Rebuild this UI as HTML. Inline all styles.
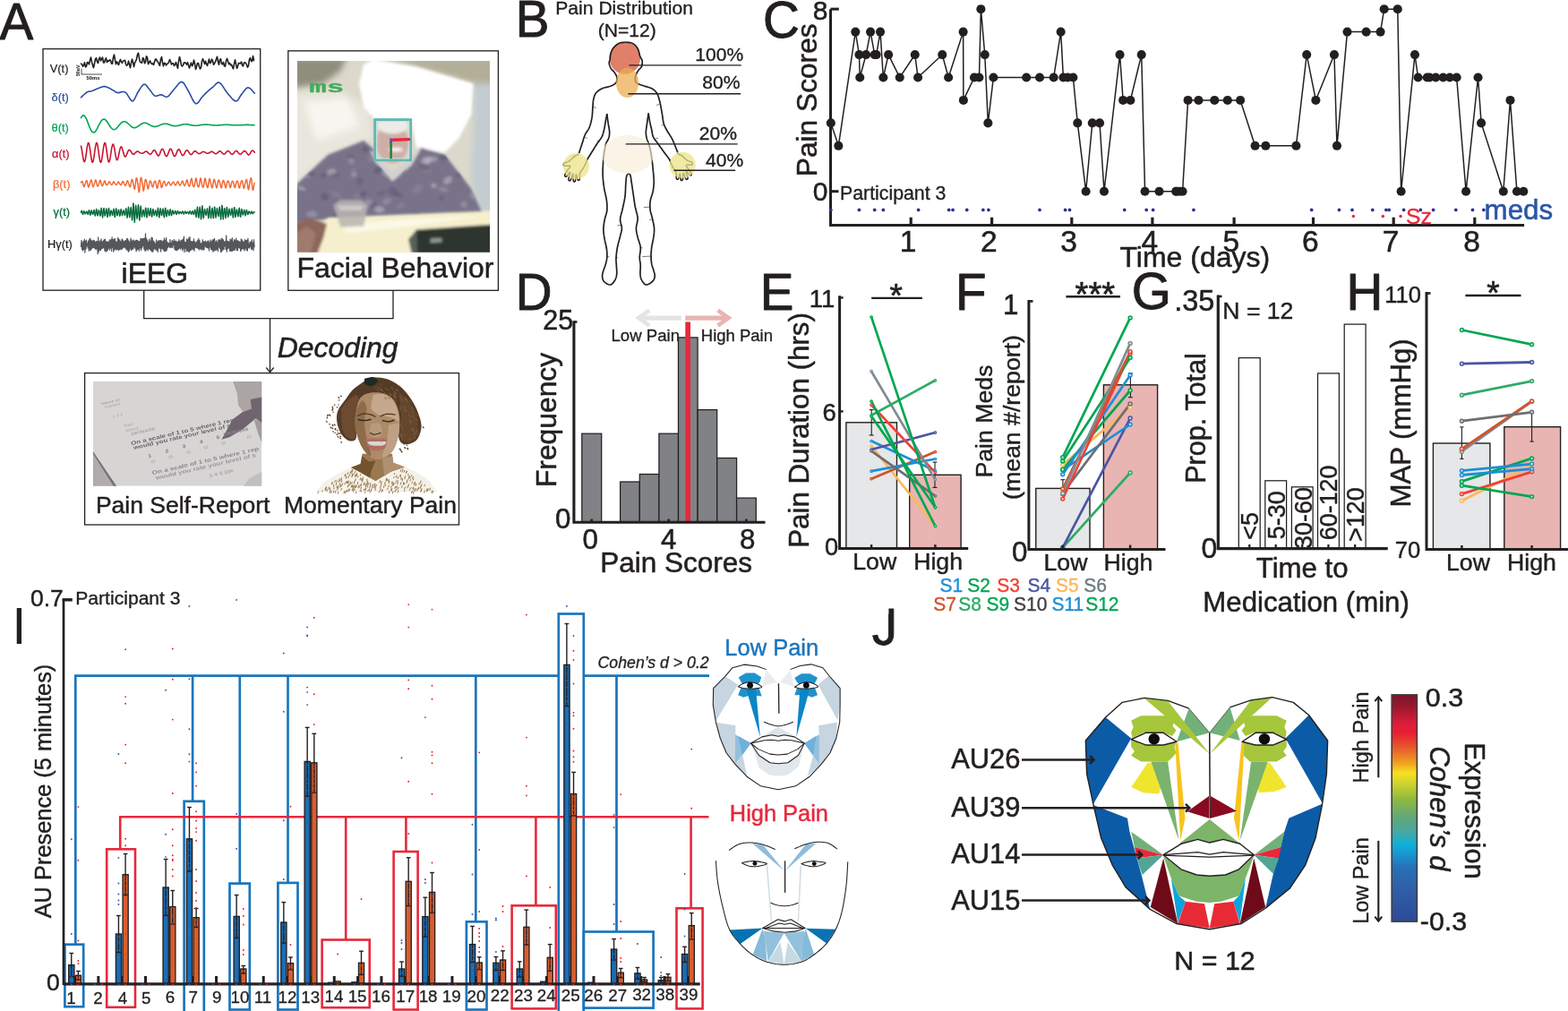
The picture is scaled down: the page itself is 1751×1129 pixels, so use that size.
<!DOCTYPE html>
<html><head><meta charset="utf-8"><title>Figure</title>
<style>
html,body{margin:0;padding:0;background:#fff;}
body{width:1751px;height:1129px;overflow:hidden;}
svg{display:block;font-family:"Liberation Sans",sans-serif;}
text{stroke-width:0.017em;stroke-linejoin:round;}
</style></head>
<body>
<svg width="1751" height="1129" viewBox="0 0 1751 1129">
<rect width="1751" height="1129" fill="#fff"/>
<g>
<text x="-0.50" y="44.00" font-size="56.5" fill="#231f20" stroke="#231f20" text-anchor="start">A</text>
<rect x="48.00" y="54.60" width="242.70" height="269.60" fill="none" stroke="#231f20" stroke-width="1.3"/>
<text x="55.80" y="81.40" font-size="12.8" fill="#231f20" stroke="#231f20" text-anchor="start">V(t)</text>
<text x="57.60" y="112.80" font-size="12.8" fill="#2a4ea0" stroke="#2a4ea0" text-anchor="start">δ(t)</text>
<text x="57.60" y="147.20" font-size="12.8" fill="#00a651" stroke="#00a651" text-anchor="start">θ(t)</text>
<text x="58.00" y="176.30" font-size="12.8" fill="#c8102e" stroke="#c8102e" text-anchor="start">α(t)</text>
<text x="59.00" y="209.80" font-size="12.8" fill="#f26a35" stroke="#f26a35" text-anchor="start">β(t)</text>
<text x="59.60" y="240.90" font-size="12.8" fill="#006838" stroke="#006838" text-anchor="start">γ(t)</text>
<text x="53.10" y="276.70" font-size="12.8" fill="#231f20" stroke="#231f20" text-anchor="start">Hγ(t)</text>
<path d="M90.5,71.1 L91.5,71.6 L92.5,74.2 L93.5,73.0 L94.5,69.8 L95.5,74.9 L96.5,74.0 L97.5,69.5 L98.5,70.0 L99.5,71.8 L100.5,67.4 L101.5,64.0 L102.5,69.2 L103.5,72.9 L104.5,75.6 L105.5,71.0 L106.5,65.9 L107.5,64.7 L108.5,68.9 L109.5,70.5 L110.5,65.8 L111.5,64.0 L112.5,67.9 L113.5,65.9 L114.5,64.0 L115.5,69.9 L116.5,69.9 L117.5,66.6 L118.5,64.8 L119.5,69.6 L120.5,67.8 L121.5,68.2 L122.5,66.8 L123.5,67.5 L124.5,71.0 L125.5,71.2 L126.5,64.2 L127.5,61.1 L128.5,67.0 L129.5,71.8 L130.5,68.9 L131.5,70.6 L132.5,72.6 L133.5,68.5 L134.5,66.4 L135.5,69.5 L136.5,70.3 L137.5,68.0 L138.5,67.7 L139.5,67.3 L140.5,71.7 L141.5,73.3 L142.5,72.2 L143.5,68.1 L144.5,72.0 L145.5,75.7 L146.5,70.2 L147.5,66.1 L148.5,69.4 L149.5,74.7 L150.5,70.2 L151.5,68.3 L152.5,66.1 L153.5,60.8 L154.5,59.1 L155.5,65.1 L156.5,69.2 L157.5,70.0 L158.5,70.1 L159.5,64.6 L160.5,65.4 L161.5,70.8 L162.5,69.3 L163.5,62.8 L164.5,64.2 L165.5,71.7 L166.5,69.9 L167.5,67.8 L168.5,70.2 L169.5,71.5 L170.5,70.9 L171.5,72.5 L172.5,69.2 L173.5,66.1 L174.5,66.1 L175.5,68.6 L176.5,69.1 L177.5,71.6 L178.5,73.4 L179.5,66.2 L180.5,63.5 L181.5,69.7 L182.5,73.9 L183.5,70.4 L184.5,70.6 L185.5,72.9 L186.5,71.5 L187.5,70.9 L188.5,69.5 L189.5,66.6 L190.5,68.7 L191.5,72.0 L192.5,70.8 L193.5,70.7 L194.5,73.4 L195.5,72.1 L196.5,69.5 L197.5,73.0 L198.5,76.3 L199.5,68.5 L200.5,63.5 L201.5,67.5 L202.5,72.9 L203.5,74.0 L204.5,72.6 L205.5,70.1 L206.5,69.7 L207.5,70.8 L208.5,72.1 L209.5,69.7 L210.5,73.2 L211.5,76.0 L212.5,72.6 L213.5,70.1 L214.5,73.8 L215.5,71.8 L216.5,67.0 L217.5,71.0 L218.5,77.4 L219.5,74.8 L220.5,70.6 L221.5,70.5 L222.5,74.3 L223.5,76.9 L224.5,75.3 L225.5,68.2 L226.5,65.7 L227.5,68.3 L228.5,71.4 L229.5,68.3 L230.5,71.5 L231.5,73.3 L232.5,69.9 L233.5,66.0 L234.5,70.6 L235.5,69.7 L236.5,66.1 L237.5,67.6 L238.5,72.3 L239.5,70.8 L240.5,69.1 L241.5,66.0 L242.5,63.2 L243.5,69.0 L244.5,72.3 L245.5,66.5 L246.5,65.8 L247.5,71.3 L248.5,71.7 L249.5,69.4 L250.5,73.7 L251.5,74.1 L252.5,68.4 L253.5,65.3 L254.5,68.3 L255.5,71.6 L256.5,70.4 L257.5,72.7 L258.5,72.1 L259.5,74.8 L260.5,76.9 L261.5,71.4 L262.5,66.8 L263.5,71.4 L264.5,76.3 L265.5,74.1 L266.5,70.4 L267.5,70.7 L268.5,70.9 L269.5,69.0 L270.5,72.7 L271.5,73.9 L272.5,70.1 L273.5,69.7 L274.5,70.6 L275.5,72.5 L276.5,75.1 L277.5,73.2 L278.5,66.1 L279.5,64.7 L280.5,68.3 L281.5,68.6 L282.5,62.5 L283.5,67.4" fill="none" stroke="#231f20" stroke-width="1.6" stroke-linejoin="round" stroke-linecap="round"/>
<path d="M90.5,108.8 L91.2,108.1 L92.2,107.1 L93.4,106.0 L94.6,104.8 L95.9,103.8 L97.0,103.0 L98.0,102.5 L99.0,102.2 L100.0,102.1 L100.9,102.0 L101.9,101.8 L103.0,101.5 L104.1,101.1 L105.3,100.6 L106.4,100.0 L107.6,99.5 L108.8,99.0 L110.0,98.5 L111.2,98.1 L112.3,97.6 L113.5,97.2 L114.7,96.8 L115.8,96.6 L117.0,96.6 L118.2,96.8 L119.3,97.2 L120.5,97.7 L121.7,98.3 L122.8,98.9 L124.0,99.5 L125.2,100.2 L126.4,100.9 L127.6,101.7 L128.7,102.5 L129.9,103.1 L131.0,103.5 L132.1,103.6 L133.1,103.4 L134.2,103.2 L135.2,102.8 L136.1,102.6 L137.0,102.5 L137.7,102.5 L138.4,102.5 L138.9,102.6 L139.5,102.9 L140.2,103.3 L141.0,104.0 L142.0,105.3 L143.1,107.1 L144.4,109.2 L145.6,111.1 L146.9,112.5 L148.0,113.0 L149.0,112.4 L150.0,111.0 L151.0,109.1 L152.0,107.0 L153.0,104.8 L154.0,103.0 L155.1,101.3 L156.3,99.4 L157.4,97.6 L158.6,95.9 L159.8,94.7 L160.9,94.1 L162.0,94.2 L163.0,94.9 L164.0,96.1 L165.0,97.4 L166.0,98.8 L167.0,100.0 L168.0,101.2 L169.0,102.6 L169.9,103.9 L170.9,105.2 L171.9,106.3 L173.0,107.0 L174.1,107.2 L175.3,107.1 L176.4,106.7 L177.6,106.3 L178.8,105.9 L180.0,105.8 L181.2,106.1 L182.3,106.7 L183.4,107.4 L184.6,108.0 L185.8,108.2 L187.0,108.0 L188.3,107.1 L189.6,105.8 L190.9,104.1 L192.3,102.3 L193.7,100.5 L195.0,99.0 L196.3,97.5 L197.7,95.7 L199.1,94.0 L200.4,92.6 L201.7,91.7 L203.0,91.4 L204.2,91.9 L205.4,93.1 L206.5,94.8 L207.6,96.8 L208.8,98.9 L210.0,101.0 L211.3,103.4 L212.8,106.4 L214.2,109.4 L215.7,112.3 L217.1,114.5 L218.5,115.7 L219.8,115.7 L221.1,114.7 L222.4,113.1 L223.6,111.3 L224.8,109.4 L226.0,108.0 L227.1,106.9 L228.1,105.8 L229.1,104.8 L230.1,103.9 L231.0,102.9 L232.0,102.0 L233.0,101.1 L234.0,100.2 L234.9,99.4 L235.9,98.6 L236.9,97.8 L238.0,97.0 L239.1,96.0 L240.2,94.8 L241.3,93.6 L242.5,92.6 L243.7,92.1 L245.0,92.3 L246.4,93.3 L247.8,95.1 L249.4,97.3 L250.9,99.7 L252.5,102.0 L254.0,104.0 L255.6,105.9 L257.2,107.8 L258.8,109.7 L260.4,111.4 L261.9,112.5 L263.3,113.0 L264.6,112.6 L265.7,111.6 L266.8,110.0 L267.8,108.2 L268.9,106.5 L270.0,105.0 L271.1,103.6 L272.3,102.0 L273.5,100.5 L274.6,99.2 L275.8,98.2 L277.0,97.8 L278.3,98.2 L279.7,99.2 L281.1,100.5 L282.4,102.0 L283.5,103.3 L284.3,104.2" fill="none" stroke="#2a4ea0" stroke-width="1.6" stroke-linejoin="round" stroke-linecap="round"/>
<path d="M90.5,131.6 L91.3,130.1 L92.1,129.2 L92.9,128.8 L93.7,128.9 L94.5,129.6 L95.3,130.6 L96.1,132.1 L96.9,133.9 L97.7,135.9 L98.5,138.0 L99.3,140.1 L100.1,142.1 L100.9,143.9 L101.7,145.5 L102.5,146.7 L103.3,147.5 L104.1,147.9 L104.9,147.9 L105.7,147.6 L106.5,146.8 L107.3,145.7 L108.1,144.4 L108.9,142.9 L109.7,141.2 L110.5,139.6 L111.3,138.0 L112.1,136.6 L112.9,135.3 L113.7,134.3 L114.5,133.6 L115.3,133.2 L116.1,133.1 L116.9,133.3 L117.7,133.8 L118.5,134.6 L119.3,135.6 L120.1,136.8 L120.9,138.0 L121.7,139.3 L122.5,140.5 L123.3,141.7 L124.1,142.7 L124.9,143.5 L125.7,144.2 L126.5,144.5 L127.3,144.7 L128.1,144.5 L128.9,144.2 L129.7,143.6 L130.5,142.9 L131.3,142.0 L132.1,141.1 L132.9,140.1 L133.7,139.1 L134.5,138.2 L135.3,137.4 L136.1,136.7 L136.9,136.2 L137.7,135.8 L138.5,135.7 L139.3,135.7 L140.1,136.0 L140.9,136.4 L141.7,136.9 L142.5,137.5 L143.3,138.3 L144.1,139.0 L144.9,139.8 L145.7,140.5 L146.5,141.2 L147.3,141.7 L148.1,142.2 L148.9,142.5 L149.7,142.6 L150.5,142.6 L151.3,142.5 L152.1,142.2 L152.9,141.8 L153.7,141.3 L154.5,140.8 L155.3,140.2 L156.1,139.6 L156.9,139.0 L157.7,138.5 L158.5,138.0 L159.3,137.7 L160.1,137.4 L160.9,137.3 L161.7,137.2 L162.5,137.3 L163.3,137.5 L164.1,137.8 L164.9,138.2 L165.7,138.6 L166.5,139.0 L167.3,139.5 L168.1,139.9 L168.9,140.4 L169.7,140.7 L170.5,141.0 L171.3,141.3 L172.1,141.4 L172.9,141.4 L173.7,141.4 L174.5,141.3 L175.3,141.1 L176.1,140.8 L176.9,140.5 L177.7,140.1 L178.5,139.8 L179.3,139.4 L180.1,139.1 L180.9,138.8 L181.7,138.5 L182.5,138.4 L183.3,138.2 L184.1,138.2 L184.9,138.2 L185.7,138.3 L186.5,138.4 L187.3,138.6 L188.1,138.9 L188.9,139.1 L189.7,139.4 L190.5,139.7 L191.3,139.9 L192.1,140.2 L192.9,140.4 L193.7,140.5 L194.5,140.6 L195.3,140.7 L196.1,140.7 L196.9,140.6 L197.7,140.5 L198.5,140.4 L199.3,140.2 L200.1,140.0 L200.9,139.8 L201.7,139.6 L202.5,139.4 L203.3,139.2 L204.1,139.0 L204.9,138.9 L205.7,138.8 L206.5,138.8 L207.3,138.7 L208.1,138.8 L208.9,138.8 L209.7,138.9 L210.5,139.1 L211.3,139.2 L212.1,139.4 L212.9,139.6 L213.7,139.7 L214.5,139.9 L215.3,140.0 L216.1,140.1 L216.9,140.2 L217.7,140.2 L218.5,140.3 L219.3,140.3 L220.1,140.2 L220.9,140.1 L221.7,140.0 L222.5,139.9 L223.3,139.8 L224.1,139.7 L224.9,139.5 L225.7,139.4 L226.5,139.3 L227.3,139.2 L228.1,139.1 L228.9,139.1 L229.7,139.1 L230.5,139.1 L231.3,139.1 L232.1,139.2 L232.9,139.2 L233.7,139.3 L234.5,139.4 L235.3,139.5 L236.1,139.6 L236.9,139.7 L237.7,139.8 L238.5,139.9 L239.3,139.9 L240.1,140.0 L240.9,140.0 L241.7,140.0 L242.5,140.0 L243.3,139.9 L244.1,139.9 L244.9,139.8 L245.7,139.8 L246.5,139.7 L247.3,139.6 L248.1,139.5 L248.9,139.5 L249.7,139.4 L250.5,139.3 L251.3,139.3 L252.1,139.3 L252.9,139.3 L253.7,139.3 L254.5,139.3 L255.3,139.4 L256.1,139.4 L256.9,139.5 L257.7,139.5 L258.5,139.6 L259.3,139.6 L260.1,139.7 L260.9,139.7 L261.7,139.8 L262.5,139.8 L263.3,139.8 L264.1,139.8 L264.9,139.8 L265.7,139.8 L266.5,139.8 L267.3,139.8 L268.1,139.7 L268.9,139.7 L269.7,139.6 L270.5,139.6 L271.3,139.5 L272.1,139.5 L272.9,139.5 L273.7,139.4 L274.5,139.4 L275.3,139.4 L276.1,139.4 L276.9,139.4 L277.7,139.4 L278.5,139.5 L279.3,139.5 L280.1,139.5 L280.9,139.6 L281.7,139.6 L282.5,139.6 L283.3,139.7 L284.1,139.7" fill="none" stroke="#00a651" stroke-width="1.6" stroke-linejoin="round" stroke-linecap="round"/>
<path d="M90.5,163.1 L91.1,165.7 L91.7,169.3 L92.3,173.2 L92.9,176.8 L93.5,179.5 L94.1,180.7 L94.7,180.2 L95.3,178.1 L95.9,174.5 L96.5,170.1 L97.1,165.7 L97.7,162.1 L98.3,159.9 L98.9,159.5 L99.5,160.8 L100.1,163.8 L100.7,167.8 L101.3,172.3 L101.9,176.5 L102.5,179.6 L103.1,181.3 L103.7,181.1 L104.3,179.1 L104.9,175.7 L105.5,171.4 L106.1,166.9 L106.7,163.0 L107.3,160.4 L107.9,159.4 L108.5,160.3 L109.1,162.8 L109.7,166.6 L110.3,171.0 L110.9,175.4 L111.5,178.9 L112.1,181.0 L112.7,181.3 L113.3,179.8 L113.9,176.8 L114.5,172.6 L115.1,168.1 L115.7,164.0 L116.3,161.0 L116.9,159.5 L117.5,159.8 L118.1,161.9 L118.7,165.4 L119.3,169.8 L119.9,174.2 L120.5,177.9 L121.1,180.3 L121.7,181.0 L122.3,179.9 L122.9,177.3 L123.5,173.6 L124.1,169.5 L124.7,165.7 L125.3,162.8 L125.9,161.2 L126.5,161.1 L127.1,162.7 L127.7,165.4 L128.3,168.9 L128.9,172.5 L129.5,175.6 L130.1,177.8 L130.7,178.7 L131.3,178.2 L131.9,176.4 L132.5,173.7 L133.1,170.6 L133.7,167.7 L134.3,165.4 L134.9,164.1 L135.5,163.9 L136.1,164.8 L136.7,166.6 L137.3,168.8 L137.9,171.1 L138.5,173.0 L139.1,174.4 L139.7,174.9 L140.3,174.7 L140.9,173.9 L141.5,172.5 L142.1,170.9 L142.7,169.4 L143.3,168.3 L143.9,167.5 L144.5,167.4 L145.1,167.7 L145.7,168.5 L146.3,169.4 L146.9,170.4 L147.5,171.3 L148.1,171.9 L148.7,172.3 L149.3,172.3 L149.9,172.0 L150.5,171.5 L151.1,170.8 L151.7,170.2 L152.3,169.6 L152.9,169.2 L153.5,169.1 L154.1,169.1 L154.7,169.4 L155.3,169.8 L155.9,170.3 L156.5,170.7 L157.1,171.0 L157.7,171.2 L158.3,171.2 L158.9,171.2 L159.5,171.1 L160.1,170.8 L160.7,170.4 L161.3,169.9 L161.9,169.5 L162.5,169.2 L163.1,169.1 L163.7,169.2 L164.3,169.5 L164.9,170.1 L165.5,170.7 L166.1,171.3 L166.7,171.9 L167.3,172.2 L167.9,172.3 L168.5,172.0 L169.1,171.4 L169.7,170.6 L170.3,169.6 L170.9,168.7 L171.5,168.0 L172.1,167.7 L172.7,167.8 L173.3,168.4 L173.9,169.4 L174.5,170.6 L175.1,171.9 L175.7,173.0 L176.3,173.8 L176.9,174.0 L177.5,173.6 L178.1,172.6 L178.7,171.2 L179.3,169.5 L179.9,168.0 L180.5,166.8 L181.1,166.2 L181.7,166.4 L182.3,167.2 L182.9,168.5 L183.5,170.2 L184.1,171.9 L184.7,173.3 L185.3,174.3 L185.9,174.6 L186.5,174.2 L187.1,173.2 L187.7,171.7 L188.3,170.0 L188.9,168.4 L189.5,167.1 L190.1,166.3 L190.7,166.3 L191.3,166.9 L191.9,168.1 L192.5,169.7 L193.1,171.4 L193.7,173.0 L194.3,174.1 L194.9,174.6 L195.5,174.3 L196.1,173.4 L196.7,172.1 L197.3,170.5 L197.9,168.9 L198.5,167.6 L199.1,166.9 L199.7,166.7 L200.3,167.2 L200.9,168.1 L201.5,169.4 L202.1,170.8 L202.7,172.1 L203.3,173.1 L203.9,173.6 L204.5,173.5 L205.1,173.0 L205.7,172.0 L206.3,170.8 L206.9,169.6 L207.5,168.6 L208.1,167.9 L208.7,167.7 L209.3,167.9 L209.9,168.5 L210.5,169.4 L211.1,170.4 L211.7,171.4 L212.3,172.1 L212.9,172.5 L213.5,172.6 L214.1,172.3 L214.7,171.7 L215.3,170.9 L215.9,170.1 L216.5,169.4 L217.1,168.9 L217.7,168.7 L218.3,168.8 L218.9,169.2 L219.5,169.7 L220.1,170.3 L220.7,170.8 L221.3,171.2 L221.9,171.5 L222.5,171.6 L223.1,171.5 L223.7,171.2 L224.3,170.8 L224.9,170.4 L225.5,169.9 L226.1,169.6 L226.7,169.4 L227.3,169.4 L227.9,169.6 L228.5,169.8 L229.1,170.2 L229.7,170.6 L230.3,170.9 L230.9,171.1 L231.5,171.2 L232.1,171.2 L232.7,171.1 L233.3,170.8 L233.9,170.5 L234.5,170.1 L235.1,169.7 L235.7,169.5 L236.3,169.3 L236.9,169.4 L237.5,169.6 L238.1,170.0 L238.7,170.5 L239.3,171.0 L239.9,171.4 L240.5,171.7 L241.1,171.7 L241.7,171.6 L242.3,171.2 L242.9,170.7 L243.5,170.1 L244.1,169.5 L244.7,169.0 L245.3,168.8 L245.9,168.8 L246.5,169.2 L247.1,169.7 L247.7,170.3 L248.3,171.0 L248.9,171.6 L249.5,172.0 L250.1,172.1 L250.7,172.0 L251.3,171.6 L251.9,170.9 L252.5,170.2 L253.1,169.5 L253.7,169.0 L254.3,168.6 L254.9,168.6 L255.5,168.9 L256.1,169.4 L256.7,170.1 L257.3,170.9 L257.9,171.6 L258.5,172.1 L259.1,172.3 L259.7,172.2 L260.3,171.9 L260.9,171.2 L261.5,170.4 L262.1,169.6 L262.7,169.0 L263.3,168.5 L263.9,168.4 L264.5,168.7 L265.1,169.2 L265.7,169.9 L266.3,170.7 L266.9,171.4 L267.5,171.9 L268.1,172.2 L268.7,172.2 L269.3,171.9 L269.9,171.3 L270.5,170.6 L271.1,169.9 L271.7,169.2 L272.3,168.8 L272.9,168.5 L273.5,168.5 L274.1,168.9 L274.7,169.6 L275.3,170.4 L275.9,171.4 L276.5,172.2 L277.1,172.8 L277.7,173.0 L278.3,172.8 L278.9,172.1 L279.5,171.1 L280.1,170.0 L280.7,169.0 L281.3,168.4 L281.9,168.1 L282.5,168.2 L283.1,168.7 L283.7,169.4 L284.3,170.2" fill="none" stroke="#c8102e" stroke-width="1.55" stroke-linejoin="round" stroke-linecap="round"/>
<path d="M90.5,204.0 L91.0,203.1 L91.4,202.5 L91.9,202.5 L92.3,203.6 L92.8,205.5 L93.2,207.5 L93.7,208.6 L94.1,208.3 L94.6,207.1 L95.0,205.6 L95.5,204.2 L95.9,202.9 L96.4,201.8 L96.8,201.6 L97.3,202.6 L97.7,204.7 L98.2,207.2 L98.6,208.8 L99.1,208.9 L99.5,207.8 L100.0,206.3 L100.4,204.6 L100.9,203.0 L101.3,201.5 L101.8,200.9 L102.2,201.7 L102.7,203.9 L103.1,206.4 L103.6,208.2 L104.0,208.6 L104.5,207.9 L104.9,206.6 L105.4,205.2 L105.8,203.5 L106.3,201.9 L106.7,200.9 L107.2,201.3 L107.6,203.2 L108.1,205.6 L108.5,207.4 L109.0,208.1 L109.4,207.8 L109.9,206.9 L110.3,205.6 L110.8,204.1 L111.2,202.4 L111.7,201.2 L112.1,201.2 L112.6,202.7 L113.0,204.8 L113.5,206.6 L113.9,207.4 L114.4,207.4 L114.8,206.8 L115.3,205.9 L115.7,204.7 L116.2,203.2 L116.6,202.1 L117.1,201.9 L117.5,202.8 L118.0,204.3 L118.4,205.7 L118.9,206.5 L119.3,206.7 L119.8,206.5 L120.2,206.0 L120.7,205.1 L121.1,204.0 L121.6,203.1 L122.0,202.8 L122.5,203.2 L122.9,204.2 L123.4,205.2 L123.8,205.9 L124.3,206.2 L124.7,206.3 L125.2,206.0 L125.6,205.4 L126.1,204.4 L126.5,203.4 L127.0,202.9 L127.4,203.2 L127.9,204.0 L128.3,204.9 L128.8,205.6 L129.2,206.1 L129.7,206.3 L130.1,206.2 L130.6,205.7 L131.0,204.8 L131.5,203.7 L131.9,203.1 L132.4,203.1 L132.8,203.7 L133.3,204.6 L133.7,205.4 L134.2,206.1 L134.6,206.5 L135.1,206.6 L135.5,206.2 L136.0,205.1 L136.4,203.7 L136.9,202.7 L137.3,202.5 L137.8,203.1 L138.2,204.2 L138.7,205.2 L139.1,206.2 L139.6,206.9 L140.0,207.4 L140.5,207.0 L140.9,205.8 L141.4,203.9 L141.8,202.4 L142.3,201.8 L142.7,202.3 L143.2,203.5 L143.6,204.9 L144.1,206.3 L144.5,207.7 L145.0,208.8 L145.4,208.7 L145.9,207.1 L146.3,204.3 L146.8,201.6 L147.2,200.3 L147.7,200.7 L148.1,202.2 L148.6,204.1 L149.0,206.3 L149.5,208.6 L149.9,210.6 L150.4,211.1 L150.8,209.3 L151.3,205.4 L151.7,201.4 L152.2,198.9 L152.6,198.8 L153.1,200.3 L153.5,202.7 L154.0,205.8 L154.4,209.6 L154.9,213.2 L155.3,214.7 L155.8,212.7 L156.2,207.5 L156.7,202.0 L157.1,198.7 L157.6,198.2 L158.0,199.5 L158.5,201.7 L158.9,204.7 L159.4,208.3 L159.8,211.6 L160.3,213.2 L160.7,211.8 L161.2,208.2 L161.6,204.1 L162.1,201.4 L162.5,200.4 L163.0,200.8 L163.4,202.0 L163.9,203.9 L164.3,206.6 L164.8,209.4 L165.2,211.0 L165.7,210.4 L166.1,208.1 L166.6,205.3 L167.0,203.1 L167.5,202.1 L167.9,202.0 L168.4,202.5 L168.8,203.7 L169.3,205.5 L169.7,207.4 L170.2,208.8 L170.6,209.0 L171.1,207.8 L171.5,205.9 L172.0,204.0 L172.4,202.8 L172.9,202.2 L173.3,202.2 L173.8,202.9 L174.2,204.8 L174.7,207.4 L175.1,209.6 L175.6,210.3 L176.0,209.1 L176.5,206.8 L176.9,204.5 L177.4,202.7 L177.8,201.6 L178.3,201.2 L178.7,201.9 L179.2,203.9 L179.6,206.6 L180.1,208.9 L180.5,209.7 L181.0,208.8 L181.4,207.0 L181.9,205.2 L182.3,203.8 L182.8,202.9 L183.2,202.4 L183.7,202.7 L184.1,203.8 L184.6,205.4 L185.0,206.9 L185.5,207.5 L185.9,207.1 L186.4,206.3 L186.8,205.4 L187.3,204.5 L187.7,203.8 L188.2,203.3 L188.6,203.2 L189.1,203.7 L189.5,204.9 L190.0,206.1 L190.4,206.9 L190.9,206.9 L191.3,206.4 L191.8,205.6 L192.2,204.8 L192.7,204.1 L193.1,203.4 L193.6,203.1 L194.0,203.5 L194.5,204.5 L194.9,205.7 L195.4,206.5 L195.8,206.8 L196.3,206.5 L196.7,205.8 L197.2,205.1 L197.6,204.2 L198.1,203.3 L198.5,202.7 L199.0,202.8 L199.4,203.9 L199.9,205.4 L200.3,206.6 L200.8,207.1 L201.2,206.9 L201.7,206.3 L202.1,205.5 L202.6,204.3 L203.0,203.0 L203.5,202.0 L203.9,202.0 L204.4,203.1 L204.8,204.8 L205.3,206.4 L205.7,207.3 L206.2,207.4 L206.6,206.9 L207.1,206.0 L207.5,204.6 L208.0,202.8 L208.4,201.2 L208.9,200.7 L209.3,201.8 L209.8,204.0 L210.2,206.2 L210.7,207.6 L211.1,208.1 L211.6,207.8 L212.0,206.9 L212.5,205.2 L212.9,202.7 L213.4,200.4 L213.8,199.3 L214.3,200.3 L214.7,202.8 L215.2,205.6 L215.6,207.6 L216.1,208.5 L216.5,208.6 L217.0,207.9 L217.4,206.1 L217.9,203.3 L218.3,200.5 L218.8,198.9 L219.2,199.6 L219.7,201.9 L220.1,204.7 L220.6,206.9 L221.0,208.2 L221.5,208.8 L221.9,208.6 L222.4,207.1 L222.8,204.3 L223.3,201.1 L223.7,199.1 L224.2,199.2 L224.6,201.2 L225.1,203.9 L225.5,206.2 L226.0,207.9 L226.4,209.0 L226.9,209.2 L227.3,208.1 L227.8,205.3 L228.2,201.9 L228.7,199.5 L229.1,199.1 L229.6,200.7 L230.0,203.1 L230.5,205.5 L230.9,207.5 L231.4,208.9 L231.8,209.7 L232.3,208.9 L232.7,206.4 L233.2,203.1 L233.6,200.3 L234.1,199.5 L234.5,200.6 L235.0,202.6 L235.4,204.8 L235.9,206.8 L236.3,208.6 L236.8,209.7 L237.2,209.5 L237.7,207.4 L238.1,204.2 L238.6,201.4 L239.0,200.2 L239.5,200.7 L239.9,202.3 L240.4,204.2 L240.8,206.1 L241.3,208.1 L241.7,209.6 L242.2,209.8 L242.6,208.2 L243.1,205.3 L243.5,202.5 L244.0,201.0 L244.4,201.0 L244.9,202.1 L245.3,203.6 L245.8,205.5 L246.2,207.5 L246.7,209.3 L247.1,209.9 L247.6,208.8 L248.0,206.2 L248.5,203.5 L248.9,201.8 L249.4,201.4 L249.8,202.1 L250.3,203.2 L250.7,204.8 L251.2,206.8 L251.6,208.8 L252.1,209.8 L252.5,209.1 L253.0,207.0 L253.4,204.4 L253.9,202.6 L254.3,201.9 L254.8,202.1 L255.2,202.9 L255.7,204.2 L256.1,206.2 L256.6,208.2 L257.0,209.5 L257.5,209.3 L257.9,207.5 L258.4,205.2 L258.8,203.4 L259.3,202.4 L259.7,202.3 L260.2,202.7 L260.6,203.7 L261.1,205.5 L261.5,207.7 L262.0,209.4 L262.4,209.6 L262.9,208.2 L263.3,205.9 L263.8,203.9 L264.2,202.7 L264.7,202.1 L265.1,202.1 L265.6,202.9 L266.0,204.8 L266.5,207.3 L266.9,209.4 L267.4,210.0 L267.8,208.9 L268.3,206.7 L268.7,204.5 L269.2,203.0 L269.6,202.0 L270.1,201.6 L270.5,202.1 L271.0,203.9 L271.4,206.6 L271.9,209.2 L272.3,210.4 L272.8,209.7 L273.2,207.6 L273.7,205.2 L274.1,203.2 L274.6,201.6 L275.0,200.5 L275.5,200.6 L275.9,202.4 L276.4,205.9 L276.8,209.6 L277.3,211.7 L277.7,211.4 L278.2,209.1 L278.6,206.2 L279.1,203.5 L279.5,201.0 L280.0,199.1 L280.4,198.6 L280.9,200.4 L281.3,204.5 L281.8,209.1 L282.2,212.1 L282.7,212.3 L283.1,210.2 L283.6,207.3 L284.0,204.3" fill="none" stroke="#f26a35" stroke-width="1.5" stroke-linejoin="round" stroke-linecap="round"/>
<path d="M90.5,237.4 L90.9,235.7 L91.2,235.1 L91.6,235.9 L91.9,237.7 L92.3,239.3 L92.7,239.6 L93.0,238.5 L93.4,236.8 L93.7,235.7 L94.1,235.8 L94.5,236.8 L94.8,238.1 L95.2,239.0 L95.5,238.8 L95.9,237.7 L96.3,236.6 L96.6,236.1 L97.0,236.2 L97.3,237.3 L97.7,238.7 L98.1,239.5 L98.4,239.0 L98.8,237.2 L99.1,235.3 L99.5,234.6 L99.9,235.7 L100.2,238.1 L100.6,240.0 L100.9,240.3 L101.3,238.7 L101.7,236.4 L102.0,234.8 L102.4,235.0 L102.7,236.7 L103.1,238.5 L103.5,239.4 L103.8,239.2 L104.2,237.8 L104.5,235.7 L104.9,234.4 L105.3,235.0 L105.6,237.4 L106.0,240.1 L106.3,241.2 L106.7,239.9 L107.1,236.8 L107.4,234.0 L107.8,233.4 L108.1,235.3 L108.5,238.5 L108.9,240.8 L109.2,240.8 L109.6,238.7 L109.9,236.1 L110.3,234.6 L110.7,235.0 L111.0,236.7 L111.4,239.3 L111.7,241.2 L112.1,240.8 L112.5,237.8 L112.8,234.1 L113.2,232.2 L113.5,233.7 L113.9,237.7 L114.3,241.7 L114.6,243.0 L115.0,240.6 L115.3,236.3 L115.7,232.8 L116.1,232.5 L116.4,235.2 L116.8,238.9 L117.1,241.1 L117.5,240.7 L117.9,238.6 L118.2,235.3 L118.6,232.9 L118.9,233.3 L119.3,236.5 L119.7,240.6 L120.0,242.7 L120.4,241.4 L120.7,237.5 L121.1,233.7 L121.5,232.4 L121.8,234.3 L122.2,238.0 L122.5,240.8 L122.9,241.2 L123.3,239.2 L123.6,236.6 L124.0,235.0 L124.3,235.1 L124.7,236.5 L125.1,238.5 L125.4,240.3 L125.8,240.4 L126.1,238.3 L126.5,235.2 L126.9,233.1 L127.2,233.7 L127.6,236.9 L127.9,240.7 L128.3,242.5 L128.7,241.0 L129.0,237.2 L129.4,233.6 L129.7,232.6 L130.1,234.7 L130.5,238.2 L130.8,240.6 L131.2,240.6 L131.5,238.7 L131.9,236.4 L132.3,234.4 L132.6,234.2 L133.0,236.2 L133.3,239.3 L133.7,241.3 L134.1,240.9 L134.4,238.2 L134.8,234.9 L135.1,233.4 L135.5,234.5 L135.9,237.3 L136.2,239.9 L136.6,240.7 L136.9,239.4 L137.3,237.1 L137.7,235.1 L138.0,234.8 L138.4,236.1 L138.7,238.1 L139.1,240.0 L139.5,240.6 L139.8,238.9 L140.2,235.7 L140.5,233.0 L140.9,232.9 L141.3,236.0 L141.6,240.5 L142.0,243.3 L142.3,242.4 L142.7,238.1 L143.1,233.3 L143.4,231.1 L143.8,233.0 L144.1,237.6 L144.5,241.8 L144.9,242.9 L145.2,240.5 L145.6,236.5 L145.9,232.8 L146.3,231.4 L146.7,234.1 L147.0,240.0 L147.4,245.3 L147.7,246.0 L148.1,240.8 L148.5,232.5 L148.8,226.8 L149.2,227.7 L149.5,235.2 L149.9,244.2 L150.3,248.5 L150.6,245.5 L151.0,237.9 L151.3,231.0 L151.7,229.2 L152.1,232.5 L152.4,238.1 L152.8,242.5 L153.1,244.3 L153.5,241.6 L153.9,235.3 L154.2,229.7 L154.6,228.7 L154.9,233.5 L155.3,241.1 L155.7,246.1 L156.0,245.4 L156.4,239.7 L156.7,233.2 L157.1,230.0 L157.5,231.8 L157.8,236.6 L158.2,241.0 L158.5,242.3 L158.9,240.4 L159.3,237.3 L159.6,235.2 L160.0,234.3 L160.3,235.3 L160.7,238.1 L161.1,241.0 L161.4,242.0 L161.8,239.8 L162.1,235.7 L162.5,232.4 L162.9,232.1 L163.2,235.4 L163.6,240.0 L163.9,243.0 L164.3,242.3 L164.7,238.5 L165.0,234.3 L165.4,232.5 L165.7,233.8 L166.1,237.2 L166.5,239.9 L166.8,241.0 L167.2,240.1 L167.5,237.0 L167.9,233.8 L168.3,232.7 L168.6,234.7 L169.0,238.6 L169.3,241.7 L169.7,242.1 L170.1,239.4 L170.4,235.6 L170.8,233.3 L171.1,233.7 L171.5,236.3 L171.9,239.2 L172.2,240.6 L172.6,240.0 L172.9,237.8 L173.3,235.7 L173.7,234.9 L174.0,235.3 L174.4,237.4 L174.7,240.2 L175.1,241.6 L175.5,240.2 L175.8,236.6 L176.2,233.1 L176.5,232.1 L176.9,234.6 L177.3,239.1 L177.6,242.7 L178.0,242.8 L178.3,239.4 L178.7,235.1 L179.1,232.6 L179.4,233.4 L179.8,236.5 L180.1,239.6 L180.5,240.7 L180.9,240.1 L181.2,237.7 L181.6,234.5 L181.9,232.8 L182.3,234.1 L182.7,237.8 L183.0,241.6 L183.4,242.9 L183.7,240.5 L184.1,236.1 L184.5,232.6 L184.8,232.2 L185.2,235.1 L185.5,239.3 L185.9,241.8 L186.3,241.3 L186.6,238.5 L187.0,235.7 L187.3,234.4 L187.7,235.1 L188.1,236.9 L188.4,239.5 L188.8,240.9 L189.1,240.1 L189.5,237.4 L189.9,234.6 L190.2,233.6 L190.6,235.0 L190.9,238.0 L191.3,240.4 L191.7,240.7 L192.0,239.0 L192.4,236.5 L192.7,234.9 L193.1,235.1 L193.5,236.6 L193.8,238.3 L194.2,239.1 L194.5,238.7 L194.9,237.8 L195.3,236.4 L195.6,235.5 L196.0,235.8 L196.3,237.2 L196.7,238.9 L197.1,239.6 L197.4,238.9 L197.8,237.3 L198.1,235.8 L198.5,235.4 L198.9,236.3 L199.2,237.8 L199.6,238.9 L199.9,238.9 L200.3,238.0 L200.7,236.9 L201.0,236.3 L201.4,236.4 L201.7,237.1 L202.1,238.0 L202.5,238.6 L202.8,238.5 L203.2,237.6 L203.5,236.4 L203.9,235.8 L204.3,236.2 L204.6,237.4 L205.0,238.6 L205.3,239.1 L205.7,238.5 L206.1,237.2 L206.4,236.1 L206.8,235.9 L207.1,236.7 L207.5,237.8 L207.9,238.4 L208.2,238.4 L208.6,237.7 L208.9,237.0 L209.3,236.3 L209.7,236.3 L210.0,237.1 L210.4,238.2 L210.7,238.9 L211.1,238.6 L211.5,237.5 L211.8,236.3 L212.2,235.7 L212.5,236.2 L212.9,237.5 L213.3,238.9 L213.6,239.4 L214.0,238.6 L214.3,237.0 L214.7,235.7 L215.1,235.6 L215.4,236.6 L215.8,238.0 L216.1,239.4 L216.5,239.6 L216.9,238.3 L217.2,235.9 L217.6,234.1 L217.9,234.3 L218.3,236.7 L218.7,240.3 L219.0,242.6 L219.4,241.6 L219.7,237.5 L220.1,232.9 L220.5,231.0 L220.8,233.3 L221.2,238.2 L221.5,242.5 L221.9,243.3 L222.3,240.3 L222.6,236.0 L223.0,231.9 L223.3,231.0 L223.7,234.6 L224.1,240.5 L224.4,244.8 L224.8,244.4 L225.1,239.4 L225.5,233.1 L225.9,229.7 L226.2,231.3 L226.6,236.7 L226.9,241.9 L227.3,243.7 L227.7,241.4 L228.0,237.2 L228.4,233.9 L228.7,233.4 L229.1,235.4 L229.5,238.0 L229.8,239.7 L230.2,240.4 L230.5,239.1 L230.9,236.0 L231.3,233.1 L231.6,232.7 L232.0,235.6 L232.3,240.3 L232.7,243.7 L233.1,243.1 L233.4,238.7 L233.8,233.1 L234.1,230.2 L234.5,232.0 L234.9,237.2 L235.2,242.2 L235.6,243.9 L235.9,241.4 L236.3,236.8 L236.7,233.5 L237.0,232.2 L237.4,234.4 L237.7,239.0 L238.1,243.1 L238.5,243.7 L238.8,240.1 L239.2,234.7 L239.5,231.0 L239.9,231.5 L240.3,235.7 L240.6,240.7 L241.0,243.1 L241.3,242.0 L241.7,238.0 L242.1,233.9 L242.4,232.3 L242.8,234.0 L243.1,237.6 L243.5,240.4 L243.9,241.7 L244.2,240.3 L244.6,236.4 L244.9,232.3 L245.3,231.0 L245.7,234.0 L246.0,239.9 L246.4,244.7 L246.7,245.0 L247.1,240.2 L247.5,233.5 L247.8,229.2 L248.2,230.3 L248.5,235.8 L248.9,242.0 L249.3,244.8 L249.6,242.7 L250.0,237.7 L250.3,233.5 L250.7,232.4 L251.1,233.8 L251.4,238.0 L251.8,242.3 L252.1,243.6 L252.5,240.9 L252.9,235.8 L253.2,231.8 L253.6,231.5 L253.9,235.0 L254.3,239.6 L254.7,242.3 L255.0,241.7 L255.4,238.7 L255.7,235.0 L256.1,233.1 L256.5,234.1 L256.8,236.9 L257.2,239.6 L257.5,240.5 L257.9,239.9 L258.3,237.3 L258.6,234.2 L259.0,232.7 L259.3,234.3 L259.7,238.3 L260.1,242.3 L260.4,243.2 L260.8,240.4 L261.1,235.4 L261.5,231.6 L261.9,231.6 L262.2,235.3 L262.6,240.0 L262.9,242.6 L263.3,241.7 L263.7,238.3 L264.0,235.0 L264.4,233.8 L264.7,234.7 L265.1,237.2 L265.5,240.3 L265.8,241.9 L266.2,240.6 L266.5,236.9 L266.9,233.3 L267.3,232.1 L267.6,234.4 L268.0,238.7 L268.3,242.0 L268.7,242.3 L269.1,239.5 L269.4,235.6 L269.8,233.3 L270.1,233.7 L270.5,236.4 L270.9,239.1 L271.2,240.2 L271.6,239.4 L271.9,237.8 L272.3,235.6 L272.7,234.3 L273.0,235.0 L273.4,237.4 L273.7,240.0 L274.1,240.9 L274.5,239.5 L274.8,236.9 L275.2,234.7 L275.5,234.4 L275.9,236.0 L276.3,238.2 L276.6,239.7 L277.0,239.5 L277.3,238.1 L277.7,236.6 L278.1,235.9 L278.4,236.2 L278.8,237.1 L279.1,238.2 L279.5,238.8 L279.9,238.5 L280.2,237.5 L280.6,236.4 L280.9,236.0 L281.3,236.4 L281.7,237.5 L282.0,238.5 L282.4,238.8 L282.7,238.1 L283.1,237.1 L283.5,236.4 L283.8,236.4 L284.2,237.0" fill="none" stroke="#006838" stroke-width="1.3" stroke-linejoin="round" stroke-linecap="round"/>
<path d="M90.5,275.4 L91.0,268.3 L91.6,278.5 L92.1,270.9 L92.7,280.0 L93.2,269.3 L93.8,278.3 L94.3,267.2 L94.9,282.1 L95.4,269.1 L96.0,278.0 L96.5,268.2 L97.1,274.4 L97.6,272.0 L98.2,276.8 L98.7,269.0 L99.3,280.2 L99.8,267.2 L100.4,279.1 L100.9,266.2 L101.5,279.2 L102.0,268.4 L102.6,277.7 L103.1,269.3 L103.7,276.3 L104.2,268.2 L104.8,276.5 L105.3,268.7 L105.9,277.3 L106.4,270.2 L107.0,278.8 L107.5,269.6 L108.1,277.7 L108.6,269.4 L109.2,283.5 L109.7,265.0 L110.3,281.2 L110.8,270.0 L111.4,279.1 L111.9,268.8 L112.5,279.4 L113.0,266.9 L113.6,277.5 L114.1,270.2 L114.7,277.3 L115.2,268.9 L115.8,276.5 L116.3,267.6 L116.9,279.9 L117.4,267.2 L118.0,280.9 L118.5,270.0 L119.1,280.6 L119.6,269.6 L120.2,279.3 L120.7,270.6 L121.3,277.2 L121.8,269.2 L122.4,279.2 L122.9,267.6 L123.5,277.0 L124.0,267.8 L124.6,280.4 L125.1,264.9 L125.7,276.7 L126.2,267.5 L126.8,281.1 L127.3,267.2 L127.9,279.0 L128.4,266.5 L129.0,278.0 L129.5,269.8 L130.1,279.2 L130.6,270.0 L131.2,278.2 L131.7,265.3 L132.3,279.7 L132.8,267.0 L133.4,278.6 L133.9,268.2 L134.5,278.0 L135.0,269.8 L135.6,278.6 L136.1,266.9 L136.7,277.6 L137.2,268.0 L137.8,276.4 L138.3,269.8 L138.9,275.9 L139.4,268.8 L140.0,277.0 L140.5,268.6 L141.1,278.7 L141.6,266.5 L142.2,279.2 L142.7,266.7 L143.3,281.3 L143.8,268.8 L144.4,280.0 L144.9,270.5 L145.5,277.6 L146.0,266.1 L146.6,279.6 L147.1,268.0 L147.7,278.3 L148.2,269.2 L148.8,278.0 L149.3,267.9 L149.9,275.9 L150.4,269.5 L151.0,277.3 L151.5,268.5 L152.1,280.8 L152.6,268.2 L153.2,279.2 L153.7,268.6 L154.3,278.0 L154.8,269.6 L155.4,280.1 L155.9,269.3 L156.5,277.0 L157.0,266.4 L157.6,279.4 L158.1,266.8 L158.7,276.7 L159.2,266.4 L159.8,274.4 L160.3,266.6 L160.9,278.1 L161.4,266.0 L162.0,280.3 L162.5,260.9 L163.1,279.7 L163.6,266.4 L164.2,277.8 L164.7,268.2 L165.3,279.6 L165.8,270.3 L166.4,277.7 L166.9,267.0 L167.5,278.7 L168.0,269.2 L168.6,279.8 L169.1,265.2 L169.7,280.9 L170.2,265.5 L170.8,281.2 L171.3,269.2 L171.9,278.7 L172.4,270.2 L173.0,277.3 L173.5,272.2 L174.1,279.1 L174.6,267.8 L175.2,279.3 L175.7,270.0 L176.3,281.3 L176.8,268.8 L177.4,276.9 L177.9,268.8 L178.5,277.5 L179.0,268.3 L179.6,281.0 L180.1,268.6 L180.7,277.3 L181.2,269.9 L181.8,278.2 L182.3,268.8 L182.9,280.0 L183.4,266.0 L184.0,280.4 L184.5,268.2 L185.1,280.8 L185.6,265.5 L186.2,279.3 L186.7,270.2 L187.3,276.6 L187.8,271.3 L188.4,275.0 L188.9,271.4 L189.5,276.7 L190.0,267.5 L190.6,276.1 L191.1,271.6 L191.7,276.0 L192.2,268.3 L192.8,276.6 L193.3,269.6 L193.9,273.3 L194.4,267.4 L195.0,278.3 L195.5,269.4 L196.1,279.5 L196.6,269.2 L197.2,279.7 L197.7,270.4 L198.3,279.0 L198.8,269.6 L199.4,278.1 L199.9,267.5 L200.5,277.0 L201.0,269.8 L201.6,278.3 L202.1,268.5 L202.7,276.9 L203.2,268.1 L203.8,279.9 L204.3,267.0 L204.9,277.7 L205.4,264.2 L206.0,281.5 L206.5,270.3 L207.1,277.0 L207.6,270.3 L208.2,280.6 L208.7,266.8 L209.3,279.8 L209.8,267.7 L210.4,281.1 L210.9,265.5 L211.5,281.1 L212.0,264.7 L212.6,279.6 L213.1,269.3 L213.7,279.0 L214.2,269.6 L214.8,277.9 L215.3,269.8 L215.9,278.8 L216.4,266.8 L217.0,280.1 L217.5,269.8 L218.1,276.2 L218.6,270.8 L219.2,276.6 L219.7,269.9 L220.3,276.9 L220.8,268.1 L221.4,277.6 L221.9,266.5 L222.5,279.0 L223.0,268.7 L223.6,277.5 L224.1,272.0 L224.7,278.9 L225.2,271.2 L225.8,278.2 L226.3,267.7 L226.9,279.3 L227.4,269.9 L228.0,278.6 L228.5,269.8 L229.1,274.9 L229.6,269.2 L230.2,276.2 L230.7,270.6 L231.3,276.6 L231.8,269.4 L232.4,277.0 L232.9,268.9 L233.5,279.9 L234.0,271.0 L234.6,275.9 L235.1,268.0 L235.7,278.4 L236.2,269.9 L236.8,279.0 L237.3,267.9 L237.9,281.1 L238.4,267.7 L239.0,280.2 L239.5,266.3 L240.1,279.2 L240.6,270.1 L241.2,279.4 L241.7,268.6 L242.3,278.4 L242.8,270.7 L243.4,280.4 L243.9,267.9 L244.5,276.0 L245.0,267.6 L245.6,277.4 L246.1,268.3 L246.7,281.6 L247.2,266.1 L247.8,280.8 L248.3,266.8 L248.9,278.9 L249.4,267.9 L250.0,278.5 L250.5,270.0 L251.1,274.7 L251.6,269.7 L252.2,278.5 L252.7,263.0 L253.3,281.1 L253.8,269.4 L254.4,277.7 L254.9,269.6 L255.5,276.8 L256.0,270.1 L256.6,280.1 L257.1,267.0 L257.7,280.3 L258.2,267.8 L258.8,280.4 L259.3,265.7 L259.9,280.0 L260.4,270.1 L261.0,279.3 L261.5,267.4 L262.1,279.3 L262.6,268.6 L263.2,276.8 L263.7,266.0 L264.3,279.7 L264.8,268.6 L265.4,279.6 L265.9,269.0 L266.5,276.6 L267.0,269.3 L267.6,277.0 L268.1,270.6 L268.7,280.5 L269.2,266.9 L269.8,278.8 L270.3,267.9 L270.9,277.4 L271.4,269.9 L272.0,278.1 L272.5,269.8 L273.1,279.9 L273.6,267.5 L274.2,277.1 L274.7,268.5 L275.3,279.4 L275.8,268.2 L276.4,280.0 L276.9,266.2 L277.5,276.5 L278.0,272.4 L278.6,277.2 L279.1,270.2 L279.7,275.3 L280.2,270.2 L280.8,278.6 L281.3,267.9 L281.9,277.9 L282.4,271.1 L283.0,279.7 L283.5,267.7 L284.1,275.7" fill="none" stroke="#55585a" stroke-width="1.25" stroke-linejoin="round" stroke-linecap="round"/>
<path d="M91.00,76.50 L91.00,83.00 L114.00,83.00" fill="none" stroke="#231f20" stroke-width="0.8" stroke-linejoin="round"/>
<text x="96.60" y="88.80" font-size="5.8" fill="#231f20" stroke="#231f20" text-anchor="start" font-weight="bold">50ms</text>
<text x="89.20" y="85.00" font-size="5.2" fill="#231f20" stroke="#231f20" text-anchor="start" transform="rotate(-90 89.20 85.00)" font-weight="bold">50uV</text>
<text x="135.60" y="316.10" font-size="31.9" fill="#231f20" stroke="#231f20" text-anchor="start">iEEG</text>
<rect x="321.80" y="56.80" width="234.60" height="267.50" fill="none" stroke="#231f20" stroke-width="1.3"/>
<defs><clipPath id="cpA"><rect x="331.9" y="67.9" width="215.1" height="213.9"/></clipPath><filter id="blA" x="-10%" y="-10%" width="120%" height="120%"><feGaussianBlur stdDeviation="1.6"/></filter><filter id="blA2" x="-10%" y="-10%" width="120%" height="120%"><feGaussianBlur stdDeviation="3.5"/></filter><clipPath id="cpS"><path d="M326.57,210.03 L366.42,172.84 L406.27,156.90 L418.23,167.52 L418.23,179.48 L438.15,202.06 L459.40,183.46 L470.03,164.87 L496.60,172.84 L525.82,210.03 L539.11,239.26 L366.42,244.57 L326.57,249.88Z" />
</clipPath></defs>
<g clip-path="url(#cpA)">
<rect x="331.90" y="67.90" width="215.10" height="213.90" fill="#dcd9cc" stroke="none" stroke-width="1.0"/>
<g filter="url(#blA2)">
<path d="M326.57,63.91 L387.67,63.91 L379.70,79.85 L361.11,93.13 L326.57,98.45Z" fill="#8f8d7c" stroke="none" stroke-width="1.0" stroke-linejoin="round"/>
<path d="M422.21,63.91 L552.39,63.91 L552.39,95.79 L528.48,93.13 L464.72,74.54Z" fill="#b3ae98" stroke="none" stroke-width="1.0" stroke-linejoin="round"/>
<path d="M528.48,93.13 L552.39,93.13 L552.39,241.91 L533.79,236.60 L525.82,199.40 L528.48,146.27Z" fill="#c3ccd0" stroke="none" stroke-width="1.0" stroke-linejoin="round"/>
<path d="M326.57,103.76 L379.70,101.11 L411.58,119.70 L416.90,154.24 L366.42,172.84 L326.57,210.03Z" fill="#e9e7dd" stroke="none" stroke-width="1.0" stroke-linejoin="round"/>
<path d="M339.85,114.39 L387.67,109.08 L400.96,140.96 L353.13,156.90Z" fill="#f6f5ef" stroke="none" stroke-width="1.0" stroke-linejoin="round"/>
</g>
<g filter="url(#blA)">
<path d="M416.90,66.57 L464.72,74.54 L528.48,93.13 L526.35,127.67 L512.54,154.24 L496.60,170.18 L464.72,164.87 L459.40,132.99 L418.23,132.99 L406.27,119.70 L400.96,93.13 L406.27,71.88Z" fill="#ffffff" stroke="none" stroke-width="1.0" stroke-linejoin="round"/>
<path d="M326.57,210.03 L366.42,172.84 L406.27,156.90 L418.23,167.52 L418.23,179.48 L438.15,202.06 L459.40,183.46 L470.03,164.87 L496.60,172.84 L525.82,210.03 L539.11,239.26 L366.42,244.57 L326.57,249.88Z" fill="#79738a" stroke="none" stroke-width="1.0" stroke-linejoin="round"/>
<path d="M412.91,167.52 L418.23,179.48 L438.15,202.59 L459.40,184.79 L470.03,166.20 L459.40,172.84 L438.15,191.43 L420.88,172.84Z" fill="#d2d2d0" stroke="none" stroke-width="1.0" stroke-linejoin="round"/>
<ellipse cx="438.2" cy="159.6" rx="18" ry="23" fill="#cfaea6"/>
<ellipse cx="438.7" cy="140.4" rx="17" ry="9" fill="#ecebe8"/>
<ellipse cx="442.1" cy="167.0" rx="8" ry="2.6" fill="#f5efea"/>
</g>
<g clip-path="url(#cpS)"><g filter="url(#blA)">
<ellipse cx="495.1" cy="211.5" rx="5.8" ry="2.2" fill="#a79fb2" fill-opacity="0.55" transform="rotate(10 495.1 211.5)"/>
<ellipse cx="536.1" cy="196.0" rx="3.4" ry="4.4" fill="#56536b" fill-opacity="0.55" transform="rotate(14 536.1 196.0)"/>
<ellipse cx="375.4" cy="217.1" rx="7.0" ry="2.5" fill="#8f8597" fill-opacity="0.55" transform="rotate(28 375.4 217.1)"/>
<ellipse cx="478.3" cy="178.8" rx="3.7" ry="4.4" fill="#c3bcc6" fill-opacity="0.55" transform="rotate(-13 478.3 178.8)"/>
<ellipse cx="425.5" cy="215.8" rx="4.8" ry="2.0" fill="#5f5a72" fill-opacity="0.55" transform="rotate(-19 425.5 215.8)"/>
<ellipse cx="431.8" cy="224.7" rx="5.4" ry="3.1" fill="#a79fb2" fill-opacity="0.55" transform="rotate(-25 431.8 224.7)"/>
<ellipse cx="495.9" cy="175.9" rx="5.9" ry="3.2" fill="#56536b" fill-opacity="0.55" transform="rotate(4 495.9 175.9)"/>
<ellipse cx="413.7" cy="177.3" rx="3.7" ry="3.6" fill="#8f8597" fill-opacity="0.55" transform="rotate(-18 413.7 177.3)"/>
<ellipse cx="337.9" cy="176.4" rx="6.7" ry="3.8" fill="#c3bcc6" fill-opacity="0.55" transform="rotate(6 337.9 176.4)"/>
<ellipse cx="417.3" cy="229.5" rx="4.1" ry="3.6" fill="#5f5a72" fill-opacity="0.55" transform="rotate(-39 417.3 229.5)"/>
<ellipse cx="467.4" cy="242.7" rx="5.8" ry="2.2" fill="#a79fb2" fill-opacity="0.55" transform="rotate(7 467.4 242.7)"/>
<ellipse cx="399.9" cy="238.2" rx="3.1" ry="2.0" fill="#56536b" fill-opacity="0.55" transform="rotate(-32 399.9 238.2)"/>
<ellipse cx="404.6" cy="235.0" rx="5.3" ry="3.7" fill="#8f8597" fill-opacity="0.55" transform="rotate(-36 404.6 235.0)"/>
<ellipse cx="370.8" cy="192.4" rx="5.5" ry="3.9" fill="#c3bcc6" fill-opacity="0.55" transform="rotate(6 370.8 192.4)"/>
<ellipse cx="392.3" cy="175.3" rx="4.7" ry="2.6" fill="#5f5a72" fill-opacity="0.55" transform="rotate(21 392.3 175.3)"/>
<ellipse cx="518.1" cy="228.4" rx="3.5" ry="4.0" fill="#a79fb2" fill-opacity="0.55" transform="rotate(-39 518.1 228.4)"/>
<ellipse cx="362.7" cy="219.6" rx="4.3" ry="4.1" fill="#56536b" fill-opacity="0.55" transform="rotate(15 362.7 219.6)"/>
<ellipse cx="466.3" cy="211.1" rx="6.7" ry="4.1" fill="#8f8597" fill-opacity="0.55" transform="rotate(-38 466.3 211.1)"/>
<ellipse cx="536.9" cy="196.7" rx="4.2" ry="4.2" fill="#c3bcc6" fill-opacity="0.55" transform="rotate(34 536.9 196.7)"/>
<ellipse cx="493.4" cy="221.2" rx="3.0" ry="2.7" fill="#5f5a72" fill-opacity="0.55" transform="rotate(25 493.4 221.2)"/>
<ellipse cx="539.7" cy="183.9" rx="6.0" ry="2.3" fill="#a79fb2" fill-opacity="0.55" transform="rotate(20 539.7 183.9)"/>
<ellipse cx="408.1" cy="166.6" rx="3.7" ry="3.4" fill="#56536b" fill-opacity="0.55" transform="rotate(-2 408.1 166.6)"/>
<ellipse cx="475.9" cy="189.6" rx="5.4" ry="2.9" fill="#8f8597" fill-opacity="0.55" transform="rotate(21 475.9 189.6)"/>
<ellipse cx="336.3" cy="210.1" rx="5.4" ry="2.1" fill="#c3bcc6" fill-opacity="0.55" transform="rotate(21 336.3 210.1)"/>
<ellipse cx="465.1" cy="240.8" rx="3.7" ry="3.1" fill="#5f5a72" fill-opacity="0.55" transform="rotate(29 465.1 240.8)"/>
<ellipse cx="528.6" cy="218.2" rx="4.4" ry="3.9" fill="#a79fb2" fill-opacity="0.55" transform="rotate(-4 528.6 218.2)"/>
<ellipse cx="444.6" cy="217.6" rx="6.7" ry="2.0" fill="#56536b" fill-opacity="0.55" transform="rotate(16 444.6 217.6)"/>
<ellipse cx="522.5" cy="191.8" rx="3.9" ry="3.4" fill="#8f8597" fill-opacity="0.55" transform="rotate(-38 522.5 191.8)"/>
<ellipse cx="500.0" cy="201.5" rx="5.7" ry="3.9" fill="#c3bcc6" fill-opacity="0.55" transform="rotate(-38 500.0 201.5)"/>
<ellipse cx="373.9" cy="195.5" rx="5.4" ry="2.9" fill="#5f5a72" fill-opacity="0.55" transform="rotate(-18 373.9 195.5)"/>
<ellipse cx="340.2" cy="196.3" rx="6.8" ry="2.1" fill="#a79fb2" fill-opacity="0.55" transform="rotate(8 340.2 196.3)"/>
<ellipse cx="376.8" cy="242.6" rx="6.2" ry="2.5" fill="#56536b" fill-opacity="0.55" transform="rotate(38 376.8 242.6)"/>
<ellipse cx="398.8" cy="218.7" rx="4.0" ry="2.7" fill="#8f8597" fill-opacity="0.55" transform="rotate(-35 398.8 218.7)"/>
<ellipse cx="395.3" cy="194.9" rx="3.1" ry="2.0" fill="#c3bcc6" fill-opacity="0.55" transform="rotate(-39 395.3 194.9)"/>
<ellipse cx="515.4" cy="195.3" rx="6.7" ry="3.2" fill="#5f5a72" fill-opacity="0.55" transform="rotate(5 515.4 195.3)"/>
<ellipse cx="411.2" cy="226.3" rx="4.4" ry="4.0" fill="#a79fb2" fill-opacity="0.55" transform="rotate(-9 411.2 226.3)"/>
<ellipse cx="361.1" cy="195.5" rx="3.1" ry="3.0" fill="#56536b" fill-opacity="0.55" transform="rotate(-9 361.1 195.5)"/>
<ellipse cx="480.1" cy="244.9" rx="3.6" ry="3.5" fill="#8f8597" fill-opacity="0.55" transform="rotate(27 480.1 244.9)"/>
<ellipse cx="474.8" cy="179.8" rx="4.7" ry="4.3" fill="#c3bcc6" fill-opacity="0.55" transform="rotate(2 474.8 179.8)"/>
<ellipse cx="473.6" cy="186.2" rx="6.2" ry="3.4" fill="#5f5a72" fill-opacity="0.55" transform="rotate(23 473.6 186.2)"/>
<ellipse cx="392.4" cy="179.7" rx="3.7" ry="3.5" fill="#a79fb2" fill-opacity="0.55" transform="rotate(-34 392.4 179.7)"/>
<ellipse cx="405.8" cy="216.5" rx="4.1" ry="2.6" fill="#56536b" fill-opacity="0.55" transform="rotate(-21 405.8 216.5)"/>
<ellipse cx="432.0" cy="224.3" rx="4.1" ry="3.3" fill="#8f8597" fill-opacity="0.55" transform="rotate(39 432.0 224.3)"/>
<ellipse cx="437.7" cy="182.9" rx="6.4" ry="4.3" fill="#c3bcc6" fill-opacity="0.55" transform="rotate(20 437.7 182.9)"/>
<ellipse cx="401.7" cy="202.5" rx="4.3" ry="4.3" fill="#5f5a72" fill-opacity="0.55" transform="rotate(-39 401.7 202.5)"/>
<ellipse cx="514.2" cy="182.2" rx="3.6" ry="4.1" fill="#a79fb2" fill-opacity="0.55" transform="rotate(23 514.2 182.2)"/>
<ellipse cx="343.2" cy="185.1" rx="3.4" ry="3.9" fill="#56536b" fill-opacity="0.55" transform="rotate(32 343.2 185.1)"/>
<ellipse cx="394.7" cy="190.3" rx="3.1" ry="2.3" fill="#8f8597" fill-opacity="0.55" transform="rotate(-35 394.7 190.3)"/>
<ellipse cx="483.5" cy="177.6" rx="4.9" ry="2.7" fill="#c3bcc6" fill-opacity="0.55" transform="rotate(2 483.5 177.6)"/>
<ellipse cx="448.7" cy="189.5" rx="4.1" ry="4.3" fill="#5f5a72" fill-opacity="0.55" transform="rotate(35 448.7 189.5)"/>
<ellipse cx="430.8" cy="193.8" rx="5.1" ry="3.4" fill="#a79fb2" fill-opacity="0.55" transform="rotate(37 430.8 193.8)"/>
<ellipse cx="423.9" cy="189.2" rx="6.8" ry="3.6" fill="#56536b" fill-opacity="0.55" transform="rotate(-29 423.9 189.2)"/>
<ellipse cx="447.1" cy="229.6" rx="5.3" ry="2.7" fill="#8f8597" fill-opacity="0.55" transform="rotate(-11 447.1 229.6)"/>
<ellipse cx="484.6" cy="207.3" rx="3.1" ry="2.8" fill="#c3bcc6" fill-opacity="0.55" transform="rotate(19 484.6 207.3)"/>
<ellipse cx="347.6" cy="194.2" rx="5.2" ry="2.8" fill="#5f5a72" fill-opacity="0.55" transform="rotate(15 347.6 194.2)"/>
<ellipse cx="348.3" cy="239.5" rx="6.0" ry="4.2" fill="#a79fb2" fill-opacity="0.55" transform="rotate(2 348.3 239.5)"/>
<ellipse cx="430.4" cy="186.2" rx="3.4" ry="3.3" fill="#56536b" fill-opacity="0.55" transform="rotate(-15 430.4 186.2)"/>
<ellipse cx="512.2" cy="173.9" rx="3.2" ry="4.0" fill="#8f8597" fill-opacity="0.55" transform="rotate(38 512.2 173.9)"/>
<ellipse cx="423.5" cy="234.0" rx="5.9" ry="4.0" fill="#c3bcc6" fill-opacity="0.55" transform="rotate(7 423.5 234.0)"/>
<ellipse cx="438.9" cy="213.5" rx="6.2" ry="4.4" fill="#5f5a72" fill-opacity="0.55" transform="rotate(31 438.9 213.5)"/>
</g></g>
<g filter="url(#blA)">
<path d="M366.42,243.24 L459.40,239.26 L552.39,235.27 L552.39,287.08 L347.82,287.08 L357.12,252.54Z" fill="#f6efcd" stroke="none" stroke-width="1.0" stroke-linejoin="round"/>
<path d="M379.70,249.88 L459.40,244.57 L533.79,241.91 L459.40,252.54 L387.67,260.51Z" fill="#fbf8e6" stroke="none" stroke-width="1.0" stroke-linejoin="round"/>
<path d="M326.57,249.88 L345.16,243.24 L365.09,249.88 L361.11,265.82 L353.13,287.08 L326.57,287.08Z" fill="#8d665b" stroke="none" stroke-width="1.0" stroke-linejoin="round"/>
<path d="M326.57,263.17 L342.51,252.54 L353.13,260.51 L345.16,287.08 L326.57,287.08Z" fill="#a17a6e" stroke="none" stroke-width="1.0" stroke-linejoin="round"/>
<path d="M372.26,229.16 L379.70,223.32 L403.61,223.32 L411.05,229.16 L406.27,252.54 L380.23,253.87Z" fill="#b9b3b0" stroke="none" stroke-width="1.0" stroke-linejoin="round" fill-opacity="0.85"/>
<path d="M377.05,229.16 L406.27,229.16 L403.61,235.27 L379.70,235.27Z" fill="#d6d2cf" stroke="none" stroke-width="1.0" stroke-linejoin="round" fill-opacity="0.8"/>
<path d="M465.25,256.52 L552.39,250.41 L552.39,287.08 L460.73,287.08 L456.22,267.15Z" fill="#2d342f" stroke="none" stroke-width="1.0" stroke-linejoin="round"/>
<path d="M456.22,267.15 L465.25,256.52 L466.05,287.08 L460.73,287.08Z" fill="#59605a" stroke="none" stroke-width="1.0" stroke-linejoin="round"/>
<path d="M480.66,266.35 L493.41,265.82 L493.41,270.61 L480.66,271.14Z" fill="#8f9590" stroke="none" stroke-width="1.0" stroke-linejoin="round"/>
</g>
<rect x="418.60" y="133.60" width="40.00" height="45.20" fill="none" stroke="#62b8b0" stroke-width="2.8"/>
<rect x="420.50" y="135.50" width="36.20" height="41.40" fill="none" stroke="#bfe3df" stroke-width="1.0"/>
<line x1="436.60" y1="158.00" x2="436.60" y2="177.30" stroke="#1b8a3c" stroke-width="2.6" stroke-linecap="butt"/>
<line x1="439.00" y1="156.30" x2="456.80" y2="155.60" stroke="#e8283c" stroke-width="3.4" stroke-linecap="round"/>
<line x1="436.60" y1="154.60" x2="436.60" y2="160.00" stroke="#4a5eae" stroke-width="2.8" stroke-linecap="butt"/>
<text x="345.30" y="102.60" font-size="19" fill="#43ab5e" stroke="#43ab5e" text-anchor="start" font-weight="bold" font-family="Liberation Mono, monospace" textLength="39" lengthAdjust="spacingAndGlyphs">ms</text>
</g>
<text x="331.60" y="310.20" font-size="31.9" fill="#231f20" stroke="#231f20" text-anchor="start">Facial Behavior</text>
<path d="M160.70,324.30 L160.70,355.70 L439.00,355.70 L439.00,324.30" fill="none" stroke="#231f20" stroke-width="1.3" stroke-linejoin="miter"/>
<line x1="301.50" y1="355.70" x2="301.50" y2="415.50" stroke="#231f20" stroke-width="1.3" stroke-linecap="butt"/>
<path d="M297.30,410.50 L301.50,415.60 L305.70,410.50" fill="none" stroke="#231f20" stroke-width="1.3" stroke-linejoin="round"/>
<text x="309.80" y="398.90" font-size="31.9" fill="#231f20" stroke="#231f20" text-anchor="start" font-style="italic">Decoding</text>
<rect x="94.60" y="416.60" width="417.90" height="169.40" fill="none" stroke="#231f20" stroke-width="1.3"/>
<defs><clipPath id="cpR"><rect x="103.9" y="425.9" width="188.4" height="116.9"/></clipPath><filter id="blR"><feGaussianBlur stdDeviation="0.45"/></filter><filter id="blR2"><feGaussianBlur stdDeviation="0.7"/></filter></defs>
<g clip-path="url(#cpR)">
<rect x="103.90" y="425.90" width="188.40" height="116.90" fill="#d7d5d4" stroke="none" stroke-width="1.0"/>
<g filter="url(#blR2)">
<path d="M102.44,504.26 L129.71,543.93 L102.44,543.93Z" fill="#b1acac" stroke="none" stroke-width="1.0" stroke-linejoin="round"/>
<path d="M259.88,424.92 L293.35,424.92 L293.35,494.34 L288.39,476.98 L280.95,455.91 L271.03,459.63 L266.07,452.19 L264.83,439.79Z" fill="#aba5a3" stroke="none" stroke-width="1.0" stroke-linejoin="round"/>
<path d="M247.48,490.87 L259.88,468.31 L271.03,459.88 L280.95,456.16 L279.71,445.99 L293.35,443.26 L293.35,473.26 L285.91,467.07 L271.03,479.46 L256.16,488.14Z" fill="#70656d" stroke="none" stroke-width="1.0" stroke-linejoin="round"/>
<path d="M271.03,543.93 L278.47,534.01 L293.35,526.57 L293.35,543.93Z" fill="#c3bfbe" stroke="none" stroke-width="1.0" stroke-linejoin="round"/>
<path d="M283.43,468.31 L293.35,473.26 L293.35,496.82 L288.39,484.42Z" fill="#a39c9b" stroke="none" stroke-width="1.0" stroke-linejoin="round"/>
</g>
<path d="M102.44,504.50 L103.68,503.76 L130.95,543.93 L127.48,543.93Z" fill="#7a7078" stroke="none" stroke-width="1.0" stroke-linejoin="round"/>
<g filter="url(#blR)" font-weight="bold">
<text transform="translate(146.82 497.19) rotate(-13.0) scale(1.32 1)" font-size="6.0" fill="#6a6468" stroke="#6a6468" text-anchor="start" stroke-opacity="0">On a scale of 1 to 5 where 1 rep</text>
<text transform="translate(149.55 502.02) rotate(-13.0) scale(1.32 1)" font-size="6.0" fill="#6a6468" stroke="#6a6468" text-anchor="start" stroke-opacity="0">would you rate your level of s</text>
<text transform="translate(170.37 530.29) rotate(-13.0) scale(1.32 1)" font-size="6.2" fill="#8d878c" stroke="#8d878c" text-anchor="start" stroke-opacity="0">On a scale of 1 to 5 where 1 rep</text>
<text transform="translate(174.34 535.87) rotate(-13.0) scale(1.32 1)" font-size="6.2" fill="#9a949c" stroke="#9a949c" text-anchor="start" stroke-opacity="0">would you rate your level of s</text>
<text transform="translate(165.66 511.07) rotate(-13.0) scale(1.32 1)" font-size="5.2" fill="#7d777c" stroke="#7d777c" text-anchor="start" stroke-opacity="0">1</text>
<text transform="translate(184.88 505.74) rotate(-13.0) scale(1.32 1)" font-size="5.2" fill="#7d777c" stroke="#7d777c" text-anchor="start" stroke-opacity="0">2</text>
<text transform="translate(204.09 500.54) rotate(-13.0) scale(1.32 1)" font-size="5.2" fill="#7d777c" stroke="#7d777c" text-anchor="start" stroke-opacity="0">3</text>
<text transform="translate(223.31 495.58) rotate(-13.0) scale(1.32 1)" font-size="5.2" fill="#7d777c" stroke="#7d777c" text-anchor="start" stroke-opacity="0">4</text>
<text transform="translate(241.90 490.62) rotate(-13.0) scale(1.32 1)" font-size="5.2" fill="#7d777c" stroke="#7d777c" text-anchor="start" stroke-opacity="0">5</text>
<rect x="169.4" y="514.7" width="3.6" height="2.2" fill="none" stroke="#aaa6a9" stroke-width="0.6" transform="rotate(-13 169.4 516.9)"/>
<rect x="189.2" y="509.5" width="3.6" height="2.2" fill="none" stroke="#aaa6a9" stroke-width="0.6" transform="rotate(-13 189.2 511.7)"/>
<rect x="209.0" y="504.3" width="3.6" height="2.2" fill="none" stroke="#aaa6a9" stroke-width="0.6" transform="rotate(-13 209.0 506.5)"/>
<rect x="228.3" y="499.0" width="3.6" height="2.2" fill="none" stroke="#aaa6a9" stroke-width="0.6" transform="rotate(-13 228.3 501.2)"/>
<rect x="248.1" y="494.0" width="3.6" height="2.2" fill="none" stroke="#aaa6a9" stroke-width="0.6" transform="rotate(-13 248.1 496.2)"/>
<rect x="276.6" y="487.2" width="3.6" height="2.2" fill="none" stroke="#aaa6a9" stroke-width="0.6" transform="rotate(-13 276.6 489.4)"/>
<text transform="translate(147.07 486.28) rotate(-13.0) scale(1.32 1)" font-size="4.6" fill="#a9a5a7" stroke="#a9a5a7" text-anchor="start" stroke-opacity="0">DK/NA/NI</text>
<text transform="translate(140.87 482.56) rotate(-13.0) scale(1.32 1)" font-size="4.2" fill="#b3afb1" stroke="#b3afb1" text-anchor="start" stroke-opacity="0">Good</text>
<text transform="translate(139.01 476.98) rotate(-13.0) scale(1.32 1)" font-size="4.2" fill="#b3afb1" stroke="#b3afb1" text-anchor="start" stroke-opacity="0">Fair</text>
<text transform="translate(113.59 452.19) rotate(-13.0) scale(1.32 1)" font-size="4.0" fill="#aaa6a8" stroke="#aaa6a8" text-anchor="start" stroke-opacity="0">Name of</text>
<text transform="translate(117.31 456.16) rotate(-13.0) scale(1.32 1)" font-size="4.0" fill="#b3afb1" stroke="#b3afb1" text-anchor="start" stroke-opacity="0">Patient</text>
<text transform="translate(125.99 466.45) rotate(-13.0) scale(1.32 1)" font-size="4.0" fill="#b5b1b3" stroke="#b5b1b3" text-anchor="start" stroke-opacity="0">1    2    3</text>
<text transform="translate(249.96 486.90) rotate(-13.0) scale(1.32 1)" font-size="4.8" fill="#8d878d" stroke="#8d878d" text-anchor="start" stroke-opacity="0">DK/NA/NI</text>
<text transform="translate(233.84 533.39) rotate(-13.0) scale(1.32 1)" font-size="5.4" fill="#aaa5aa" stroke="#aaa5aa" text-anchor="start" stroke-opacity="0">3       4      5    DK</text>
</g>
</g>
<defs><filter id="blW"><feGaussianBlur stdDeviation="0.45"/></filter></defs>
<g filter="url(#blW)">
<path d="M352.40,549.20 L361.09,539.03 L377.21,529.11 L392.09,521.67 L402.02,526.63 L419.38,537.17 L436.74,526.63 L451.63,521.42 L464.03,526.63 L478.91,536.55 L488.22,549.20Z" fill="#f4f1ea" stroke="none" stroke-width="1.0" stroke-linejoin="round"/>
<path d="M414.42,420.95 L416.99,421.17 L420.64,421.40 L424.87,421.77 L429.16,422.41 L433.02,423.43 L436.47,424.88 L439.83,426.66 L443.08,428.74 L446.20,431.07 L449.15,433.60 L451.95,436.43 L454.61,439.57 L457.12,442.90 L459.45,446.33 L461.55,449.73 L463.46,453.20 L465.18,456.82 L466.70,460.44 L467.98,463.92 L468.99,467.09 L469.75,469.89 L470.26,472.41 L470.53,474.77 L470.52,477.09 L470.23,479.50 L469.66,482.11 L468.82,484.84 L467.70,487.52 L466.31,489.93 L464.65,491.90 L462.52,493.46 L459.91,494.75 L457.13,495.69 L454.48,496.22 L452.25,496.24 L450.44,495.84 L448.85,495.06 L447.49,493.80 L446.34,491.95 L445.43,489.42 L445.08,485.93 L445.30,481.55 L445.58,476.68 L445.38,471.73 L444.19,467.09 L441.82,462.36 L438.64,457.26 L434.90,452.42 L430.87,448.46 L426.82,446.01 L422.42,445.30 L417.47,445.93 L412.50,447.53 L408.01,449.74 L404.50,452.21 L402.13,455.14 L400.59,458.76 L399.60,462.78 L398.92,466.89 L398.29,470.81 L397.93,474.79 L398.00,479.02 L398.19,483.12 L398.19,486.71 L397.67,489.42 L396.55,491.15 L395.02,492.15 L393.24,492.57 L391.38,492.52 L389.61,492.15 L387.85,491.37 L385.99,490.11 L384.15,488.46 L382.42,486.54 L380.93,484.46 L379.64,482.09 L378.47,479.37 L377.48,476.47 L376.72,473.56 L376.22,470.81 L375.97,468.25 L375.94,465.76 L376.16,463.31 L376.65,460.87 L377.46,458.41 L378.66,455.93 L380.24,453.45 L382.07,450.97 L383.99,448.49 L385.89,446.01 L387.64,443.53 L389.34,441.06 L391.15,438.58 L393.25,436.10 L395.81,433.60 L399.28,430.89 L403.52,427.95 L407.90,425.11 L411.75,422.68 L414.42,420.95Z" fill="#553a26" stroke="none" stroke-width="1.0" stroke-linejoin="round"/>
<path d="M380.93,455.93 L382.09,454.48 L383.72,452.38 L385.63,450.01 L387.66,447.75 L389.61,446.01 L391.68,444.45 L393.97,442.82 L396.22,441.60 L398.17,441.26 L399.53,442.29 L400.21,445.07 L400.37,449.28 L400.19,454.34 L399.85,459.65 L399.53,464.61 L399.28,469.60 L398.96,475.02 L398.52,480.30 L397.91,484.87 L397.05,488.18 L395.88,490.03 L394.43,490.82 L392.83,490.80 L391.18,490.24 L389.61,489.42 L388.02,488.37 L386.34,486.91 L384.70,484.98 L383.26,482.53 L382.17,479.50 L381.51,475.28 L381.17,469.92 L381.04,464.31 L381.00,459.35 L380.93,455.93Z" fill="#6c4c30" stroke="none" stroke-width="1.0" stroke-linejoin="round"/>
<path d="M445.43,437.33 L447.38,439.29 L450.20,442.03 L453.40,445.27 L456.52,448.76 L459.07,452.21 L461.11,455.69 L462.97,459.38 L464.55,463.19 L465.76,467.03 L466.51,470.81 L466.81,474.77 L466.71,478.97 L466.21,483.05 L465.32,486.65 L464.03,489.42 L462.07,491.31 L459.43,492.57 L456.53,493.26 L453.79,493.43 L451.63,493.14 L450.06,492.42 L448.81,491.21 L447.85,489.51 L447.14,487.27 L446.67,484.46 L446.58,480.91 L446.89,476.63 L447.38,471.90 L447.80,466.97 L447.91,462.13 L447.61,456.93 L447.06,451.20 L446.42,445.58 L445.82,440.74 L445.43,437.33Z" fill="#65462d" stroke="none" stroke-width="1.0" stroke-linejoin="round"/>
<path d="M406.98,422.69 L408.41,422.43 L410.47,422.00 L412.81,421.58 L415.07,421.34 L416.90,421.45 L418.41,422.01 L419.84,422.89 L421.01,423.97 L421.74,425.11 L421.86,426.16 L421.16,427.26 L419.75,428.49 L417.95,429.66 L416.07,430.60 L414.42,431.12 L412.92,431.16 L411.35,430.83 L409.85,430.24 L408.55,429.48 L407.60,428.64 L407.07,427.58 L406.87,426.23 L406.88,424.81 L406.96,423.56 L406.98,422.69Z" fill="#1f2a28" stroke="none" stroke-width="1.0" stroke-linejoin="round"/>
<path d="M404.50,506.78 L402.64,517.95 L392.09,521.91 L402.02,527.25 L419.38,537.17 L436.74,526.63 L452.25,521.42 L439.22,516.71 L437.98,506.78Z" fill="#9a7851" stroke="none" stroke-width="1.0" stroke-linejoin="round"/>
<path d="M404.50,509.26 L411.94,515.47 L419.38,514.22 L414.42,526.63 L413.18,533.45 L402.02,527.25 L392.09,521.91 L402.64,517.95Z" fill="#73522f" stroke="none" stroke-width="1.0" stroke-linejoin="round"/>
<path d="M426.82,511.74 L437.98,509.26 L439.22,516.71 L451.63,521.42 L436.74,526.63 L429.30,531.59Z" fill="#b09070" stroke="none" stroke-width="1.0" stroke-linejoin="round"/>
<path d="M398.29,455.93 L398.72,454.32 L399.28,452.00 L399.99,449.37 L400.89,446.82 L402.02,444.77 L403.36,443.21 L404.89,441.89 L406.63,440.79 L408.56,439.90 L410.70,439.19 L413.13,438.66 L415.86,438.31 L418.73,438.17 L421.61,438.25 L424.34,438.57 L426.98,439.08 L429.63,439.79 L432.20,440.74 L434.60,441.97 L436.74,443.53 L438.63,445.47 L440.33,447.77 L441.82,450.34 L443.11,453.09 L444.19,455.93 L445.04,458.90 L445.67,462.05 L446.10,465.34 L446.34,468.69 L446.42,472.05 L446.32,475.49 L446.04,479.03 L445.58,482.59 L444.96,486.08 L444.19,489.42 L443.28,492.66 L442.23,495.88 L441.01,498.96 L439.61,501.80 L437.98,504.30 L436.07,506.49 L433.88,508.44 L431.52,510.09 L429.13,511.42 L426.82,512.36 L424.57,512.94 L422.30,513.19 L420.03,513.08 L417.81,512.60 L415.66,511.74 L413.54,510.41 L411.42,508.62 L409.38,506.51 L407.46,504.19 L405.74,501.82 L404.21,499.37 L402.84,496.75 L401.61,493.99 L400.52,491.13 L399.53,488.18 L398.64,485.11 L397.83,481.91 L397.17,478.62 L396.69,475.32 L396.43,472.05 L396.52,468.57 L396.91,464.83 L397.45,461.22 L397.96,458.12 L398.29,455.93Z" fill="#ad8b68" stroke="none" stroke-width="1.0" stroke-linejoin="round"/>
<path d="M416.90,441.05 L418.23,440.76 L420.09,440.28 L422.29,439.83 L424.60,439.60 L426.82,439.81 L429.06,440.49 L431.47,441.51 L433.86,442.81 L436.09,444.33 L437.98,446.01 L439.52,447.88 L440.80,450.00 L441.87,452.29 L442.78,454.70 L443.57,457.17 L444.31,460.02 L444.96,463.28 L445.44,466.49 L445.63,469.16 L445.43,470.81 L444.76,471.16 L443.70,470.52 L442.36,469.33 L440.83,468.04 L439.22,467.09 L437.46,466.52 L435.46,466.01 L433.36,465.55 L431.27,465.09 L429.30,464.61 L427.45,464.20 L425.62,463.86 L423.85,463.48 L422.18,462.95 L420.62,462.13 L419.08,461.06 L417.54,459.81 L416.16,458.35 L415.06,456.65 L414.42,454.69 L414.40,452.14 L414.90,449.02 L415.67,445.82 L416.42,443.00 L416.90,441.05Z" fill="#c6a88c" stroke="none" stroke-width="1.0" stroke-linejoin="round"/>
<path d="M398.29,457.17 L399.16,455.52 L400.39,453.02 L401.81,450.35 L403.24,448.20 L404.50,447.25 L405.69,447.69 L406.93,449.08 L408.07,451.12 L408.96,453.50 L409.46,455.93 L409.36,458.45 L408.76,461.26 L407.97,464.29 L407.27,467.50 L406.98,470.81 L407.12,474.28 L407.49,477.93 L408.05,481.71 L408.72,485.56 L409.46,489.42 L410.51,493.74 L411.92,498.58 L413.30,503.23 L414.26,507.02 L414.42,509.26 L413.52,509.62 L411.81,508.55 L409.69,506.55 L407.53,504.14 L405.74,501.82 L404.29,499.53 L402.93,496.93 L401.67,494.11 L400.54,491.16 L399.53,488.18 L398.64,485.09 L397.83,481.85 L397.17,478.53 L396.69,475.24 L396.43,472.05 L396.52,468.76 L396.91,465.30 L397.45,461.99 L397.96,459.17 L398.29,457.17Z" fill="#8f6c49" stroke="none" stroke-width="1.0" stroke-linejoin="round"/>
<path d="M434.26,474.53 L435.98,474.09 L438.52,473.29 L441.32,472.60 L443.81,472.45 L445.43,473.29 L446.05,475.43 L446.06,478.55 L445.63,482.22 L444.95,486.00 L444.19,489.42 L443.34,492.61 L442.30,495.88 L441.06,499.03 L439.62,501.90 L437.98,504.30 L435.81,506.46 L433.10,508.48 L430.36,510.05 L428.10,510.83 L426.82,510.50 L426.82,508.77 L427.76,505.84 L429.20,502.17 L430.69,498.20 L431.78,494.38 L432.48,490.33 L433.07,485.76 L433.57,481.22 L433.97,477.29 L434.26,474.53Z" fill="#bfa084" stroke="none" stroke-width="1.0" stroke-linejoin="round"/>
<path d="M414.42,473.29 L415.89,473.12 L418.03,472.76 L420.43,472.49 L422.67,472.58 L424.34,473.29 L425.47,474.93 L426.35,477.31 L426.90,479.99 L427.08,482.52 L426.82,484.46 L425.95,485.80 L424.50,486.84 L422.74,487.58 L420.95,488.03 L419.38,488.18 L417.94,488.03 L416.45,487.58 L415.06,486.84 L413.92,485.80 L413.18,484.46 L412.97,482.52 L413.20,479.99 L413.65,477.31 L414.13,474.93 L414.42,473.29Z" fill="#b99a7c" stroke="none" stroke-width="1.0" stroke-linejoin="round"/>
</g>
<path d="M399.29,464.36 L400.32,463.96 L401.76,463.35 L403.46,462.69 L405.25,462.15 L406.98,461.88 L408.73,461.95 L410.62,462.25 L412.50,462.69 L414.22,463.17 L415.66,463.62 L416.78,464.07 L417.68,464.58 L418.40,465.10 L418.95,465.54 L419.38,465.85" fill="none" stroke="#4a3322" stroke-width="1.2" stroke-linejoin="round"/>
<path d="M424.34,465.23 L425.31,464.79 L426.66,464.12 L428.27,463.40 L430.02,462.77 L431.78,462.38 L433.77,462.31 L436.05,462.45 L438.33,462.71 L440.32,462.97 L441.71,463.12" fill="none" stroke="#4a3322" stroke-width="1.2" stroke-linejoin="round"/>
<path d="M399.78,468.58 L400.76,468.75 L402.13,469.01 L403.74,469.29 L405.41,469.50 L406.98,469.57 L408.57,469.45 L410.29,469.18 L411.97,468.85 L413.40,468.54 L414.42,468.33" fill="none" stroke="#2e2a22" stroke-width="1.5" stroke-linejoin="round"/>
<path d="M426.82,469.57 L427.85,469.79 L429.32,470.12 L431.02,470.47 L432.74,470.74 L434.26,470.81 L435.68,470.63 L437.13,470.25 L438.49,469.79 L439.64,469.36 L440.47,469.08" fill="none" stroke="#3a2a20" stroke-width="1.5" stroke-linejoin="round"/>
<path d="M413.18,482.97 L413.66,483.32 L414.34,483.84 L415.14,484.42 L416.02,484.91 L416.90,485.20 L417.83,485.25 L418.85,485.14 L419.91,484.93 L420.93,484.69 L421.86,484.46 L422.74,484.22 L423.62,483.94 L424.42,483.65 L425.10,483.39 L425.58,483.22" fill="none" stroke="#5a3a28" stroke-width="1.4" stroke-linejoin="round"/>
<path d="M407.97,491.65 L408.83,491.30 L410.04,490.78 L411.46,490.20 L412.96,489.71 L414.42,489.42 L415.84,489.40 L417.32,489.57 L418.84,489.83 L420.36,490.06 L421.86,490.16 L423.42,490.04 L425.06,489.77 L426.66,489.48 L428.12,489.32 L429.30,489.42 L430.24,489.78 L431.00,490.30 L431.56,491.00 L431.91,491.86 L432.03,492.89 L431.93,494.24 L431.62,495.90 L431.08,497.66 L430.32,499.29 L429.30,500.58 L427.93,501.52 L426.20,502.26 L424.29,502.81 L422.37,503.15 L420.62,503.31 L419.02,503.32 L417.45,503.17 L415.93,502.81 L414.50,502.18 L413.18,501.20 L411.91,499.61 L410.68,497.46 L409.57,495.14 L408.64,493.07 L407.97,491.65Z" fill="#b66a64" stroke="none" stroke-width="1.0" stroke-linejoin="round"/>
<path d="M410.08,493.39 L410.98,493.31 L412.23,493.19 L413.71,493.06 L415.31,492.95 L416.90,492.89 L418.57,492.89 L420.39,492.94 L422.24,493.00 L424.01,493.08 L425.58,493.14 L427.03,493.13 L428.42,493.07 L429.66,493.04 L430.61,493.12 L431.16,493.39 L431.27,493.96 L431.02,494.77 L430.46,495.67 L429.66,496.50 L428.68,497.11 L427.42,497.48 L425.83,497.70 L424.07,497.82 L422.28,497.86 L420.62,497.85 L419.02,497.81 L417.39,497.70 L415.81,497.52 L414.38,497.25 L413.18,496.86 L412.23,496.27 L411.48,495.48 L410.89,494.65 L410.43,493.90 L410.08,493.39Z" fill="#d4d8d2" stroke="none" stroke-width="1.0" stroke-linejoin="round"/>
<path d="M460.9,537.7l-1.1,2.5M451.9,525.0l-0.8,2.6M411.0,537.8l-0.5,3.3M391.3,539.5l-0.5,2.3M393.2,530.4l-0.3,2.7M416.4,542.8l-1.2,2.9M441.9,547.1l-1.0,2.8M393.1,542.0l-0.5,2.1M464.7,539.7l-0.5,3.1M410.7,542.4l-0.3,2.0M447.0,529.8l-0.3,2.2M377.3,542.1l-0.4,2.7M434.7,548.2l-0.4,3.1M381.8,545.1l-1.1,2.3M419.3,544.9l-0.2,2.9M381.8,536.7l-0.5,1.9M444.5,531.9l-0.6,2.9M443.1,536.1l-0.6,2.1M457.2,532.6l-1.2,2.6M380.6,542.0l-0.8,2.4M400.0,531.3l-0.7,1.9M426.6,546.8l-0.6,3.0M480.5,544.7l-0.5,3.1M388.2,537.4l-0.9,2.8M448.1,524.3l-1.0,2.6M407.5,539.9l-0.9,2.1M398.7,528.0l-0.7,3.3M442.9,545.8l-0.2,2.0M425.3,545.7l-1.1,2.7M376.4,542.7l-0.3,2.7M409.0,544.8l-1.0,2.9M447.7,530.2l-0.8,3.0M419.7,543.1l-0.7,2.1M412.7,545.5l-0.6,3.3M456.5,540.5l-0.6,2.9M471.0,540.4l-0.7,2.7M442.7,530.7l-0.5,2.8M458.8,534.9l-1.2,2.7M468.4,539.2l-0.6,2.4M401.0,541.4l-1.1,3.2M470.9,547.9l-1.1,2.0M389.4,532.2l-0.5,2.1M418.6,539.8l-0.5,1.8M462.1,533.7l-0.8,2.7M390.7,545.9l-1.0,2.7M375.6,538.6l-0.3,3.2M371.1,538.8l-0.3,2.1M408.8,541.2l-0.5,2.5M439.0,540.0l-0.8,2.8M430.7,540.8l-0.7,2.3M411.5,546.9l-1.0,2.0M388.8,527.3l-0.6,2.6M461.7,543.6l-0.3,2.6M435.1,537.1l-1.0,2.6M477.7,546.5l-1.2,2.9M397.0,525.6l-1.1,3.1M404.6,535.7l-0.4,3.0M441.5,542.9l-0.6,3.0M378.2,548.8l-1.2,2.9M397.4,534.4l-0.8,3.3M369.1,547.4l-1.2,3.3M397.8,541.6l-1.2,2.5M444.2,538.9l-0.4,2.0M407.0,538.5l-1.2,3.1M383.0,539.5l-1.2,2.2M393.9,528.9l-0.5,2.7M474.7,540.9l-0.9,2.3M434.4,541.7l-0.9,2.4M461.1,547.8l-1.1,1.9M455.2,535.3l-0.8,2.8M482.5,547.8l-0.8,2.6M389.7,537.8l-1.0,2.7M381.7,541.4l-0.9,2.0M364.7,543.4l-1.2,1.9M469.7,543.2l-0.5,2.6M423.7,548.4l-0.7,1.9M451.6,538.9l-0.5,2.3M403.0,529.1l-0.8,2.2M381.0,541.2l-0.8,2.3M399.7,537.9l-0.5,3.1M385.6,539.4l-1.1,1.9M458.2,531.9l-0.7,2.5M377.5,545.1l-0.9,2.5M388.6,542.0l-0.5,2.4M430.2,538.0l-0.6,3.2M403.4,543.6l-0.5,2.7M364.6,543.9l-0.6,2.3M378.3,543.3l-1.2,2.0M420.5,541.1l-0.6,1.9M390.0,541.0l-0.9,2.1M427.5,546.5l-0.5,2.2M470.9,545.3l-0.4,2.4M460.3,548.4l-0.8,2.6M449.9,523.5l-0.6,2.0M443.1,542.3l-0.3,2.4M405.4,532.7l-0.5,3.1M451.8,547.2l-0.2,1.9M407.1,545.5l-0.7,2.4M458.3,545.3l-1.1,2.6M461.4,531.8l-1.0,2.8M478.0,546.2l-0.5,1.8M394.3,542.1l-0.7,3.1M439.1,548.2l-0.7,3.2M463.6,537.8l-0.7,2.5M412.1,539.4l-0.9,2.1M367.3,543.7l-0.3,3.1M448.1,538.3l-1.1,3.2M416.7,540.5l-1.1,3.0M372.8,547.8l-0.5,2.6M440.9,528.1l-0.7,1.9M390.6,529.6l-1.0,2.5M397.8,548.7l-0.5,2.5M409.1,539.6l-0.4,2.5M467.7,543.9l-0.4,2.3M410.7,536.5l-1.1,2.6M393.4,524.1l-0.8,2.9M393.8,541.2l-0.4,1.8M432.7,535.1l-0.6,1.9M391.7,526.3l-0.5,2.9M394.1,545.6l-1.1,1.8M403.3,540.0l-0.3,2.6M371.4,538.1l-1.2,3.1M373.1,544.3l-0.3,2.1M389.7,545.6l-1.2,3.3M413.5,541.9l-0.7,3.3M397.6,530.2l-1.1,2.6M464.8,545.4l-0.8,3.4M368.7,544.5l-0.3,2.8M402.8,546.9l-1.1,2.0M434.2,536.3l-0.3,2.9M438.7,538.2l-0.7,1.9M381.5,533.1l-0.6,2.8M385.9,529.1l-1.1,2.9M449.9,525.5l-0.9,2.0M439.7,539.1l-0.3,3.0M452.7,531.2l-0.5,2.0M440.0,532.3l-0.3,1.9M401.5,542.7l-0.8,2.5M396.1,545.6l-0.4,2.3M443.0,543.4l-0.4,1.9M375.1,547.8l-0.9,3.0M437.9,545.5l-1.1,3.3M452.7,543.4l-1.2,3.2M436.9,542.5l-0.2,2.4M391.5,537.5l-0.5,3.3M431.8,533.8l-0.9,3.0M393.3,526.4l-0.7,2.4M374.4,536.2l-0.5,2.3M428.8,542.2l-0.3,2.6M463.0,539.4l-0.7,2.6M410.2,534.7l-0.6,1.9M404.1,533.9l-0.6,2.7M397.2,541.9l-0.8,3.1M426.2,537.3l-0.5,3.4M355.8,548.6l-1.0,2.6M386.2,529.8l-0.8,2.3M364.0,545.5l-0.2,2.7M365.7,546.5l-0.8,2.4M387.4,547.0l-0.5,2.3M402.7,533.3l-0.8,2.9M467.1,544.9l-1.0,3.4M470.9,541.5l-1.1,2.5M454.9,536.9l-1.1,3.0M398.6,530.1l-0.7,2.3M363.9,544.4l-1.0,3.0M395.7,537.2l-0.3,3.2M478.4,545.3l-1.0,2.8M451.6,539.4l-1.1,1.9M418.3,541.9l-0.6,3.2M370.2,547.7l-0.5,3.4M434.2,535.1l-0.4,1.9M441.7,538.4l-0.8,2.0M394.4,528.7l-0.6,2.9M448.3,533.0l-0.4,2.9M424.9,543.0l-0.2,2.6M405.1,534.8l-0.5,2.3M437.1,545.2l-0.4,2.9M449.1,542.4l-0.6,2.5M384.6,548.2l-0.7,3.2M470.8,545.8l-1.1,3.0M398.4,541.8l-1.0,2.8M424.8,536.3l-1.0,3.1M425.8,540.6l-0.6,2.3M452.2,532.7l-0.3,2.5M379.2,534.5l-0.8,3.3M394.5,546.0l-1.2,2.0M392.7,542.0l-0.6,2.5M408.7,544.7l-1.0,3.1M403.2,540.6l-0.4,2.5M410.5,539.3l-0.8,3.3M459.8,530.4l-0.4,1.9M395.7,541.6l-1.2,2.4M433.2,544.8l-0.6,2.2M461.5,544.4l-0.6,2.1M389.3,536.4l-1.1,2.8M395.3,543.3l-0.7,3.0M387.6,537.3l-0.3,1.8M418.9,540.4l-0.6,2.8M449.6,534.0l-0.3,3.3M474.2,547.4l-0.4,3.2M450.6,538.5l-0.3,2.9M386.8,532.0l-0.7,2.7M396.9,529.4l-0.6,1.9M414.7,546.1l-0.3,2.7M432.2,534.3l-0.6,3.3M454.6,525.6l-1.0,2.9M385.7,548.5l-0.3,2.5M462.8,539.3l-0.4,2.7M445.0,547.4l-0.8,3.0M387.0,531.6l-0.6,2.5M394.2,524.0l-1.0,2.8M360.0,547.4l-0.4,1.9M376.2,536.3l-0.3,1.9M381.0,535.0l-0.2,2.4M470.1,536.6l-0.7,3.0M379.3,536.2l-1.2,2.6M457.0,531.0l-0.4,1.9M395.0,546.9l-0.4,2.6M403.9,547.4l-1.0,2.1M455.8,542.6l-1.0,2.6M373.1,540.9l-0.7,3.1M413.8,548.4l-0.9,2.1M407.9,548.8l-0.3,2.0M445.2,543.8l-1.0,2.5M444.6,536.5l-0.8,3.0M393.2,538.2l-0.4,2.3M459.2,543.9l-0.5,1.8M387.5,547.6l-0.6,2.5M483.7,548.1l-0.9,3.0M463.0,545.0l-0.3,3.0M379.9,539.1l-0.7,3.4M386.4,537.5l-0.6,2.3M408.7,541.8l-0.6,2.3M456.1,528.8l-0.5,2.3M438.0,537.5l-0.6,3.2M462.4,548.4l-1.0,3.4M414.0,539.2l-0.3,3.1M476.9,545.5l-0.3,3.4M453.9,526.1l-0.6,2.5" stroke="#9b7a4c" stroke-width="1" fill="none"/>
<path d="M451.5,444.4l2.9,2.3M440.2,437.0l2.9,3.2M459.1,479.3l2.9,3.1M450.4,453.0l2.9,2.5M462.2,483.8l1.8,2.0M461.7,486.7l2.3,3.0M421.0,434.5l1.6,2.7M446.1,453.3l2.6,1.9M428.7,437.4l2.3,3.1M434.7,438.7l1.9,3.0M437.0,432.0l1.7,3.3M445.6,484.4l2.9,2.8M433.6,442.9l2.2,2.4M465.6,483.0l2.6,3.2M429.7,442.8l2.0,2.8M418.1,432.4l1.9,2.0M429.7,432.6l1.9,2.5M443.0,433.6l1.5,3.2M450.8,455.6l2.7,3.3M446.5,455.0l1.5,3.3M439.6,441.8l2.9,2.3M432.4,434.4l1.6,2.1M439.0,442.0l2.5,3.2M424.4,428.6l2.6,2.9M452.4,444.0l1.8,2.4M460.1,477.9l2.8,2.2M439.9,437.3l1.8,3.1M447.3,487.1l2.6,3.1M456.7,470.3l2.0,1.9M448.4,477.4l1.5,2.5M457.9,469.4l2.1,2.3M458.6,478.3l2.6,2.6M429.4,444.0l1.8,2.3M456.7,447.1l2.8,2.7M456.8,489.2l1.7,2.4M425.3,434.7l2.6,1.8M447.1,484.1l2.1,2.9M456.3,463.2l2.9,2.7M452.1,457.3l1.7,2.6M464.3,467.5l1.7,2.7M447.0,473.7l2.0,2.7M424.5,433.6l2.3,3.2M435.4,438.7l1.9,3.3M441.3,434.9l1.8,1.9M459.8,454.5l1.9,3.3M433.3,443.5l1.7,2.6M459.7,459.0l2.7,2.3M440.2,445.7l2.0,3.0M453.0,444.8l2.6,3.4M465.1,462.2l1.8,2.3M462.2,481.8l2.7,2.5M446.0,442.4l2.3,2.4M438.7,440.2l3.0,1.8M464.6,479.5l1.5,3.2M451.8,485.4l1.6,2.3M423.3,432.6l1.6,3.1M423.6,437.6l1.8,2.7M460.8,464.3l1.5,2.2M447.9,446.1l1.6,2.0M440.8,441.1l1.7,2.3M420.6,431.6l2.3,1.8" stroke="#8a6a4a" stroke-width="0.8" fill="none" opacity="0.85"/>
<path d="M368.0,462.9l1.0,1.8M377.8,443.1l1.3,1.8M367.4,473.3l1.2,1.0M447.1,502.1l1.0,1.1M460.4,482.1l1.4,1.7M373.0,451.7l1.2,1.0M377.1,483.2l1.3,1.9M468.1,479.8l1.1,1.1M454.5,487.3l1.2,1.2M462.0,476.3l1.2,1.3M472.0,476.5l1.4,1.5M380.9,460.6l1.4,1.8M377.8,451.5l0.7,1.0M364.4,469.7l0.9,2.0M380.6,479.5l1.4,0.8M446.6,500.6l0.6,1.9M365.3,464.5l0.8,0.9M458.7,492.8l0.8,1.4M455.8,494.1l1.3,0.9M468.4,478.3l1.3,1.3M376.0,454.4l1.1,0.8M454.2,496.9l0.7,1.0M379.1,454.9l1.1,1.1M454.7,500.0l1.4,1.9M450.7,495.1l0.9,1.4M371.5,474.4l0.6,1.6M445.9,500.9l1.1,1.4M377.1,473.8l1.5,1.0M463.9,489.4l1.3,1.0M452.0,491.8l1.3,1.1M447.7,503.5l1.6,1.8M377.0,474.3l1.6,1.6M364.5,466.3l1.4,0.8M457.7,478.5l1.0,0.8M378.4,446.3l0.6,1.2M457.8,492.5l0.9,1.5M373.7,482.9l0.9,0.9M464.6,476.9l0.7,1.9M373.8,478.6l1.1,0.9M371.1,455.9l1.0,1.5M365.6,463.3l1.1,1.0M373.0,473.6l1.5,1.6M380.6,493.2l1.1,1.4M454.7,501.1l0.8,1.0M371.7,460.0l0.8,0.9M379.1,483.1l1.4,1.6M370.9,477.4l1.0,1.9M376.4,480.1l1.0,1.3M379.5,486.9l1.4,1.0M379.3,488.7l1.6,1.4M367.2,462.9l0.7,1.0M451.5,499.3l1.6,1.7M373.7,479.0l1.4,1.3M380.2,441.7l1.5,1.2M370.6,457.3l1.0,1.5M368.9,476.7l1.3,1.5M370.7,453.8l1.3,1.7M375.5,484.9l1.4,0.9M374.4,478.0l0.7,1.4M370.7,473.9l1.3,1.1M376.8,487.0l1.4,1.6M445.7,486.2l1.6,1.4M371.5,481.4l1.1,1.2M365.4,462.8l0.9,1.3M380.3,465.7l1.2,2.0" stroke="#5f4229" stroke-width="1.3" fill="none"/>
<text x="106.90" y="573.10" font-size="26.5" fill="#231f20" stroke="#231f20" text-anchor="start">Pain Self-Report</text>
<text x="317.00" y="573.10" font-size="26.5" fill="#231f20" stroke="#231f20" text-anchor="start">Momentary Pain</text>
</g>
<g>
<text x="575.80" y="41.20" font-size="56.5" fill="#231f20" stroke="#231f20" text-anchor="start">B</text>
<text x="620.30" y="15.80" font-size="21.1" fill="#231f20" stroke="#231f20" text-anchor="start">Pain Distribution</text>
<text x="667.70" y="40.90" font-size="21.1" fill="#231f20" stroke="#231f20" text-anchor="start">(N=12)</text>
<ellipse cx="697.8" cy="65.0" rx="17.3" ry="17.8" fill="#e0806a"/>
<path d="M698.66,47.09 L697.79,47.19 L696.58,47.30 L695.16,47.44 L693.64,47.66 L692.17,48.00 L690.86,48.50 L689.68,49.19 L688.50,50.03 L687.36,50.98 L686.30,52.02 L685.33,53.10 L684.48,54.17 L683.78,55.30 L683.19,56.51 L682.69,57.76 L682.28,59.00 L681.94,60.18 L681.65,61.26 L681.45,62.22 L681.35,63.10 L681.32,63.92 L681.32,64.70 L681.30,65.46 L681.22,66.22 L681.06,66.95 L680.83,67.64 L680.59,68.30 L680.37,68.97 L680.24,69.69 L680.23,70.47 L680.35,71.34 L680.55,72.28 L680.83,73.26 L681.18,74.25 L681.60,75.22 L682.07,76.14 L682.66,77.00 L683.37,77.82 L684.15,78.62 L684.94,79.42 L685.68,80.24 L686.33,81.10 L686.91,82.01 L687.48,82.95 L688.00,83.91 L688.45,84.87 L688.80,85.83 L689.02,86.77 L689.12,87.70 L689.13,88.64 L689.05,89.58 L688.84,90.49 L688.51,91.35 L688.03,92.15 L687.40,92.89 L686.64,93.58 L685.75,94.23 L684.74,94.84 L683.60,95.42 L682.36,95.98 L680.91,96.49 L679.25,96.92 L677.47,97.33 L675.67,97.75 L673.96,98.23 L672.44,98.82 L671.08,99.49 L669.79,100.23 L668.59,101.03 L667.49,101.89 L666.50,102.80 L665.63,103.78 L664.91,104.82 L664.32,105.93 L663.85,107.10 L663.45,108.32 L663.11,109.57 L662.80,110.86 L662.54,112.16 L662.37,113.49 L662.25,114.85 L662.16,116.27 L662.07,117.77 L661.95,119.37 L661.83,121.09 L661.74,122.93 L661.65,124.86 L661.53,126.82 L661.36,128.78 L661.10,130.70 L660.77,132.63 L660.38,134.59 L659.94,136.55 L659.44,138.47 L658.88,140.32 L658.27,142.04 L657.54,143.62 L656.69,145.09 L655.79,146.47 L654.88,147.81 L654.03,149.16 L653.30,150.54 L652.71,151.97 L652.19,153.40 L651.74,154.84 L651.32,156.27 L650.90,157.67 L650.47,159.05 L650.02,160.43 L649.56,161.83 L649.11,163.21 L648.68,164.53 L648.28,165.76 L647.92,166.84 L647.60,167.81 L647.31,168.68 L647.05,169.46 L646.83,170.12 L646.64,170.67 L646.50,171.09" fill="none" stroke="#231f20" stroke-width="1.7" stroke-linejoin="round"/>
<path d="M698.66,47.09 L699.53,47.19 L700.76,47.30 L702.20,47.44 L703.72,47.66 L705.18,48.00 L706.45,48.50 L707.56,49.17 L708.61,49.97 L709.61,50.89 L710.54,51.92 L711.38,53.01 L712.12,54.17 L712.73,55.47 L713.21,56.93 L713.60,58.47 L713.95,60.00 L714.29,61.43 L714.67,62.68 L715.11,63.69 L715.59,64.54 L716.06,65.29 L716.49,66.01 L716.84,66.77 L717.08,67.64 L717.21,68.64 L717.26,69.74 L717.24,70.87 L717.13,71.99 L716.94,73.06 L716.66,74.01 L716.23,74.85 L715.66,75.59 L715.01,76.27 L714.32,76.93 L713.67,77.58 L713.11,78.27 L712.63,78.96 L712.19,79.63 L711.77,80.30 L711.39,80.99 L711.03,81.73 L710.70,82.52 L710.37,83.39 L710.04,84.34 L709.73,85.32 L709.48,86.32 L709.32,87.28 L709.29,88.19 L709.33,89.04 L709.43,89.88 L709.61,90.68 L709.93,91.46 L710.42,92.19 L711.13,92.86 L712.11,93.48 L713.34,94.03 L714.75,94.54 L716.25,95.02 L717.76,95.50 L719.21,95.98 L720.63,96.44 L722.11,96.87 L723.61,97.28 L725.07,97.72 L726.45,98.22 L727.71,98.82 L728.85,99.48 L729.90,100.18 L730.88,100.94 L731.78,101.78 L732.61,102.72 L733.38,103.78 L734.05,104.94 L734.63,106.19 L735.13,107.54 L735.59,109.00 L736.04,110.57 L736.50,112.28 L736.96,114.16 L737.40,116.22 L737.83,118.39 L738.25,120.62 L738.65,122.86 L739.05,125.03 L739.41,127.22 L739.74,129.47 L740.05,131.72 L740.38,133.90 L740.74,135.95 L741.17,137.79 L741.66,139.36 L742.17,140.70 L742.72,141.91 L743.33,143.06 L743.99,144.26 L744.72,145.58 L745.55,147.03 L746.50,148.52 L747.51,150.06 L748.52,151.62 L749.50,153.20 L750.39,154.80 L751.20,156.46 L751.99,158.21 L752.73,159.98 L753.43,161.70 L754.07,163.30 L754.64,164.72 L755.14,165.97 L755.58,167.13 L755.97,168.17 L756.29,169.07 L756.56,169.82 L756.76,170.39" fill="none" stroke="#231f20" stroke-width="1.7" stroke-linejoin="round"/>
<path d="M677.82,127.16 L677.64,128.17 L677.38,129.57 L677.07,131.23 L676.74,133.01 L676.42,134.77 L676.12,136.37 L675.86,137.84 L675.62,139.29 L675.39,140.71 L675.14,142.12 L674.87,143.51 L674.56,144.88 L674.25,146.22 L673.93,147.53 L673.60,148.82 L673.21,150.10 L672.74,151.38 L672.15,152.67 L671.45,153.93 L670.64,155.14 L669.75,156.35 L668.80,157.60 L667.80,158.96 L666.77,160.46 L665.65,162.21 L664.42,164.17 L663.14,166.22 L661.88,168.26 L660.70,170.16 L659.68,171.80 L658.79,173.23 L657.98,174.53 L657.26,175.70 L656.63,176.71 L656.11,177.54 L655.71,178.18" fill="none" stroke="#231f20" stroke-width="1.7" stroke-linejoin="round"/>
<path d="M724.17,126.45 L724.33,127.55 L724.56,129.08 L724.82,130.88 L725.12,132.80 L725.42,134.69 L725.73,136.37 L726.03,137.88 L726.37,139.34 L726.71,140.76 L727.05,142.15 L727.39,143.52 L727.71,144.88 L727.97,146.22 L728.16,147.53 L728.35,148.82 L728.58,150.10 L728.92,151.38 L729.41,152.67 L730.08,153.94 L730.87,155.19 L731.77,156.43 L732.74,157.71 L733.76,159.04 L734.80,160.46 L735.88,162.00 L737.04,163.64 L738.25,165.34 L739.48,167.05 L740.70,168.75 L741.88,170.39 L743.11,172.07 L744.42,173.85 L745.73,175.61 L746.93,177.24 L747.95,178.60 L748.68,179.60" fill="none" stroke="#231f20" stroke-width="1.7" stroke-linejoin="round"/>
<path d="M677.82,127.16 L677.94,128.14 L678.10,129.47 L678.28,131.06 L678.50,132.80 L678.72,134.61 L678.96,136.37 L679.24,138.19 L679.59,140.15 L679.95,142.17 L680.28,144.17 L680.53,146.04 L680.66,147.71 L680.65,149.15 L680.55,150.44 L680.37,151.61 L680.13,152.70 L679.84,153.75 L679.52,154.80 L679.14,155.77 L678.67,156.63 L678.16,157.45 L677.63,158.31 L677.13,159.29 L676.69,160.46 L676.30,161.86 L675.93,163.42 L675.59,165.10 L675.27,166.85 L674.98,168.63 L674.71,170.39 L674.46,172.10 L674.24,173.82 L674.04,175.56 L673.87,177.35 L673.71,179.24 L673.57,181.26 L673.44,183.43 L673.31,185.74 L673.20,188.14 L673.13,190.58 L673.10,193.03 L673.15,195.43 L673.26,197.79 L673.43,200.15 L673.65,202.52 L673.92,204.88 L674.22,207.24 L674.56,209.60 L674.98,212.00 L675.49,214.43 L676.04,216.87 L676.58,219.26 L677.05,221.58 L677.40,223.78 L677.64,225.85 L677.83,227.82 L677.95,229.71 L677.99,231.54 L677.95,233.34 L677.82,235.11 L677.56,236.83 L677.15,238.47 L676.66,240.07 L676.15,241.67 L675.67,243.31 L675.27,245.03 L674.94,246.84 L674.61,248.71 L674.32,250.61 L674.08,252.54 L673.91,254.47 L673.85,256.37 L673.92,258.28 L674.09,260.20 L674.34,262.13 L674.64,264.04 L674.96,265.90 L675.27,267.71 L675.61,269.45 L675.99,271.12 L676.40,272.76 L676.79,274.38 L677.13,275.99 L677.40,277.63 L677.59,279.30 L677.75,280.99 L677.86,282.68 L677.91,284.35 L677.90,285.98 L677.82,287.55 L677.66,289.05 L677.41,290.49 L677.11,291.89 L676.75,293.27 L676.37,294.65 L675.98,296.05 L675.54,297.50 L675.02,298.99 L674.47,300.48 L673.95,301.93 L673.49,303.30 L673.15,304.56 L672.90,305.67 L672.72,306.68 L672.60,307.61 L672.55,308.49 L672.59,309.36 L672.72,310.23 L672.93,311.12 L673.21,312.01 L673.57,312.88 L674.03,313.72 L674.59,314.49 L675.27,315.19 L676.13,315.87 L677.17,316.58 L678.31,317.22 L679.49,317.73 L680.62,318.02 L681.65,318.02 L682.59,317.67 L683.51,317.02 L684.40,316.16 L685.22,315.16 L685.96,314.10 L686.61,313.06 L687.16,312.04 L687.62,310.96 L688.01,309.83 L688.32,308.63 L688.56,307.34 L688.74,305.98 L688.81,304.47 L688.78,302.83 L688.67,301.10 L688.54,299.36 L688.40,297.66 L688.31,296.05 L688.24,294.59 L688.14,293.22 L688.05,291.89 L687.99,290.54 L687.97,289.12 L688.03,287.55 L688.15,285.83 L688.32,283.98 L688.54,282.06 L688.80,280.10 L689.11,278.14 L689.44,276.21 L689.84,274.31 L690.31,272.38 L690.82,270.46 L691.33,268.55 L691.83,266.68 L692.28,264.88 L692.72,263.14 L693.19,261.46 L693.63,259.83 L694.02,258.21 L694.29,256.59 L694.40,254.95 L694.28,253.32 L693.92,251.70 L693.46,250.08 L693.00,248.45 L692.66,246.77 L692.56,245.03 L692.73,243.26 L693.08,241.46 L693.55,239.63 L694.08,237.74 L694.62,235.77 L695.11,233.70 L695.59,231.50 L696.11,229.18 L696.64,226.79 L697.14,224.35 L697.59,221.92 L697.95,219.52 L698.20,217.09 L698.38,214.58 L698.50,212.07 L698.59,209.63 L698.68,207.37 L698.80,205.35 L698.93,203.58 L699.04,201.98 L699.15,200.55 L699.28,199.27 L699.44,198.14 L699.65,197.13 L699.91,196.26 L700.22,195.54 L700.55,194.95 L700.91,194.51 L701.27,194.20 L701.63,194.01 L702.01,193.96 L702.41,194.03 L702.82,194.24 L703.22,194.59 L703.58,195.08 L703.90,195.71 L704.14,196.47 L704.33,197.33 L704.48,198.34 L704.62,199.51 L704.80,200.90 L705.03,202.52 L705.33,204.45 L705.67,206.70 L706.03,209.14 L706.41,211.69 L706.79,214.24 L707.16,216.69 L707.51,219.07 L707.84,221.47 L708.18,223.86 L708.52,226.24 L708.89,228.58 L709.29,230.86 L709.77,233.09 L710.35,235.27 L710.94,237.42 L711.49,239.52 L711.90,241.59 L712.12,243.62 L712.06,245.60 L711.76,247.55 L711.34,249.46 L710.90,251.33 L710.56,253.16 L710.42,254.95 L710.49,256.67 L710.68,258.31 L710.97,259.91 L711.32,261.52 L711.72,263.16 L712.12,264.88 L712.61,266.68 L713.21,268.55 L713.85,270.46 L714.45,272.38 L714.94,274.31 L715.24,276.21 L715.29,278.14 L715.14,280.10 L714.87,282.06 L714.58,283.98 L714.34,285.83 L714.25,287.55 L714.31,289.12 L714.48,290.54 L714.70,291.89 L714.93,293.22 L715.12,294.59 L715.24,296.05 L715.24,297.67 L715.18,299.39 L715.07,301.15 L714.97,302.88 L714.92,304.51 L714.95,305.98 L715.05,307.25 L715.17,308.39 L715.34,309.43 L715.57,310.41 L715.91,311.37 L716.37,312.35 L716.97,313.45 L717.68,314.64 L718.50,315.81 L719.39,316.84 L720.34,317.62 L721.33,318.02 L722.44,317.99 L723.69,317.60 L725.01,316.96 L726.29,316.16 L727.46,315.30 L728.42,314.48 L729.19,313.67 L729.84,312.80 L730.37,311.87 L730.78,310.88 L731.08,309.86 L731.25,308.81 L731.27,307.71 L731.12,306.55 L730.85,305.36 L730.52,304.14 L730.16,302.92 L729.84,301.72 L729.51,300.56 L729.13,299.41 L728.73,298.27 L728.34,297.10 L727.99,295.90 L727.71,294.64 L727.49,293.32 L727.32,291.96 L727.18,290.56 L727.08,289.13 L727.02,287.65 L727.00,286.13 L727.02,284.58 L727.08,282.98 L727.18,281.35 L727.32,279.68 L727.49,277.97 L727.71,276.21 L728.00,274.39 L728.37,272.49 L728.77,270.54 L729.18,268.60 L729.55,266.70 L729.84,264.88 L730.07,263.16 L730.28,261.52 L730.46,259.91 L730.57,258.31 L730.61,256.67 L730.54,254.95 L730.36,253.13 L730.06,251.23 L729.68,249.29 L729.25,247.34 L728.82,245.44 L728.42,243.62 L728.00,241.88 L727.54,240.20 L727.06,238.57 L726.62,236.95 L726.26,235.33 L726.01,233.70 L725.87,232.04 L725.81,230.39 L725.82,228.74 L725.91,227.08 L726.07,225.43 L726.29,223.78 L726.64,222.14 L727.11,220.52 L727.66,218.90 L728.21,217.27 L728.72,215.59 L729.13,213.85 L729.44,212.08 L729.71,210.29 L729.94,208.45 L730.11,206.56 L730.22,204.59 L730.26,202.52 L730.20,200.24 L730.04,197.74 L729.81,195.17 L729.56,192.65 L729.32,190.33 L729.13,188.34 L728.99,186.78 L728.89,185.55 L728.79,184.51 L728.69,183.53 L728.57,182.49 L728.42,181.26 L728.23,179.83 L728.02,178.30 L727.80,176.71 L727.55,175.08 L727.29,173.43 L727.00,171.80 L726.69,170.14 L726.36,168.43 L726.01,166.69 L725.64,165.00 L725.26,163.38 L724.88,161.88 L724.46,160.54 L724.00,159.31 L723.53,158.16 L723.07,157.05 L722.66,155.94 L722.32,154.80 L722.04,153.66 L721.79,152.59 L721.58,151.52 L721.43,150.39 L721.34,149.14 L721.33,147.71 L721.43,146.05 L721.63,144.19 L721.89,142.22 L722.19,140.20 L722.49,138.23 L722.75,136.37 L723.00,134.52 L723.27,132.59 L723.55,130.70 L723.80,128.97 L724.01,127.51 L724.17,126.45" fill="none" stroke="#231f20" stroke-width="1.7" stroke-linejoin="round"/>
<path d="M646.50,172.05 L645.94,172.33 L645.16,172.70 L644.23,173.15 L643.23,173.67 L642.22,174.25 L641.26,174.88 L640.34,175.61 L639.40,176.47 L638.45,177.38 L637.49,178.29 L636.54,179.13 L635.59,179.84 L634.58,180.40 L633.48,180.86 L632.38,181.25 L631.37,181.61 L630.52,181.98 L629.92,182.39 L629.55,182.88 L629.34,183.41 L629.30,183.95 L629.43,184.46 L629.73,184.90 L630.20,185.23 L631.04,185.37 L632.28,185.34 L633.69,185.24 L635.04,185.16 L636.13,185.22 L636.72,185.51 L636.74,186.06 L636.35,186.81 L635.68,187.68 L634.88,188.62 L634.10,189.57 L633.46,190.47 L632.91,191.37 L632.31,192.34 L631.73,193.31 L631.21,194.24 L630.83,195.06 L630.63,195.71 L630.64,196.24 L630.81,196.70 L631.11,197.05 L631.51,197.26 L631.97,197.30 L632.47,197.13 L633.11,196.54 L633.94,195.51 L634.83,194.31 L635.67,193.19 L636.34,192.44 L636.72,192.31 L636.72,192.99 L636.41,194.31 L635.94,195.99 L635.43,197.75 L635.03,199.31 L634.88,200.39 L635.00,201.06 L635.27,201.56 L635.65,201.85 L636.10,201.93 L636.57,201.78 L637.01,201.38 L637.47,200.46 L637.99,198.98 L638.53,197.27 L639.05,195.66 L639.50,194.46 L639.84,194.01 L640.03,194.52 L640.10,195.76 L640.10,197.42 L640.09,199.19 L640.13,200.76 L640.27,201.81 L640.54,202.40 L640.89,202.79 L641.29,202.98 L641.70,202.95 L642.08,202.71 L642.39,202.23 L642.61,201.28 L642.78,199.81 L642.91,198.12 L643.03,196.51 L643.18,195.28 L643.38,194.72 L643.64,195.03 L643.93,195.99 L644.24,197.33 L644.57,198.76 L644.90,200.02 L645.23,200.82 L645.57,201.20 L645.94,201.40 L646.31,201.43 L646.66,201.27 L646.97,200.92 L647.21,200.39 L647.33,199.59 L647.33,198.50 L647.28,197.22 L647.27,195.86 L647.36,194.52 L647.64,193.30 L648.13,192.23 L648.79,191.21 L649.55,190.20 L650.36,189.18 L651.16,188.11 L651.89,186.93 L652.59,185.53 L653.34,183.94 L654.07,182.28 L654.74,180.71 L655.30,179.37 L655.71,178.42" fill="none" stroke="#231f20" stroke-width="1.5" stroke-linejoin="round"/>
<path d="M756.34,171.34 L756.92,171.62 L757.72,171.99 L758.68,172.45 L759.71,172.97 L760.75,173.54 L761.72,174.17 L762.66,174.91 L763.60,175.77 L764.56,176.70 L765.51,177.61 L766.46,178.45 L767.39,179.13 L768.37,179.64 L769.42,180.02 L770.46,180.33 L771.41,180.60 L772.21,180.90 L772.78,181.26 L773.13,181.72 L773.32,182.25 L773.36,182.79 L773.24,183.31 L772.95,183.76 L772.49,184.09 L771.69,184.23 L770.50,184.19 L769.15,184.08 L767.85,184.00 L766.82,184.06 L766.26,184.38 L766.26,184.99 L766.66,185.83 L767.32,186.80 L768.11,187.84 L768.89,188.85 L769.52,189.76 L770.07,190.60 L770.67,191.45 L771.25,192.28 L771.77,193.05 L772.16,193.73 L772.35,194.30 L772.34,194.78 L772.17,195.21 L771.87,195.55 L771.48,195.78 L771.01,195.84 L770.51,195.71 L769.87,195.20 L769.05,194.28 L768.15,193.21 L767.31,192.22 L766.64,191.56 L766.26,191.46 L766.26,192.11 L766.57,193.34 L767.05,194.89 L767.56,196.52 L767.95,197.96 L768.10,198.97 L767.98,199.61 L767.71,200.07 L767.33,200.36 L766.88,200.44 L766.42,200.32 L765.98,199.97 L765.52,199.14 L765.00,197.80 L764.47,196.25 L763.95,194.79 L763.50,193.71 L763.14,193.30 L762.92,193.76 L762.80,194.88 L762.74,196.39 L762.69,197.99 L762.61,199.42 L762.43,200.39 L762.15,200.97 L761.79,201.39 L761.39,201.63 L760.98,201.68 L760.61,201.51 L760.31,201.10 L760.09,200.22 L759.92,198.84 L759.79,197.25 L759.67,195.72 L759.52,194.55 L759.31,194.01 L759.06,194.29 L758.77,195.18 L758.46,196.42 L758.14,197.76 L757.80,198.93 L757.47,199.68 L757.11,200.06 L756.72,200.27 L756.32,200.32 L755.94,200.20 L755.60,199.89 L755.35,199.40 L755.22,198.64 L755.20,197.60 L755.24,196.38 L755.25,195.07 L755.17,193.78 L754.92,192.60 L754.48,191.53 L753.89,190.49 L753.20,189.47 L752.47,188.43 L751.75,187.36 L751.09,186.22 L750.45,184.91 L749.76,183.44 L749.08,181.92 L748.46,180.50 L747.93,179.29 L747.55,178.42" fill="none" stroke="#231f20" stroke-width="1.5" stroke-linejoin="round"/>
<line x1="662.52" y1="119.37" x2="665.63" y2="120.50" stroke="#231f20" stroke-width="0.6" stroke-linecap="butt"/>
<line x1="653.30" y1="153.38" x2="655.86" y2="154.51" stroke="#231f20" stroke-width="0.6" stroke-linecap="butt"/>
<line x1="666.77" y1="157.35" x2="669.32" y2="158.48" stroke="#231f20" stroke-width="0.6" stroke-linecap="butt"/>
<line x1="736.50" y1="116.53" x2="732.95" y2="117.38" stroke="#231f20" stroke-width="0.6" stroke-linecap="butt"/>
<line x1="741.17" y1="139.21" x2="738.62" y2="140.06" stroke="#231f20" stroke-width="0.6" stroke-linecap="butt"/>
<line x1="734.80" y1="154.09" x2="731.96" y2="154.94" stroke="#231f20" stroke-width="0.6" stroke-linecap="butt"/>
<line x1="726.01" y1="231.15" x2="718.92" y2="231.57" stroke="#231f20" stroke-width="0.6" stroke-linecap="butt"/>
<line x1="727.71" y1="245.03" x2="725.16" y2="245.46" stroke="#231f20" stroke-width="0.6" stroke-linecap="butt"/>
<line x1="694.40" y1="251.41" x2="689.44" y2="251.84" stroke="#231f20" stroke-width="0.6" stroke-linecap="butt"/>
<line x1="677.82" y1="276.50" x2="675.84" y2="276.92" stroke="#231f20" stroke-width="0.6" stroke-linecap="butt"/>
<line x1="677.82" y1="286.42" x2="680.37" y2="286.84" stroke="#231f20" stroke-width="0.6" stroke-linecap="butt"/>
<line x1="715.24" y1="276.50" x2="717.79" y2="276.92" stroke="#231f20" stroke-width="0.6" stroke-linecap="butt"/>
<line x1="726.58" y1="286.13" x2="717.36" y2="286.56" stroke="#231f20" stroke-width="0.6" stroke-linecap="butt"/>
<line x1="688.03" y1="287.55" x2="690.01" y2="287.98" stroke="#231f20" stroke-width="0.6" stroke-linecap="butt"/>
<ellipse cx="700.6" cy="92.4" rx="12.5" ry="16.7" fill="#ebae53" fill-opacity="0.75"/>
<ellipse cx="701.1" cy="172.5" rx="29" ry="21.7" fill="#f9eed8" fill-opacity="0.65"/>
<circle cx="643.4" cy="185.6" r="14.6" fill="#ebe387" fill-opacity="0.75"/>
<circle cx="762.2" cy="184.4" r="14.6" fill="#ebe387" fill-opacity="0.75"/>
<line x1="702.50" y1="72.90" x2="827.70" y2="72.90" stroke="#231f20" stroke-width="1.4" stroke-linecap="butt"/>
<line x1="701.50" y1="104.80" x2="827.20" y2="104.80" stroke="#231f20" stroke-width="1.4" stroke-linecap="butt"/>
<line x1="698.70" y1="160.90" x2="823.70" y2="160.90" stroke="#231f20" stroke-width="1.4" stroke-linecap="butt"/>
<line x1="752.50" y1="190.20" x2="821.20" y2="190.20" stroke="#231f20" stroke-width="1.4" stroke-linecap="butt"/>
<text x="830.20" y="68.40" font-size="21.1" fill="#231f20" stroke="#231f20" text-anchor="end">100%</text>
<text x="826.50" y="98.80" font-size="21.1" fill="#231f20" stroke="#231f20" text-anchor="end">80%</text>
<text x="823.00" y="156.40" font-size="21.1" fill="#231f20" stroke="#231f20" text-anchor="end">20%</text>
<text x="830.20" y="186.40" font-size="21.1" fill="#231f20" stroke="#231f20" text-anchor="end">40%</text>
</g>
<g>
<text x="852.00" y="41.50" font-size="56.5" fill="#231f20" stroke="#231f20" text-anchor="start">C</text>
<path d="M927.50,10.20 L927.50,251.50 L1702.10,251.50" fill="none" stroke="#231f20" stroke-width="3.0" stroke-linejoin="miter"/>
<line x1="927.50" y1="10.10" x2="936.80" y2="10.10" stroke="#231f20" stroke-width="3.0" stroke-linecap="butt"/>
<line x1="927.50" y1="213.70" x2="936.50" y2="213.70" stroke="#231f20" stroke-width="3.0" stroke-linecap="butt"/>
<line x1="1017.20" y1="251.50" x2="1017.20" y2="242.70" stroke="#231f20" stroke-width="3.2" stroke-linecap="butt"/>
<text x="1014.00" y="280.70" font-size="33.5" fill="#231f20" stroke="#231f20" text-anchor="middle">1</text>
<line x1="1107.60" y1="251.50" x2="1107.60" y2="242.70" stroke="#231f20" stroke-width="3.2" stroke-linecap="butt"/>
<text x="1104.40" y="280.70" font-size="33.5" fill="#231f20" stroke="#231f20" text-anchor="middle">2</text>
<line x1="1196.80" y1="251.50" x2="1196.80" y2="242.70" stroke="#231f20" stroke-width="3.2" stroke-linecap="butt"/>
<text x="1193.60" y="280.70" font-size="33.5" fill="#231f20" stroke="#231f20" text-anchor="middle">3</text>
<line x1="1286.90" y1="251.50" x2="1286.90" y2="242.70" stroke="#231f20" stroke-width="3.2" stroke-linecap="butt"/>
<text x="1283.70" y="280.70" font-size="33.5" fill="#231f20" stroke="#231f20" text-anchor="middle">4</text>
<line x1="1378.10" y1="251.50" x2="1378.10" y2="242.70" stroke="#231f20" stroke-width="3.2" stroke-linecap="butt"/>
<text x="1374.90" y="280.70" font-size="33.5" fill="#231f20" stroke="#231f20" text-anchor="middle">5</text>
<line x1="1466.50" y1="251.50" x2="1466.50" y2="242.70" stroke="#231f20" stroke-width="3.2" stroke-linecap="butt"/>
<text x="1463.30" y="280.70" font-size="33.5" fill="#231f20" stroke="#231f20" text-anchor="middle">6</text>
<line x1="1556.20" y1="251.50" x2="1556.20" y2="242.70" stroke="#231f20" stroke-width="3.2" stroke-linecap="butt"/>
<text x="1553.00" y="280.70" font-size="33.5" fill="#231f20" stroke="#231f20" text-anchor="middle">7</text>
<line x1="1646.80" y1="251.50" x2="1646.80" y2="242.70" stroke="#231f20" stroke-width="3.2" stroke-linecap="butt"/>
<text x="1643.60" y="280.70" font-size="33.5" fill="#231f20" stroke="#231f20" text-anchor="middle">8</text>
<text x="924.50" y="22.20" font-size="30" fill="#231f20" stroke="#231f20" text-anchor="end">8</text>
<text x="924.50" y="224.30" font-size="30" fill="#231f20" stroke="#231f20" text-anchor="end">0</text>
<text x="911.80" y="197.20" font-size="31.7" fill="#231f20" stroke="#231f20" text-anchor="start" transform="rotate(-90 911.80 197.20)">Pain Scores</text>
<text x="1334.30" y="297.60" font-size="32" fill="#231f20" stroke="#231f20" text-anchor="middle">Time (days)</text>
<text x="938.00" y="223.00" font-size="21.3" fill="#231f20" stroke="#231f20" text-anchor="start">Participant 3</text>
<path d="M927.84,137.38 L936.35,162.82 L955.30,35.62 L959.42,61.06 L960.25,86.50 L967.11,61.06 L972.06,35.62 L976.73,61.06 L978.65,61.06 L983.04,35.62 L986.34,86.50 L992.11,61.06 L1004.74,86.50 L1021.77,61.06 L1025.06,86.50 L1052.25,61.06 L1059.12,86.50 L1075.60,35.62 L1075.87,111.94 L1087.96,86.50 L1093.45,86.50 L1095.37,10.18 L1099.77,61.06 L1103.34,137.38 L1109.38,86.50 L1146.19,86.50 L1161.02,86.50 L1176.67,86.50 L1184.64,35.62 L1187.38,86.50 L1192.33,86.50 L1198.37,86.50 L1203.31,137.38 L1212.65,213.70 L1219.79,137.38 L1228.03,137.38 L1232.97,213.70 L1250.55,61.06 L1254.12,111.94 L1262.36,111.94 L1274.72,61.06 L1278.57,213.70 L1294.50,213.70 L1313.17,213.70 L1317.29,213.70 L1313.72,213.70 L1320.59,213.70 L1326.63,111.94 L1338.43,111.94 L1356.27,111.94 L1370.82,111.94 L1385.09,111.94 L1401.56,162.82 L1413.37,162.82 L1447.41,162.82 L1459.21,61.06 L1469.37,111.94 L1489.95,61.06 L1492.97,162.82 L1504.50,35.62 L1525.64,35.62 L1541.56,35.62 L1545.68,10.18 L1560.77,10.18 L1564.62,213.70 L1579.99,61.06 L1583.56,86.50 L1593.71,86.50 L1596.46,86.50 L1603.32,86.50 L1611.56,86.50 L1618.97,86.50 L1626.65,86.50 L1637.08,213.70 L1650.54,86.50 L1654.10,137.38 L1678.81,213.70 L1686.49,111.94 L1693.91,213.70 L1701.32,213.70" fill="none" stroke="#231f20" stroke-width="1.5" stroke-linejoin="miter"/>
<circle cx="927.84" cy="137.38" r="5.05" fill="#231f20" stroke="none" stroke-width="0"/>
<circle cx="936.35" cy="162.82" r="5.05" fill="#231f20" stroke="none" stroke-width="0"/>
<circle cx="955.30" cy="35.62" r="5.05" fill="#231f20" stroke="none" stroke-width="0"/>
<circle cx="959.42" cy="61.06" r="5.05" fill="#231f20" stroke="none" stroke-width="0"/>
<circle cx="960.25" cy="86.50" r="5.05" fill="#231f20" stroke="none" stroke-width="0"/>
<circle cx="967.11" cy="61.06" r="5.05" fill="#231f20" stroke="none" stroke-width="0"/>
<circle cx="972.06" cy="35.62" r="5.05" fill="#231f20" stroke="none" stroke-width="0"/>
<circle cx="976.73" cy="61.06" r="5.05" fill="#231f20" stroke="none" stroke-width="0"/>
<circle cx="978.65" cy="61.06" r="5.05" fill="#231f20" stroke="none" stroke-width="0"/>
<circle cx="983.04" cy="35.62" r="5.05" fill="#231f20" stroke="none" stroke-width="0"/>
<circle cx="986.34" cy="86.50" r="5.05" fill="#231f20" stroke="none" stroke-width="0"/>
<circle cx="992.11" cy="61.06" r="5.05" fill="#231f20" stroke="none" stroke-width="0"/>
<circle cx="1004.74" cy="86.50" r="5.05" fill="#231f20" stroke="none" stroke-width="0"/>
<circle cx="1021.77" cy="61.06" r="5.05" fill="#231f20" stroke="none" stroke-width="0"/>
<circle cx="1025.06" cy="86.50" r="5.05" fill="#231f20" stroke="none" stroke-width="0"/>
<circle cx="1052.25" cy="61.06" r="5.05" fill="#231f20" stroke="none" stroke-width="0"/>
<circle cx="1059.12" cy="86.50" r="5.05" fill="#231f20" stroke="none" stroke-width="0"/>
<circle cx="1075.60" cy="35.62" r="5.05" fill="#231f20" stroke="none" stroke-width="0"/>
<circle cx="1075.87" cy="111.94" r="5.05" fill="#231f20" stroke="none" stroke-width="0"/>
<circle cx="1087.96" cy="86.50" r="5.05" fill="#231f20" stroke="none" stroke-width="0"/>
<circle cx="1093.45" cy="86.50" r="5.05" fill="#231f20" stroke="none" stroke-width="0"/>
<circle cx="1095.37" cy="10.18" r="5.05" fill="#231f20" stroke="none" stroke-width="0"/>
<circle cx="1099.77" cy="61.06" r="5.05" fill="#231f20" stroke="none" stroke-width="0"/>
<circle cx="1103.34" cy="137.38" r="5.05" fill="#231f20" stroke="none" stroke-width="0"/>
<circle cx="1109.38" cy="86.50" r="5.05" fill="#231f20" stroke="none" stroke-width="0"/>
<circle cx="1146.19" cy="86.50" r="5.05" fill="#231f20" stroke="none" stroke-width="0"/>
<circle cx="1161.02" cy="86.50" r="5.05" fill="#231f20" stroke="none" stroke-width="0"/>
<circle cx="1176.67" cy="86.50" r="5.05" fill="#231f20" stroke="none" stroke-width="0"/>
<circle cx="1184.64" cy="35.62" r="5.05" fill="#231f20" stroke="none" stroke-width="0"/>
<circle cx="1187.38" cy="86.50" r="5.05" fill="#231f20" stroke="none" stroke-width="0"/>
<circle cx="1192.33" cy="86.50" r="5.05" fill="#231f20" stroke="none" stroke-width="0"/>
<circle cx="1198.37" cy="86.50" r="5.05" fill="#231f20" stroke="none" stroke-width="0"/>
<circle cx="1203.31" cy="137.38" r="5.05" fill="#231f20" stroke="none" stroke-width="0"/>
<circle cx="1212.65" cy="213.70" r="5.05" fill="#231f20" stroke="none" stroke-width="0"/>
<circle cx="1219.79" cy="137.38" r="5.05" fill="#231f20" stroke="none" stroke-width="0"/>
<circle cx="1228.03" cy="137.38" r="5.05" fill="#231f20" stroke="none" stroke-width="0"/>
<circle cx="1232.97" cy="213.70" r="5.05" fill="#231f20" stroke="none" stroke-width="0"/>
<circle cx="1250.55" cy="61.06" r="5.05" fill="#231f20" stroke="none" stroke-width="0"/>
<circle cx="1254.12" cy="111.94" r="5.05" fill="#231f20" stroke="none" stroke-width="0"/>
<circle cx="1262.36" cy="111.94" r="5.05" fill="#231f20" stroke="none" stroke-width="0"/>
<circle cx="1274.72" cy="61.06" r="5.05" fill="#231f20" stroke="none" stroke-width="0"/>
<circle cx="1278.57" cy="213.70" r="5.05" fill="#231f20" stroke="none" stroke-width="0"/>
<circle cx="1294.50" cy="213.70" r="5.05" fill="#231f20" stroke="none" stroke-width="0"/>
<circle cx="1313.17" cy="213.70" r="5.05" fill="#231f20" stroke="none" stroke-width="0"/>
<circle cx="1317.29" cy="213.70" r="5.05" fill="#231f20" stroke="none" stroke-width="0"/>
<circle cx="1313.72" cy="213.70" r="5.05" fill="#231f20" stroke="none" stroke-width="0"/>
<circle cx="1320.59" cy="213.70" r="5.05" fill="#231f20" stroke="none" stroke-width="0"/>
<circle cx="1326.63" cy="111.94" r="5.05" fill="#231f20" stroke="none" stroke-width="0"/>
<circle cx="1338.43" cy="111.94" r="5.05" fill="#231f20" stroke="none" stroke-width="0"/>
<circle cx="1356.27" cy="111.94" r="5.05" fill="#231f20" stroke="none" stroke-width="0"/>
<circle cx="1370.82" cy="111.94" r="5.05" fill="#231f20" stroke="none" stroke-width="0"/>
<circle cx="1385.09" cy="111.94" r="5.05" fill="#231f20" stroke="none" stroke-width="0"/>
<circle cx="1401.56" cy="162.82" r="5.05" fill="#231f20" stroke="none" stroke-width="0"/>
<circle cx="1413.37" cy="162.82" r="5.05" fill="#231f20" stroke="none" stroke-width="0"/>
<circle cx="1447.41" cy="162.82" r="5.05" fill="#231f20" stroke="none" stroke-width="0"/>
<circle cx="1459.21" cy="61.06" r="5.05" fill="#231f20" stroke="none" stroke-width="0"/>
<circle cx="1469.37" cy="111.94" r="5.05" fill="#231f20" stroke="none" stroke-width="0"/>
<circle cx="1489.95" cy="61.06" r="5.05" fill="#231f20" stroke="none" stroke-width="0"/>
<circle cx="1492.97" cy="162.82" r="5.05" fill="#231f20" stroke="none" stroke-width="0"/>
<circle cx="1504.50" cy="35.62" r="5.05" fill="#231f20" stroke="none" stroke-width="0"/>
<circle cx="1525.64" cy="35.62" r="5.05" fill="#231f20" stroke="none" stroke-width="0"/>
<circle cx="1541.56" cy="35.62" r="5.05" fill="#231f20" stroke="none" stroke-width="0"/>
<circle cx="1545.68" cy="10.18" r="5.05" fill="#231f20" stroke="none" stroke-width="0"/>
<circle cx="1560.77" cy="10.18" r="5.05" fill="#231f20" stroke="none" stroke-width="0"/>
<circle cx="1564.62" cy="213.70" r="5.05" fill="#231f20" stroke="none" stroke-width="0"/>
<circle cx="1579.99" cy="61.06" r="5.05" fill="#231f20" stroke="none" stroke-width="0"/>
<circle cx="1583.56" cy="86.50" r="5.05" fill="#231f20" stroke="none" stroke-width="0"/>
<circle cx="1593.71" cy="86.50" r="5.05" fill="#231f20" stroke="none" stroke-width="0"/>
<circle cx="1596.46" cy="86.50" r="5.05" fill="#231f20" stroke="none" stroke-width="0"/>
<circle cx="1603.32" cy="86.50" r="5.05" fill="#231f20" stroke="none" stroke-width="0"/>
<circle cx="1611.56" cy="86.50" r="5.05" fill="#231f20" stroke="none" stroke-width="0"/>
<circle cx="1618.97" cy="86.50" r="5.05" fill="#231f20" stroke="none" stroke-width="0"/>
<circle cx="1626.65" cy="86.50" r="5.05" fill="#231f20" stroke="none" stroke-width="0"/>
<circle cx="1637.08" cy="213.70" r="5.05" fill="#231f20" stroke="none" stroke-width="0"/>
<circle cx="1650.54" cy="86.50" r="5.05" fill="#231f20" stroke="none" stroke-width="0"/>
<circle cx="1654.10" cy="137.38" r="5.05" fill="#231f20" stroke="none" stroke-width="0"/>
<circle cx="1678.81" cy="213.70" r="5.05" fill="#231f20" stroke="none" stroke-width="0"/>
<circle cx="1686.49" cy="111.94" r="5.05" fill="#231f20" stroke="none" stroke-width="0"/>
<circle cx="1693.91" cy="213.70" r="5.05" fill="#231f20" stroke="none" stroke-width="0"/>
<circle cx="1701.32" cy="213.70" r="5.05" fill="#231f20" stroke="none" stroke-width="0"/>
<circle cx="927.84" cy="234.40" r="1.85" fill="#2e3192" stroke="none" stroke-width="0"/>
<circle cx="959.42" cy="234.40" r="1.85" fill="#2e3192" stroke="none" stroke-width="0"/>
<circle cx="976.73" cy="234.40" r="1.85" fill="#2e3192" stroke="none" stroke-width="0"/>
<circle cx="986.34" cy="234.40" r="1.85" fill="#2e3192" stroke="none" stroke-width="0"/>
<circle cx="1025.61" cy="234.40" r="1.85" fill="#2e3192" stroke="none" stroke-width="0"/>
<circle cx="1059.67" cy="234.40" r="1.85" fill="#2e3192" stroke="none" stroke-width="0"/>
<circle cx="1064.06" cy="234.40" r="1.85" fill="#2e3192" stroke="none" stroke-width="0"/>
<circle cx="1079.72" cy="234.40" r="1.85" fill="#2e3192" stroke="none" stroke-width="0"/>
<circle cx="1097.85" cy="234.40" r="1.85" fill="#2e3192" stroke="none" stroke-width="0"/>
<circle cx="1103.89" cy="234.40" r="1.85" fill="#2e3192" stroke="none" stroke-width="0"/>
<circle cx="1161.02" cy="234.40" r="1.85" fill="#2e3192" stroke="none" stroke-width="0"/>
<circle cx="1189.58" cy="234.40" r="1.85" fill="#2e3192" stroke="none" stroke-width="0"/>
<circle cx="1194.52" cy="234.40" r="1.85" fill="#2e3192" stroke="none" stroke-width="0"/>
<circle cx="1255.77" cy="234.40" r="1.85" fill="#2e3192" stroke="none" stroke-width="0"/>
<circle cx="1280.21" cy="234.40" r="1.85" fill="#2e3192" stroke="none" stroke-width="0"/>
<circle cx="1287.63" cy="234.40" r="1.85" fill="#2e3192" stroke="none" stroke-width="0"/>
<circle cx="1332.94" cy="234.40" r="1.85" fill="#2e3192" stroke="none" stroke-width="0"/>
<circle cx="1464.70" cy="234.40" r="1.85" fill="#2e3192" stroke="none" stroke-width="0"/>
<circle cx="1495.44" cy="234.40" r="1.85" fill="#2e3192" stroke="none" stroke-width="0"/>
<circle cx="1509.99" cy="234.40" r="1.85" fill="#2e3192" stroke="none" stroke-width="0"/>
<circle cx="1532.78" cy="234.40" r="1.85" fill="#2e3192" stroke="none" stroke-width="0"/>
<circle cx="1547.87" cy="234.40" r="1.85" fill="#2e3192" stroke="none" stroke-width="0"/>
<circle cx="1551.17" cy="234.40" r="1.85" fill="#2e3192" stroke="none" stroke-width="0"/>
<circle cx="1567.64" cy="234.40" r="1.85" fill="#2e3192" stroke="none" stroke-width="0"/>
<circle cx="1586.30" cy="234.40" r="1.85" fill="#2e3192" stroke="none" stroke-width="0"/>
<circle cx="1600.58" cy="234.40" r="1.85" fill="#2e3192" stroke="none" stroke-width="0"/>
<circle cx="1625.83" cy="234.40" r="1.85" fill="#2e3192" stroke="none" stroke-width="0"/>
<circle cx="1644.50" cy="234.40" r="1.85" fill="#2e3192" stroke="none" stroke-width="0"/>
<circle cx="1656.85" cy="234.40" r="1.85" fill="#2e3192" stroke="none" stroke-width="0"/>
<circle cx="1511.36" cy="241.60" r="1.75" fill="#e8283c" stroke="none" stroke-width="0"/>
<circle cx="1544.30" cy="241.60" r="1.75" fill="#e8283c" stroke="none" stroke-width="0"/>
<circle cx="1564.07" cy="241.60" r="1.75" fill="#e8283c" stroke="none" stroke-width="0"/>
<text x="1570.00" y="249.80" font-size="24.7" fill="#e8283c" stroke="#e8283c" text-anchor="start">Sz</text>
<text x="1657.60" y="245.20" font-size="31.3" fill="#2a55a5" stroke="#2a55a5" text-anchor="start">meds</text>
</g>
<g>
<text x="575.70" y="346.00" font-size="56.5" fill="#231f20" stroke="#231f20" text-anchor="start">D</text>
<rect x="649.80" y="484.20" width="21.90" height="99.20" fill="#808285" stroke="#231f20" stroke-width="1.25"/>
<rect x="692.60" y="538.00" width="21.70" height="45.40" fill="#808285" stroke="#231f20" stroke-width="1.25"/>
<rect x="714.30" y="529.50" width="21.60" height="53.90" fill="#808285" stroke="#231f20" stroke-width="1.25"/>
<rect x="735.90" y="484.20" width="21.60" height="99.20" fill="#808285" stroke="#231f20" stroke-width="1.25"/>
<rect x="757.50" y="376.90" width="21.60" height="206.50" fill="#808285" stroke="#231f20" stroke-width="1.25"/>
<rect x="779.10" y="457.60" width="21.60" height="125.80" fill="#808285" stroke="#231f20" stroke-width="1.25"/>
<rect x="800.70" y="511.50" width="21.90" height="71.90" fill="#808285" stroke="#231f20" stroke-width="1.25"/>
<rect x="822.60" y="556.10" width="21.70" height="27.30" fill="#808285" stroke="#231f20" stroke-width="1.25"/>
<line x1="715.00" y1="355.10" x2="760.80" y2="355.10" stroke="#e3e4e3" stroke-width="5.4" stroke-linecap="butt"/>
<path d="M725.20,346.60 L713.20,355.10 L725.20,363.60" fill="none" stroke="#e3e4e3" stroke-width="4.6" stroke-linejoin="miter"/>
<line x1="765.30" y1="355.10" x2="812.00" y2="355.10" stroke="#e8b5b3" stroke-width="5.4" stroke-linecap="butt"/>
<path d="M801.60,346.60 L813.60,355.10 L801.60,363.60" fill="none" stroke="#e8b5b3" stroke-width="4.6" stroke-linejoin="miter"/>
<rect x="765.30" y="359.50" width="5.70" height="223.90" fill="#e8283c" stroke="none" stroke-width="1.0"/>
<path d="M640.90,358.20 L640.90,583.20 L854.50,583.20" fill="none" stroke="#231f20" stroke-width="3.1" stroke-linejoin="miter"/>
<line x1="640.90" y1="359.50" x2="644.50" y2="359.50" stroke="#231f20" stroke-width="2.6" stroke-linecap="butt"/>
<line x1="660.70" y1="583.40" x2="660.70" y2="579.60" stroke="#231f20" stroke-width="2.6" stroke-linecap="butt"/>
<line x1="746.70" y1="583.40" x2="746.70" y2="579.60" stroke="#231f20" stroke-width="2.6" stroke-linecap="butt"/>
<line x1="833.40" y1="583.40" x2="833.40" y2="579.60" stroke="#231f20" stroke-width="2.6" stroke-linecap="butt"/>
<text x="640.30" y="367.60" font-size="30.5" fill="#231f20" stroke="#231f20" text-anchor="end">25</text>
<text x="637.30" y="590.20" font-size="31.3" fill="#231f20" stroke="#231f20" text-anchor="end">0</text>
<text x="659.30" y="613.00" font-size="31.3" fill="#231f20" stroke="#231f20" text-anchor="middle">0</text>
<text x="746.80" y="613.00" font-size="31.3" fill="#231f20" stroke="#231f20" text-anchor="middle">4</text>
<text x="834.60" y="613.00" font-size="31.3" fill="#231f20" stroke="#231f20" text-anchor="middle">8</text>
<text x="755.20" y="638.80" font-size="31.5" fill="#231f20" stroke="#231f20" text-anchor="middle">Pain Scores</text>
<text x="620.70" y="469.00" font-size="31.8" fill="#231f20" stroke="#231f20" text-anchor="middle" transform="rotate(-90 620.70 469.00)">Frequency</text>
<text x="682.50" y="380.80" font-size="18.6" fill="#231f20" stroke="#231f20" text-anchor="start">Low Pain</text>
<text x="782.80" y="380.80" font-size="18.5" fill="#231f20" stroke="#231f20" text-anchor="start">High Pain</text>
</g>
<g>
<text x="848.70" y="346.00" font-size="56.5" fill="#231f20" stroke="#231f20" text-anchor="start">E</text>
<rect x="944.90" y="471.80" width="56.60" height="140.60" fill="#e6e7e8" stroke="#231f20" stroke-width="1.4"/>
<rect x="1015.70" y="530.30" width="57.40" height="82.10" fill="#e8b5b3" stroke="#231f20" stroke-width="1.4"/>
<line x1="973.20" y1="457.60" x2="973.20" y2="486.00" stroke="#231f20" stroke-width="1.1" stroke-linecap="butt"/>
<line x1="970.70" y1="457.60" x2="975.70" y2="457.60" stroke="#231f20" stroke-width="1.1" stroke-linecap="butt"/>
<line x1="970.70" y1="486.00" x2="975.70" y2="486.00" stroke="#231f20" stroke-width="1.1" stroke-linecap="butt"/>
<line x1="1044.00" y1="516.10" x2="1044.00" y2="544.40" stroke="#231f20" stroke-width="1.1" stroke-linecap="butt"/>
<line x1="1041.50" y1="516.10" x2="1046.50" y2="516.10" stroke="#231f20" stroke-width="1.1" stroke-linecap="butt"/>
<line x1="1041.50" y1="544.40" x2="1046.50" y2="544.40" stroke="#231f20" stroke-width="1.1" stroke-linecap="butt"/>
<line x1="973.10" y1="498.00" x2="1044.40" y2="587.50" stroke="#fbb85a" stroke-width="2.7" stroke-linecap="round"/>
<line x1="973.10" y1="534.70" x2="1044.40" y2="504.60" stroke="#d2522a" stroke-width="2.7" stroke-linecap="round"/>
<line x1="973.10" y1="526.20" x2="1044.40" y2="512.50" stroke="#1c8fd6" stroke-width="2.7" stroke-linecap="round"/>
<line x1="973.10" y1="492.50" x2="1044.40" y2="525.80" stroke="#1c8fd6" stroke-width="2.7" stroke-linecap="round"/>
<line x1="973.10" y1="502.00" x2="1044.40" y2="483.00" stroke="#4a55a4" stroke-width="2.7" stroke-linecap="round"/>
<line x1="973.10" y1="503.70" x2="1044.40" y2="553.80" stroke="#6d6e71" stroke-width="2.7" stroke-linecap="round"/>
<line x1="973.10" y1="452.30" x2="1044.40" y2="527.60" stroke="#ef4136" stroke-width="2.7" stroke-linecap="round"/>
<line x1="973.10" y1="414.70" x2="1044.40" y2="535.60" stroke="#7f8c94" stroke-width="2.7" stroke-linecap="round"/>
<line x1="973.10" y1="463.80" x2="1044.40" y2="424.80" stroke="#2fab66" stroke-width="2.7" stroke-linecap="round"/>
<line x1="973.10" y1="464.70" x2="1044.40" y2="566.60" stroke="#00a651" stroke-width="2.7" stroke-linecap="round"/>
<line x1="973.10" y1="448.20" x2="1044.40" y2="587.50" stroke="#00a651" stroke-width="2.7" stroke-linecap="round"/>
<line x1="973.10" y1="354.10" x2="1044.40" y2="566.60" stroke="#00a651" stroke-width="2.7" stroke-linecap="round"/>
<circle cx="973.1" cy="498.0" r="1.25" fill="#fff" fill-opacity="0.55" stroke="#fbb85a" stroke-width="1.2"/>
<circle cx="1044.4" cy="587.5" r="1.25" fill="#fff" fill-opacity="0.55" stroke="#fbb85a" stroke-width="1.2"/>
<circle cx="973.1" cy="534.7" r="1.25" fill="#fff" fill-opacity="0.55" stroke="#d2522a" stroke-width="1.2"/>
<circle cx="1044.4" cy="504.6" r="1.25" fill="#fff" fill-opacity="0.55" stroke="#d2522a" stroke-width="1.2"/>
<circle cx="973.1" cy="526.2" r="1.25" fill="#fff" fill-opacity="0.55" stroke="#1c8fd6" stroke-width="1.2"/>
<circle cx="1044.4" cy="512.5" r="1.25" fill="#fff" fill-opacity="0.55" stroke="#1c8fd6" stroke-width="1.2"/>
<circle cx="973.1" cy="492.5" r="1.25" fill="#fff" fill-opacity="0.55" stroke="#1c8fd6" stroke-width="1.2"/>
<circle cx="1044.4" cy="525.8" r="1.25" fill="#fff" fill-opacity="0.55" stroke="#1c8fd6" stroke-width="1.2"/>
<circle cx="973.1" cy="502.0" r="1.25" fill="#fff" fill-opacity="0.55" stroke="#4a55a4" stroke-width="1.2"/>
<circle cx="1044.4" cy="483.0" r="1.25" fill="#fff" fill-opacity="0.55" stroke="#4a55a4" stroke-width="1.2"/>
<circle cx="973.1" cy="503.7" r="1.25" fill="#fff" fill-opacity="0.55" stroke="#6d6e71" stroke-width="1.2"/>
<circle cx="1044.4" cy="553.8" r="1.25" fill="#fff" fill-opacity="0.55" stroke="#6d6e71" stroke-width="1.2"/>
<circle cx="973.1" cy="452.3" r="1.25" fill="#fff" fill-opacity="0.55" stroke="#ef4136" stroke-width="1.2"/>
<circle cx="1044.4" cy="527.6" r="1.25" fill="#fff" fill-opacity="0.55" stroke="#ef4136" stroke-width="1.2"/>
<circle cx="973.1" cy="414.7" r="1.25" fill="#fff" fill-opacity="0.55" stroke="#7f8c94" stroke-width="1.2"/>
<circle cx="1044.4" cy="535.6" r="1.25" fill="#fff" fill-opacity="0.55" stroke="#7f8c94" stroke-width="1.2"/>
<circle cx="973.1" cy="463.8" r="1.25" fill="#fff" fill-opacity="0.55" stroke="#2fab66" stroke-width="1.2"/>
<circle cx="1044.4" cy="424.8" r="1.25" fill="#fff" fill-opacity="0.55" stroke="#2fab66" stroke-width="1.2"/>
<circle cx="973.1" cy="464.7" r="1.25" fill="#fff" fill-opacity="0.55" stroke="#00a651" stroke-width="1.2"/>
<circle cx="1044.4" cy="566.6" r="1.25" fill="#fff" fill-opacity="0.55" stroke="#00a651" stroke-width="1.2"/>
<circle cx="973.1" cy="448.2" r="1.25" fill="#fff" fill-opacity="0.55" stroke="#00a651" stroke-width="1.2"/>
<circle cx="1044.4" cy="587.5" r="1.25" fill="#fff" fill-opacity="0.55" stroke="#00a651" stroke-width="1.2"/>
<circle cx="973.1" cy="354.1" r="1.25" fill="#fff" fill-opacity="0.55" stroke="#00a651" stroke-width="1.2"/>
<circle cx="1044.4" cy="566.6" r="1.25" fill="#fff" fill-opacity="0.55" stroke="#00a651" stroke-width="1.2"/>
<path d="M937.60,330.20 L937.60,612.40 L1081.20,612.40" fill="none" stroke="#231f20" stroke-width="3.0" stroke-linejoin="miter"/>
<line x1="937.60" y1="332.40" x2="941.60" y2="332.40" stroke="#231f20" stroke-width="2.4" stroke-linecap="butt"/>
<line x1="937.60" y1="459.40" x2="941.60" y2="459.40" stroke="#231f20" stroke-width="2.4" stroke-linecap="butt"/>
<line x1="973.10" y1="612.40" x2="973.10" y2="608.20" stroke="#231f20" stroke-width="2.4" stroke-linecap="butt"/>
<line x1="1044.40" y1="612.40" x2="1044.40" y2="608.20" stroke="#231f20" stroke-width="2.4" stroke-linecap="butt"/>
<line x1="973.20" y1="332.90" x2="1029.90" y2="332.90" stroke="#231f20" stroke-width="2.4" stroke-linecap="butt"/>
<text x="1000.80" y="342.80" font-size="37" fill="#231f20" text-anchor="middle" stroke="#231f20" stroke-width="0.5">*</text>
<text x="932.30" y="342.70" font-size="27.5" fill="#231f20" stroke="#231f20" text-anchor="end">11</text>
<text x="933.80" y="470.20" font-size="27.5" fill="#231f20" stroke="#231f20" text-anchor="end">6</text>
<text x="936.20" y="620.30" font-size="27.3" fill="#231f20" stroke="#231f20" text-anchor="end">0</text>
<text x="976.70" y="635.80" font-size="26.7" fill="#231f20" stroke="#231f20" text-anchor="middle">Low</text>
<text x="1047.60" y="635.80" font-size="26.7" fill="#231f20" stroke="#231f20" text-anchor="middle">High</text>
<text x="903.00" y="480.50" font-size="31.3" fill="#231f20" stroke="#231f20" text-anchor="middle" transform="rotate(-90 903.00 480.50)">Pain Duration (hrs)</text>
<text transform="translate(1049.40 661.20) rotate(0) scale(1 1.05)" font-size="21" fill="#1c8fd6" stroke="#1c8fd6" text-anchor="start">S1</text>
<text transform="translate(1080.30 661.20) rotate(0) scale(1 1.05)" font-size="21" fill="#00a651" stroke="#00a651" text-anchor="start">S2</text>
<text transform="translate(1113.20 661.20) rotate(0) scale(1 1.05)" font-size="21" fill="#ef4136" stroke="#ef4136" text-anchor="start">S3</text>
<text transform="translate(1147.40 661.20) rotate(0) scale(1 1.05)" font-size="21" fill="#4a55a4" stroke="#4a55a4" text-anchor="start">S4</text>
<text transform="translate(1179.10 661.20) rotate(0) scale(1 1.05)" font-size="21" fill="#fbb85a" stroke="#fbb85a" text-anchor="start">S5</text>
<text transform="translate(1210.30 661.20) rotate(0) scale(1 1.05)" font-size="21" fill="#6f7b7d" stroke="#6f7b7d" text-anchor="start">S6</text>
<text transform="translate(1042.30 682.20) rotate(0) scale(1 1.05)" font-size="21" fill="#d2522a" stroke="#d2522a" text-anchor="start">S7</text>
<text transform="translate(1070.30 682.20) rotate(0) scale(1 1.05)" font-size="21" fill="#2fab66" stroke="#2fab66" text-anchor="start">S8</text>
<text transform="translate(1101.50 682.20) rotate(0) scale(1 1.05)" font-size="21" fill="#00a651" stroke="#00a651" text-anchor="start">S9</text>
<text transform="translate(1132.00 682.20) rotate(0) scale(1 1.05)" font-size="21" fill="#414042" stroke="#414042" text-anchor="start">S10</text>
<text transform="translate(1174.40 682.20) rotate(0) scale(1 1.05)" font-size="21" fill="#1c8fd6" stroke="#1c8fd6" text-anchor="start">S11</text>
<text transform="translate(1212.20 682.20) rotate(0) scale(1 1.05)" font-size="21" fill="#00a651" stroke="#00a651" text-anchor="start">S12</text>
<text x="1067.00" y="346.00" font-size="56.5" fill="#231f20" stroke="#231f20" text-anchor="start">F</text>
<rect x="1156.80" y="545.40" width="60.20" height="67.60" fill="#e6e7e8" stroke="#231f20" stroke-width="1.4"/>
<rect x="1232.40" y="429.80" width="60.20" height="183.20" fill="#e8b5b3" stroke="#231f20" stroke-width="1.4"/>
<line x1="1186.90" y1="535.70" x2="1186.90" y2="552.90" stroke="#231f20" stroke-width="1.1" stroke-linecap="butt"/>
<line x1="1184.40" y1="535.70" x2="1189.40" y2="535.70" stroke="#231f20" stroke-width="1.1" stroke-linecap="butt"/>
<line x1="1184.40" y1="552.90" x2="1189.40" y2="552.90" stroke="#231f20" stroke-width="1.1" stroke-linecap="butt"/>
<line x1="1262.40" y1="416.90" x2="1262.40" y2="443.70" stroke="#231f20" stroke-width="1.1" stroke-linecap="butt"/>
<line x1="1259.90" y1="416.90" x2="1264.90" y2="416.90" stroke="#231f20" stroke-width="1.1" stroke-linecap="butt"/>
<line x1="1259.90" y1="443.70" x2="1264.90" y2="443.70" stroke="#231f20" stroke-width="1.1" stroke-linecap="butt"/>
<line x1="1186.70" y1="611.60" x2="1262.10" y2="528.00" stroke="#2fab66" stroke-width="2.7" stroke-linecap="round"/>
<line x1="1186.70" y1="611.60" x2="1262.10" y2="467.00" stroke="#4a55a4" stroke-width="2.7" stroke-linecap="round"/>
<line x1="1186.70" y1="524.80" x2="1262.10" y2="474.00" stroke="#1c8fd6" stroke-width="2.7" stroke-linecap="round"/>
<line x1="1186.70" y1="519.10" x2="1262.10" y2="454.60" stroke="#fbb85a" stroke-width="2.7" stroke-linecap="round"/>
<line x1="1186.70" y1="550.90" x2="1262.10" y2="450.90" stroke="#6d6e71" stroke-width="2.7" stroke-linecap="round"/>
<line x1="1186.70" y1="524.30" x2="1262.10" y2="436.00" stroke="#00a651" stroke-width="2.7" stroke-linecap="round"/>
<line x1="1186.70" y1="529.80" x2="1262.10" y2="418.90" stroke="#1c8fd6" stroke-width="2.7" stroke-linecap="round"/>
<line x1="1186.70" y1="557.10" x2="1262.10" y2="395.00" stroke="#ef4136" stroke-width="2.7" stroke-linecap="round"/>
<line x1="1186.70" y1="514.90" x2="1262.10" y2="399.50" stroke="#00a651" stroke-width="2.7" stroke-linecap="round"/>
<line x1="1186.70" y1="545.90" x2="1262.10" y2="392.80" stroke="#d2522a" stroke-width="2.7" stroke-linecap="round"/>
<line x1="1186.70" y1="550.90" x2="1262.10" y2="383.40" stroke="#7f8c94" stroke-width="2.7" stroke-linecap="round"/>
<line x1="1186.70" y1="510.70" x2="1262.10" y2="354.90" stroke="#00a651" stroke-width="2.7" stroke-linecap="round"/>
<circle cx="1186.7" cy="611.6" r="1.95" fill="#fff" fill-opacity="0.7" stroke="#2fab66" stroke-width="1.5"/>
<circle cx="1262.1" cy="528.0" r="1.95" fill="#fff" fill-opacity="0.7" stroke="#2fab66" stroke-width="1.5"/>
<circle cx="1186.7" cy="611.6" r="1.95" fill="#fff" fill-opacity="0.7" stroke="#4a55a4" stroke-width="1.5"/>
<circle cx="1262.1" cy="467.0" r="1.95" fill="#fff" fill-opacity="0.7" stroke="#4a55a4" stroke-width="1.5"/>
<circle cx="1186.7" cy="524.8" r="1.95" fill="#fff" fill-opacity="0.7" stroke="#1c8fd6" stroke-width="1.5"/>
<circle cx="1262.1" cy="474.0" r="1.95" fill="#fff" fill-opacity="0.7" stroke="#1c8fd6" stroke-width="1.5"/>
<circle cx="1186.7" cy="519.1" r="1.95" fill="#fff" fill-opacity="0.7" stroke="#fbb85a" stroke-width="1.5"/>
<circle cx="1262.1" cy="454.6" r="1.95" fill="#fff" fill-opacity="0.7" stroke="#fbb85a" stroke-width="1.5"/>
<circle cx="1186.7" cy="550.9" r="1.95" fill="#fff" fill-opacity="0.7" stroke="#6d6e71" stroke-width="1.5"/>
<circle cx="1262.1" cy="450.9" r="1.95" fill="#fff" fill-opacity="0.7" stroke="#6d6e71" stroke-width="1.5"/>
<circle cx="1186.7" cy="524.3" r="1.95" fill="#fff" fill-opacity="0.7" stroke="#00a651" stroke-width="1.5"/>
<circle cx="1262.1" cy="436.0" r="1.95" fill="#fff" fill-opacity="0.7" stroke="#00a651" stroke-width="1.5"/>
<circle cx="1186.7" cy="529.8" r="1.95" fill="#fff" fill-opacity="0.7" stroke="#1c8fd6" stroke-width="1.5"/>
<circle cx="1262.1" cy="418.9" r="1.95" fill="#fff" fill-opacity="0.7" stroke="#1c8fd6" stroke-width="1.5"/>
<circle cx="1186.7" cy="557.1" r="1.95" fill="#fff" fill-opacity="0.7" stroke="#ef4136" stroke-width="1.5"/>
<circle cx="1262.1" cy="395.0" r="1.95" fill="#fff" fill-opacity="0.7" stroke="#ef4136" stroke-width="1.5"/>
<circle cx="1186.7" cy="514.9" r="1.95" fill="#fff" fill-opacity="0.7" stroke="#00a651" stroke-width="1.5"/>
<circle cx="1262.1" cy="399.5" r="1.95" fill="#fff" fill-opacity="0.7" stroke="#00a651" stroke-width="1.5"/>
<circle cx="1186.7" cy="545.9" r="1.95" fill="#fff" fill-opacity="0.7" stroke="#d2522a" stroke-width="1.5"/>
<circle cx="1262.1" cy="392.8" r="1.95" fill="#fff" fill-opacity="0.7" stroke="#d2522a" stroke-width="1.5"/>
<circle cx="1186.7" cy="550.9" r="1.95" fill="#fff" fill-opacity="0.7" stroke="#7f8c94" stroke-width="1.5"/>
<circle cx="1262.1" cy="383.4" r="1.95" fill="#fff" fill-opacity="0.7" stroke="#7f8c94" stroke-width="1.5"/>
<circle cx="1186.7" cy="510.7" r="1.95" fill="#fff" fill-opacity="0.7" stroke="#00a651" stroke-width="1.5"/>
<circle cx="1262.1" cy="354.9" r="1.95" fill="#fff" fill-opacity="0.7" stroke="#00a651" stroke-width="1.5"/>
<path d="M1148.90,335.00 L1148.90,613.50 L1301.50,613.50" fill="none" stroke="#231f20" stroke-width="3.0" stroke-linejoin="miter"/>
<line x1="1148.90" y1="336.40" x2="1153.50" y2="336.40" stroke="#231f20" stroke-width="2.6" stroke-linecap="butt"/>
<line x1="1186.70" y1="613.00" x2="1186.70" y2="608.60" stroke="#231f20" stroke-width="2.4" stroke-linecap="butt"/>
<line x1="1262.10" y1="613.00" x2="1262.10" y2="608.60" stroke="#231f20" stroke-width="2.4" stroke-linecap="butt"/>
<line x1="1190.40" y1="331.30" x2="1251.00" y2="331.30" stroke="#231f20" stroke-width="2.4" stroke-linecap="butt"/>
<text x="1222.80" y="342.00" font-size="38" fill="#231f20" text-anchor="middle" stroke="#231f20" stroke-width="0.5">***</text>
<text x="1137.50" y="350.60" font-size="31.3" fill="#231f20" stroke="#231f20" text-anchor="end">1</text>
<text x="1147.30" y="627.30" font-size="31.3" fill="#231f20" stroke="#231f20" text-anchor="end">0</text>
<text x="1190.00" y="637.20" font-size="26.7" fill="#231f20" stroke="#231f20" text-anchor="middle">Low</text>
<text x="1260.00" y="637.20" font-size="26.7" fill="#231f20" stroke="#231f20" text-anchor="middle">High</text>
<text x="1107.50" y="470.50" font-size="26.7" fill="#231f20" stroke="#231f20" text-anchor="middle" transform="rotate(-90 1107.50 470.50)">Pain Meds</text>
<text x="1139.20" y="466.00" font-size="26.7" fill="#231f20" stroke="#231f20" text-anchor="middle" transform="rotate(-90 1139.20 466.00)">(mean #/report)</text>
<text x="1263.80" y="344.50" font-size="56.5" fill="#231f20" stroke="#231f20" text-anchor="start">G</text>
<text x="1311.20" y="347.00" font-size="32.5" fill="#231f20" stroke="#231f20" text-anchor="start">.35</text>
<rect x="1383.30" y="399.60" width="23.90" height="213.00" fill="#fff" stroke="#231f20" stroke-width="1.25"/>
<text x="1405.20" y="602.80" font-size="26.9" fill="#231f20" stroke="#231f20" text-anchor="start" transform="rotate(-90 1405.20 602.80)">&lt;5</text>
<line x1="1395.25" y1="612.60" x2="1395.25" y2="608.00" stroke="#231f20" stroke-width="2.2" stroke-linecap="butt"/>
<rect x="1412.80" y="536.80" width="23.80" height="75.80" fill="#fff" stroke="#231f20" stroke-width="1.25"/>
<text x="1435.40" y="602.20" font-size="26.9" fill="#231f20" stroke="#231f20" text-anchor="start" transform="rotate(-90 1435.40 602.20)">5-30</text>
<line x1="1424.70" y1="612.60" x2="1424.70" y2="608.00" stroke="#231f20" stroke-width="2.2" stroke-linecap="butt"/>
<rect x="1442.40" y="543.80" width="23.70" height="68.80" fill="#fff" stroke="#231f20" stroke-width="1.25"/>
<text x="1464.70" y="612.90" font-size="26.9" fill="#231f20" stroke="#231f20" text-anchor="start" transform="rotate(-90 1464.70 612.90)">30-60</text>
<line x1="1454.25" y1="612.60" x2="1454.25" y2="608.00" stroke="#231f20" stroke-width="2.2" stroke-linecap="butt"/>
<rect x="1471.50" y="416.90" width="23.90" height="195.70" fill="#fff" stroke="#231f20" stroke-width="1.25"/>
<text x="1493.40" y="603.20" font-size="26.9" fill="#231f20" stroke="#231f20" text-anchor="start" transform="rotate(-90 1493.40 603.20)">60-120</text>
<line x1="1483.45" y1="612.60" x2="1483.45" y2="608.00" stroke="#231f20" stroke-width="2.2" stroke-linecap="butt"/>
<rect x="1501.20" y="362.10" width="23.90" height="250.50" fill="#fff" stroke="#231f20" stroke-width="1.25"/>
<text x="1523.10" y="604.80" font-size="26.9" fill="#231f20" stroke="#231f20" text-anchor="start" transform="rotate(-90 1523.10 604.80)">&gt;120</text>
<line x1="1513.15" y1="612.60" x2="1513.15" y2="608.00" stroke="#231f20" stroke-width="2.2" stroke-linecap="butt"/>
<path d="M1360.30,329.60 L1360.30,612.60 L1549.70,612.60" fill="none" stroke="#231f20" stroke-width="3.2" stroke-linejoin="miter"/>
<line x1="1360.30" y1="331.00" x2="1364.50" y2="331.00" stroke="#231f20" stroke-width="2.6" stroke-linecap="butt"/>
<text x="1365.30" y="355.60" font-size="26.6" fill="#231f20" stroke="#231f20" text-anchor="start">N = 12</text>
<text x="1359.30" y="623.20" font-size="32" fill="#231f20" stroke="#231f20" text-anchor="end">0</text>
<text x="1346.10" y="467.00" font-size="30.6" fill="#231f20" stroke="#231f20" text-anchor="middle" transform="rotate(-90 1346.10 467.00)">Prop. Total</text>
<text x="1454.20" y="644.70" font-size="31.2" fill="#231f20" stroke="#231f20" text-anchor="middle">Time to</text>
<text x="1458.60" y="683.00" font-size="31.2" fill="#231f20" stroke="#231f20" text-anchor="middle">Medication (min)</text>
<text x="1503.50" y="346.00" font-size="56.5" fill="#231f20" stroke="#231f20" text-anchor="start">H</text>
<rect x="1600.40" y="495.00" width="63.50" height="118.40" fill="#e6e7e8" stroke="#231f20" stroke-width="1.4"/>
<rect x="1679.80" y="476.70" width="62.80" height="136.70" fill="#e8b5b3" stroke="#231f20" stroke-width="1.4"/>
<line x1="1632.40" y1="476.90" x2="1632.40" y2="512.40" stroke="#231f20" stroke-width="1.1" stroke-linecap="butt"/>
<line x1="1630.20" y1="476.90" x2="1634.60" y2="476.90" stroke="#231f20" stroke-width="1.1" stroke-linecap="butt"/>
<line x1="1630.20" y1="512.40" x2="1634.60" y2="512.40" stroke="#231f20" stroke-width="1.1" stroke-linecap="butt"/>
<line x1="1710.60" y1="460.30" x2="1710.60" y2="493.10" stroke="#231f20" stroke-width="1.1" stroke-linecap="butt"/>
<line x1="1708.40" y1="460.30" x2="1712.80" y2="460.30" stroke="#231f20" stroke-width="1.1" stroke-linecap="butt"/>
<line x1="1708.40" y1="493.10" x2="1712.80" y2="493.10" stroke="#231f20" stroke-width="1.1" stroke-linecap="butt"/>
<line x1="1632.40" y1="559.30" x2="1710.60" y2="519.90" stroke="#fbb85a" stroke-width="2.8" stroke-linecap="round"/>
<line x1="1632.40" y1="551.60" x2="1710.60" y2="526.80" stroke="#ef4136" stroke-width="2.8" stroke-linecap="round"/>
<line x1="1632.40" y1="542.20" x2="1710.60" y2="554.60" stroke="#00a651" stroke-width="2.8" stroke-linecap="round"/>
<line x1="1632.40" y1="537.70" x2="1710.60" y2="511.90" stroke="#00a651" stroke-width="2.8" stroke-linecap="round"/>
<line x1="1632.40" y1="530.50" x2="1710.60" y2="523.60" stroke="#1c8fd6" stroke-width="2.8" stroke-linecap="round"/>
<line x1="1632.40" y1="525.60" x2="1710.60" y2="518.10" stroke="#1c8fd6" stroke-width="2.8" stroke-linecap="round"/>
<line x1="1632.40" y1="504.20" x2="1710.60" y2="448.40" stroke="#7f8c94" stroke-width="2.8" stroke-linecap="round"/>
<line x1="1632.40" y1="501.30" x2="1710.60" y2="447.90" stroke="#d2522a" stroke-width="2.8" stroke-linecap="round"/>
<line x1="1632.40" y1="470.20" x2="1710.60" y2="460.30" stroke="#6d6e71" stroke-width="2.8" stroke-linecap="round"/>
<line x1="1632.40" y1="441.20" x2="1710.60" y2="425.60" stroke="#2fab66" stroke-width="2.8" stroke-linecap="round"/>
<line x1="1632.40" y1="406.20" x2="1710.60" y2="404.50" stroke="#4a55a4" stroke-width="2.8" stroke-linecap="round"/>
<line x1="1632.40" y1="368.50" x2="1710.60" y2="384.70" stroke="#00a651" stroke-width="2.8" stroke-linecap="round"/>
<circle cx="1632.4" cy="559.3" r="1.95" fill="#fff" fill-opacity="0.7" stroke="#fbb85a" stroke-width="1.5"/>
<circle cx="1710.6" cy="519.9" r="1.95" fill="#fff" fill-opacity="0.7" stroke="#fbb85a" stroke-width="1.5"/>
<circle cx="1632.4" cy="551.6" r="1.95" fill="#fff" fill-opacity="0.7" stroke="#ef4136" stroke-width="1.5"/>
<circle cx="1710.6" cy="526.8" r="1.95" fill="#fff" fill-opacity="0.7" stroke="#ef4136" stroke-width="1.5"/>
<circle cx="1632.4" cy="542.2" r="1.95" fill="#fff" fill-opacity="0.7" stroke="#00a651" stroke-width="1.5"/>
<circle cx="1710.6" cy="554.6" r="1.95" fill="#fff" fill-opacity="0.7" stroke="#00a651" stroke-width="1.5"/>
<circle cx="1632.4" cy="537.7" r="1.95" fill="#fff" fill-opacity="0.7" stroke="#00a651" stroke-width="1.5"/>
<circle cx="1710.6" cy="511.9" r="1.95" fill="#fff" fill-opacity="0.7" stroke="#00a651" stroke-width="1.5"/>
<circle cx="1632.4" cy="530.5" r="1.95" fill="#fff" fill-opacity="0.7" stroke="#1c8fd6" stroke-width="1.5"/>
<circle cx="1710.6" cy="523.6" r="1.95" fill="#fff" fill-opacity="0.7" stroke="#1c8fd6" stroke-width="1.5"/>
<circle cx="1632.4" cy="525.6" r="1.95" fill="#fff" fill-opacity="0.7" stroke="#1c8fd6" stroke-width="1.5"/>
<circle cx="1710.6" cy="518.1" r="1.95" fill="#fff" fill-opacity="0.7" stroke="#1c8fd6" stroke-width="1.5"/>
<circle cx="1632.4" cy="504.2" r="1.95" fill="#fff" fill-opacity="0.7" stroke="#7f8c94" stroke-width="1.5"/>
<circle cx="1710.6" cy="448.4" r="1.95" fill="#fff" fill-opacity="0.7" stroke="#7f8c94" stroke-width="1.5"/>
<circle cx="1632.4" cy="501.3" r="1.95" fill="#fff" fill-opacity="0.7" stroke="#d2522a" stroke-width="1.5"/>
<circle cx="1710.6" cy="447.9" r="1.95" fill="#fff" fill-opacity="0.7" stroke="#d2522a" stroke-width="1.5"/>
<circle cx="1632.4" cy="470.2" r="1.95" fill="#fff" fill-opacity="0.7" stroke="#6d6e71" stroke-width="1.5"/>
<circle cx="1710.6" cy="460.3" r="1.95" fill="#fff" fill-opacity="0.7" stroke="#6d6e71" stroke-width="1.5"/>
<circle cx="1632.4" cy="441.2" r="1.95" fill="#fff" fill-opacity="0.7" stroke="#2fab66" stroke-width="1.5"/>
<circle cx="1710.6" cy="425.6" r="1.95" fill="#fff" fill-opacity="0.7" stroke="#2fab66" stroke-width="1.5"/>
<circle cx="1632.4" cy="406.2" r="1.95" fill="#fff" fill-opacity="0.7" stroke="#4a55a4" stroke-width="1.5"/>
<circle cx="1710.6" cy="404.5" r="1.95" fill="#fff" fill-opacity="0.7" stroke="#4a55a4" stroke-width="1.5"/>
<circle cx="1632.4" cy="368.5" r="1.95" fill="#fff" fill-opacity="0.7" stroke="#00a651" stroke-width="1.5"/>
<circle cx="1710.6" cy="384.7" r="1.95" fill="#fff" fill-opacity="0.7" stroke="#00a651" stroke-width="1.5"/>
<path d="M1593.00,326.10 L1593.00,613.40 L1751.00,613.40" fill="none" stroke="#231f20" stroke-width="3.0" stroke-linejoin="miter"/>
<line x1="1593.00" y1="327.50" x2="1597.50" y2="327.50" stroke="#231f20" stroke-width="2.6" stroke-linecap="butt"/>
<line x1="1632.40" y1="613.40" x2="1632.40" y2="609.00" stroke="#231f20" stroke-width="2.4" stroke-linecap="butt"/>
<line x1="1710.60" y1="613.40" x2="1710.60" y2="609.00" stroke="#231f20" stroke-width="2.4" stroke-linecap="butt"/>
<line x1="1636.40" y1="330.00" x2="1698.50" y2="330.00" stroke="#231f20" stroke-width="2.4" stroke-linecap="butt"/>
<text x="1667.50" y="340.40" font-size="37" fill="#231f20" text-anchor="middle" stroke="#231f20" stroke-width="0.5">*</text>
<text x="1587.00" y="338.30" font-size="25.6" fill="#231f20" stroke="#231f20" text-anchor="end">110</text>
<text x="1586.30" y="623.20" font-size="25.6" fill="#231f20" stroke="#231f20" text-anchor="end">70</text>
<text x="1639.50" y="637.20" font-size="26.7" fill="#231f20" stroke="#231f20" text-anchor="middle">Low</text>
<text x="1710.40" y="637.20" font-size="26.7" fill="#231f20" stroke="#231f20" text-anchor="middle">High</text>
<text x="1574.60" y="472.40" font-size="31.2" fill="#231f20" stroke="#231f20" text-anchor="middle" transform="rotate(-90 1574.60 472.40)">MAP (mmHg)</text>
</g>
<g>
<g fill="none" stroke="#1b75bc" stroke-width="2.7" stroke-linejoin="miter">
<path d="M84.3,1054.5 V754.7 H623.7 M652,754.7 H792"/>
<path d="M215.1,754.7 V894.8"/>
<path d="M267.8,754.7 V986.6"/>
<path d="M321.5,754.7 V985.9"/>
<path d="M531.3,754.7 V1029.3"/>
<path d="M688.5,754.7 V1040.5"/>
<rect x="72.4" y="1054.7" width="20.8" height="69.5"/>
<rect x="205.6" y="894.8" width="22.2" height="236.2"/>
<rect x="256.5" y="986.6" width="22.3" height="140.9"/>
<rect x="310.4" y="985.9" width="22.1" height="141.6"/>
<rect x="520.9" y="1029.3" width="22.6" height="98.2"/>
<rect x="623.8" y="685.5" width="28.0" height="446.5"/>
<rect x="651.8" y="1040.5" width="77.8" height="85.1"/>
</g>
<g fill="none" stroke="#e8283c" stroke-width="2.6" stroke-linejoin="miter">
<path d="M134.2,948.3 V912.2 H791.5"/>
<path d="M386.2,912.2 V1049.5"/>
<path d="M453.4,912.2 V951"/>
<path d="M598.4,912.2 V1011.3"/>
<path d="M771.6,912.2 V1014.3"/>
<rect x="119.2" y="948.3" width="31.8" height="176.5"/>
<rect x="359.6" y="1049.5" width="53.1" height="75.7"/>
<rect x="439.6" y="951" width="27.0" height="176.5"/>
<rect x="571.6" y="1011.3" width="49.2" height="115.1"/>
<rect x="755.5" y="1014.3" width="29.1" height="112.1"/>
</g>
<line x1="83.50" y1="1098.60" x2="83.50" y2="1090.00" stroke="#231f20" stroke-width="3.0" stroke-linecap="butt"/>
<rect x="76.70" y="1077.60" width="6.20" height="21.00" fill="#1a6cb3" stroke="#231f20" stroke-width="1.35"/>
<rect x="84.40" y="1089.30" width="6.10" height="9.30" fill="#d9602d" stroke="#231f20" stroke-width="1.35"/>
<line x1="79.75" y1="1064.50" x2="79.75" y2="1090.60" stroke="#231f20" stroke-width="1.4" stroke-linecap="butt"/>
<line x1="77.35" y1="1064.50" x2="82.15" y2="1064.50" stroke="#231f20" stroke-width="1.4" stroke-linecap="butt"/>
<line x1="77.35" y1="1090.60" x2="82.15" y2="1090.60" stroke="#231f20" stroke-width="1.4" stroke-linecap="butt"/>
<line x1="87.40" y1="1084.50" x2="87.40" y2="1094.00" stroke="#231f20" stroke-width="1.4" stroke-linecap="butt"/>
<line x1="85.00" y1="1084.50" x2="89.80" y2="1084.50" stroke="#231f20" stroke-width="1.4" stroke-linecap="butt"/>
<line x1="85.00" y1="1094.00" x2="89.80" y2="1094.00" stroke="#231f20" stroke-width="1.4" stroke-linecap="butt"/>
<line x1="109.84" y1="1098.60" x2="109.84" y2="1090.00" stroke="#231f20" stroke-width="3.0" stroke-linecap="butt"/>
<line x1="136.18" y1="1098.60" x2="136.18" y2="1090.00" stroke="#231f20" stroke-width="3.0" stroke-linecap="butt"/>
<rect x="129.38" y="1043.00" width="6.20" height="55.60" fill="#1a6cb3" stroke="#231f20" stroke-width="1.35"/>
<rect x="137.08" y="976.70" width="6.10" height="121.90" fill="#d9602d" stroke="#231f20" stroke-width="1.35"/>
<line x1="132.43" y1="1022.50" x2="132.43" y2="1063.50" stroke="#231f20" stroke-width="1.4" stroke-linecap="butt"/>
<line x1="130.03" y1="1022.50" x2="134.83" y2="1022.50" stroke="#231f20" stroke-width="1.4" stroke-linecap="butt"/>
<line x1="130.03" y1="1063.50" x2="134.83" y2="1063.50" stroke="#231f20" stroke-width="1.4" stroke-linecap="butt"/>
<line x1="140.08" y1="953.50" x2="140.08" y2="999.50" stroke="#231f20" stroke-width="1.4" stroke-linecap="butt"/>
<line x1="137.68" y1="953.50" x2="142.48" y2="953.50" stroke="#231f20" stroke-width="1.4" stroke-linecap="butt"/>
<line x1="137.68" y1="999.50" x2="142.48" y2="999.50" stroke="#231f20" stroke-width="1.4" stroke-linecap="butt"/>
<line x1="162.52" y1="1098.60" x2="162.52" y2="1090.00" stroke="#231f20" stroke-width="3.0" stroke-linecap="butt"/>
<line x1="188.86" y1="1098.60" x2="188.86" y2="1090.00" stroke="#231f20" stroke-width="3.0" stroke-linecap="butt"/>
<rect x="182.06" y="991.00" width="6.20" height="107.60" fill="#1a6cb3" stroke="#231f20" stroke-width="1.35"/>
<rect x="189.76" y="1012.60" width="6.10" height="86.00" fill="#d9602d" stroke="#231f20" stroke-width="1.35"/>
<line x1="185.11" y1="959.50" x2="185.11" y2="1022.50" stroke="#231f20" stroke-width="1.4" stroke-linecap="butt"/>
<line x1="182.71" y1="959.50" x2="187.51" y2="959.50" stroke="#231f20" stroke-width="1.4" stroke-linecap="butt"/>
<line x1="182.71" y1="1022.50" x2="187.51" y2="1022.50" stroke="#231f20" stroke-width="1.4" stroke-linecap="butt"/>
<line x1="192.76" y1="994.50" x2="192.76" y2="1032.00" stroke="#231f20" stroke-width="1.4" stroke-linecap="butt"/>
<line x1="190.36" y1="994.50" x2="195.16" y2="994.50" stroke="#231f20" stroke-width="1.4" stroke-linecap="butt"/>
<line x1="190.36" y1="1032.00" x2="195.16" y2="1032.00" stroke="#231f20" stroke-width="1.4" stroke-linecap="butt"/>
<line x1="215.20" y1="1098.60" x2="215.20" y2="1090.00" stroke="#231f20" stroke-width="3.0" stroke-linecap="butt"/>
<rect x="208.40" y="936.80" width="6.20" height="161.80" fill="#1a6cb3" stroke="#231f20" stroke-width="1.35"/>
<rect x="216.10" y="1024.70" width="6.10" height="73.90" fill="#d9602d" stroke="#231f20" stroke-width="1.35"/>
<line x1="211.45" y1="901.50" x2="211.45" y2="973.00" stroke="#231f20" stroke-width="1.4" stroke-linecap="butt"/>
<line x1="209.05" y1="901.50" x2="213.85" y2="901.50" stroke="#231f20" stroke-width="1.4" stroke-linecap="butt"/>
<line x1="209.05" y1="973.00" x2="213.85" y2="973.00" stroke="#231f20" stroke-width="1.4" stroke-linecap="butt"/>
<line x1="219.10" y1="1014.50" x2="219.10" y2="1035.50" stroke="#231f20" stroke-width="1.4" stroke-linecap="butt"/>
<line x1="216.70" y1="1014.50" x2="221.50" y2="1014.50" stroke="#231f20" stroke-width="1.4" stroke-linecap="butt"/>
<line x1="216.70" y1="1035.50" x2="221.50" y2="1035.50" stroke="#231f20" stroke-width="1.4" stroke-linecap="butt"/>
<line x1="241.54" y1="1098.60" x2="241.54" y2="1090.00" stroke="#231f20" stroke-width="3.0" stroke-linecap="butt"/>
<line x1="267.88" y1="1098.60" x2="267.88" y2="1090.00" stroke="#231f20" stroke-width="3.0" stroke-linecap="butt"/>
<rect x="261.08" y="1023.40" width="6.20" height="75.20" fill="#1a6cb3" stroke="#231f20" stroke-width="1.35"/>
<rect x="268.78" y="1082.00" width="6.10" height="16.60" fill="#d9602d" stroke="#231f20" stroke-width="1.35"/>
<line x1="264.13" y1="999.50" x2="264.13" y2="1047.50" stroke="#231f20" stroke-width="1.4" stroke-linecap="butt"/>
<line x1="261.73" y1="999.50" x2="266.53" y2="999.50" stroke="#231f20" stroke-width="1.4" stroke-linecap="butt"/>
<line x1="261.73" y1="1047.50" x2="266.53" y2="1047.50" stroke="#231f20" stroke-width="1.4" stroke-linecap="butt"/>
<line x1="271.78" y1="1078.50" x2="271.78" y2="1087.00" stroke="#231f20" stroke-width="1.4" stroke-linecap="butt"/>
<line x1="269.38" y1="1078.50" x2="274.18" y2="1078.50" stroke="#231f20" stroke-width="1.4" stroke-linecap="butt"/>
<line x1="269.38" y1="1087.00" x2="274.18" y2="1087.00" stroke="#231f20" stroke-width="1.4" stroke-linecap="butt"/>
<line x1="294.22" y1="1098.60" x2="294.22" y2="1090.00" stroke="#231f20" stroke-width="3.0" stroke-linecap="butt"/>
<line x1="320.56" y1="1098.60" x2="320.56" y2="1090.00" stroke="#231f20" stroke-width="3.0" stroke-linecap="butt"/>
<rect x="313.76" y="1030.00" width="6.20" height="68.60" fill="#1a6cb3" stroke="#231f20" stroke-width="1.35"/>
<rect x="321.46" y="1075.70" width="6.10" height="22.90" fill="#d9602d" stroke="#231f20" stroke-width="1.35"/>
<line x1="316.81" y1="1007.60" x2="316.81" y2="1053.10" stroke="#231f20" stroke-width="1.4" stroke-linecap="butt"/>
<line x1="314.41" y1="1007.60" x2="319.21" y2="1007.60" stroke="#231f20" stroke-width="1.4" stroke-linecap="butt"/>
<line x1="314.41" y1="1053.10" x2="319.21" y2="1053.10" stroke="#231f20" stroke-width="1.4" stroke-linecap="butt"/>
<line x1="324.46" y1="1069.00" x2="324.46" y2="1083.00" stroke="#231f20" stroke-width="1.4" stroke-linecap="butt"/>
<line x1="322.06" y1="1069.00" x2="326.86" y2="1069.00" stroke="#231f20" stroke-width="1.4" stroke-linecap="butt"/>
<line x1="322.06" y1="1083.00" x2="326.86" y2="1083.00" stroke="#231f20" stroke-width="1.4" stroke-linecap="butt"/>
<line x1="346.90" y1="1098.60" x2="346.90" y2="1090.00" stroke="#231f20" stroke-width="3.0" stroke-linecap="butt"/>
<rect x="340.10" y="850.40" width="6.20" height="248.20" fill="#1a6cb3" stroke="#231f20" stroke-width="1.35"/>
<rect x="347.80" y="851.80" width="6.10" height="246.80" fill="#d9602d" stroke="#231f20" stroke-width="1.35"/>
<line x1="343.15" y1="812.40" x2="343.15" y2="889.30" stroke="#231f20" stroke-width="1.4" stroke-linecap="butt"/>
<line x1="340.75" y1="812.40" x2="345.55" y2="812.40" stroke="#231f20" stroke-width="1.4" stroke-linecap="butt"/>
<line x1="340.75" y1="889.30" x2="345.55" y2="889.30" stroke="#231f20" stroke-width="1.4" stroke-linecap="butt"/>
<line x1="350.80" y1="819.30" x2="350.80" y2="885.20" stroke="#231f20" stroke-width="1.4" stroke-linecap="butt"/>
<line x1="348.40" y1="819.30" x2="353.20" y2="819.30" stroke="#231f20" stroke-width="1.4" stroke-linecap="butt"/>
<line x1="348.40" y1="885.20" x2="353.20" y2="885.20" stroke="#231f20" stroke-width="1.4" stroke-linecap="butt"/>
<line x1="373.24" y1="1098.60" x2="373.24" y2="1090.00" stroke="#231f20" stroke-width="3.0" stroke-linecap="butt"/>
<rect x="366.44" y="1097.30" width="6.20" height="1.30" fill="#1a6cb3" stroke="#231f20" stroke-width="1.35"/>
<rect x="374.14" y="1095.90" width="6.10" height="2.70" fill="#d9602d" stroke="#231f20" stroke-width="1.35"/>
<line x1="399.58" y1="1098.60" x2="399.58" y2="1090.00" stroke="#231f20" stroke-width="3.0" stroke-linecap="butt"/>
<rect x="392.78" y="1096.80" width="6.20" height="1.80" fill="#1a6cb3" stroke="#231f20" stroke-width="1.35"/>
<rect x="400.48" y="1075.30" width="6.10" height="23.30" fill="#d9602d" stroke="#231f20" stroke-width="1.35"/>
<line x1="403.48" y1="1062.20" x2="403.48" y2="1088.40" stroke="#231f20" stroke-width="1.4" stroke-linecap="butt"/>
<line x1="401.08" y1="1062.20" x2="405.88" y2="1062.20" stroke="#231f20" stroke-width="1.4" stroke-linecap="butt"/>
<line x1="401.08" y1="1088.40" x2="405.88" y2="1088.40" stroke="#231f20" stroke-width="1.4" stroke-linecap="butt"/>
<line x1="425.92" y1="1098.60" x2="425.92" y2="1090.00" stroke="#231f20" stroke-width="3.0" stroke-linecap="butt"/>
<line x1="452.26" y1="1098.60" x2="452.26" y2="1090.00" stroke="#231f20" stroke-width="3.0" stroke-linecap="butt"/>
<rect x="445.46" y="1082.00" width="6.20" height="16.60" fill="#1a6cb3" stroke="#231f20" stroke-width="1.35"/>
<rect x="453.16" y="984.30" width="6.10" height="114.30" fill="#d9602d" stroke="#231f20" stroke-width="1.35"/>
<line x1="448.51" y1="1074.00" x2="448.51" y2="1090.20" stroke="#231f20" stroke-width="1.4" stroke-linecap="butt"/>
<line x1="446.11" y1="1074.00" x2="450.91" y2="1074.00" stroke="#231f20" stroke-width="1.4" stroke-linecap="butt"/>
<line x1="446.11" y1="1090.20" x2="450.91" y2="1090.20" stroke="#231f20" stroke-width="1.4" stroke-linecap="butt"/>
<line x1="456.16" y1="957.70" x2="456.16" y2="1011.60" stroke="#231f20" stroke-width="1.4" stroke-linecap="butt"/>
<line x1="453.76" y1="957.70" x2="458.56" y2="957.70" stroke="#231f20" stroke-width="1.4" stroke-linecap="butt"/>
<line x1="453.76" y1="1011.60" x2="458.56" y2="1011.60" stroke="#231f20" stroke-width="1.4" stroke-linecap="butt"/>
<line x1="478.60" y1="1098.60" x2="478.60" y2="1090.00" stroke="#231f20" stroke-width="3.0" stroke-linecap="butt"/>
<rect x="471.80" y="1023.60" width="6.20" height="75.00" fill="#1a6cb3" stroke="#231f20" stroke-width="1.35"/>
<rect x="479.50" y="996.40" width="6.10" height="102.20" fill="#d9602d" stroke="#231f20" stroke-width="1.35"/>
<line x1="474.85" y1="1002.20" x2="474.85" y2="1046.00" stroke="#231f20" stroke-width="1.4" stroke-linecap="butt"/>
<line x1="472.45" y1="1002.20" x2="477.25" y2="1002.20" stroke="#231f20" stroke-width="1.4" stroke-linecap="butt"/>
<line x1="472.45" y1="1046.00" x2="477.25" y2="1046.00" stroke="#231f20" stroke-width="1.4" stroke-linecap="butt"/>
<line x1="482.50" y1="974.50" x2="482.50" y2="1019.40" stroke="#231f20" stroke-width="1.4" stroke-linecap="butt"/>
<line x1="480.10" y1="974.50" x2="484.90" y2="974.50" stroke="#231f20" stroke-width="1.4" stroke-linecap="butt"/>
<line x1="480.10" y1="1019.40" x2="484.90" y2="1019.40" stroke="#231f20" stroke-width="1.4" stroke-linecap="butt"/>
<line x1="504.94" y1="1098.60" x2="504.94" y2="1090.00" stroke="#231f20" stroke-width="3.0" stroke-linecap="butt"/>
<line x1="531.28" y1="1098.60" x2="531.28" y2="1090.00" stroke="#231f20" stroke-width="3.0" stroke-linecap="butt"/>
<rect x="524.48" y="1054.60" width="6.20" height="44.00" fill="#1a6cb3" stroke="#231f20" stroke-width="1.35"/>
<rect x="532.18" y="1075.00" width="6.10" height="23.60" fill="#d9602d" stroke="#231f20" stroke-width="1.35"/>
<line x1="527.53" y1="1034.40" x2="527.53" y2="1074.50" stroke="#231f20" stroke-width="1.4" stroke-linecap="butt"/>
<line x1="525.13" y1="1034.40" x2="529.93" y2="1034.40" stroke="#231f20" stroke-width="1.4" stroke-linecap="butt"/>
<line x1="525.13" y1="1074.50" x2="529.93" y2="1074.50" stroke="#231f20" stroke-width="1.4" stroke-linecap="butt"/>
<line x1="535.18" y1="1068.80" x2="535.18" y2="1082.70" stroke="#231f20" stroke-width="1.4" stroke-linecap="butt"/>
<line x1="532.78" y1="1068.80" x2="537.58" y2="1068.80" stroke="#231f20" stroke-width="1.4" stroke-linecap="butt"/>
<line x1="532.78" y1="1082.70" x2="537.58" y2="1082.70" stroke="#231f20" stroke-width="1.4" stroke-linecap="butt"/>
<line x1="557.62" y1="1098.60" x2="557.62" y2="1090.00" stroke="#231f20" stroke-width="3.0" stroke-linecap="butt"/>
<rect x="550.82" y="1075.30" width="6.20" height="23.30" fill="#1a6cb3" stroke="#231f20" stroke-width="1.35"/>
<rect x="558.52" y="1072.00" width="6.10" height="26.60" fill="#d9602d" stroke="#231f20" stroke-width="1.35"/>
<line x1="553.87" y1="1068.50" x2="553.87" y2="1083.50" stroke="#231f20" stroke-width="1.4" stroke-linecap="butt"/>
<line x1="551.47" y1="1068.50" x2="556.27" y2="1068.50" stroke="#231f20" stroke-width="1.4" stroke-linecap="butt"/>
<line x1="551.47" y1="1083.50" x2="556.27" y2="1083.50" stroke="#231f20" stroke-width="1.4" stroke-linecap="butt"/>
<line x1="561.52" y1="1061.80" x2="561.52" y2="1083.50" stroke="#231f20" stroke-width="1.4" stroke-linecap="butt"/>
<line x1="559.12" y1="1061.80" x2="563.92" y2="1061.80" stroke="#231f20" stroke-width="1.4" stroke-linecap="butt"/>
<line x1="559.12" y1="1083.50" x2="563.92" y2="1083.50" stroke="#231f20" stroke-width="1.4" stroke-linecap="butt"/>
<line x1="583.96" y1="1098.60" x2="583.96" y2="1090.00" stroke="#231f20" stroke-width="3.0" stroke-linecap="butt"/>
<rect x="577.16" y="1082.00" width="6.20" height="16.60" fill="#1a6cb3" stroke="#231f20" stroke-width="1.35"/>
<rect x="584.86" y="1035.30" width="6.10" height="63.30" fill="#d9602d" stroke="#231f20" stroke-width="1.35"/>
<line x1="580.21" y1="1073.80" x2="580.21" y2="1091.00" stroke="#231f20" stroke-width="1.4" stroke-linecap="butt"/>
<line x1="577.81" y1="1073.80" x2="582.61" y2="1073.80" stroke="#231f20" stroke-width="1.4" stroke-linecap="butt"/>
<line x1="577.81" y1="1091.00" x2="582.61" y2="1091.00" stroke="#231f20" stroke-width="1.4" stroke-linecap="butt"/>
<line x1="587.86" y1="1016.10" x2="587.86" y2="1055.00" stroke="#231f20" stroke-width="1.4" stroke-linecap="butt"/>
<line x1="585.46" y1="1016.10" x2="590.26" y2="1016.10" stroke="#231f20" stroke-width="1.4" stroke-linecap="butt"/>
<line x1="585.46" y1="1055.00" x2="590.26" y2="1055.00" stroke="#231f20" stroke-width="1.4" stroke-linecap="butt"/>
<line x1="610.30" y1="1098.60" x2="610.30" y2="1090.00" stroke="#231f20" stroke-width="3.0" stroke-linecap="butt"/>
<rect x="603.50" y="1096.20" width="6.20" height="2.40" fill="#1a6cb3" stroke="#231f20" stroke-width="1.35"/>
<rect x="611.20" y="1069.30" width="6.10" height="29.30" fill="#d9602d" stroke="#231f20" stroke-width="1.35"/>
<line x1="614.20" y1="1054.60" x2="614.20" y2="1084.20" stroke="#231f20" stroke-width="1.4" stroke-linecap="butt"/>
<line x1="611.80" y1="1054.60" x2="616.60" y2="1054.60" stroke="#231f20" stroke-width="1.4" stroke-linecap="butt"/>
<line x1="611.80" y1="1084.20" x2="616.60" y2="1084.20" stroke="#231f20" stroke-width="1.4" stroke-linecap="butt"/>
<line x1="636.64" y1="1098.60" x2="636.64" y2="1090.00" stroke="#231f20" stroke-width="3.0" stroke-linecap="butt"/>
<rect x="629.84" y="742.40" width="6.20" height="356.20" fill="#1a6cb3" stroke="#231f20" stroke-width="1.35"/>
<rect x="637.54" y="886.50" width="6.10" height="212.10" fill="#d9602d" stroke="#231f20" stroke-width="1.35"/>
<line x1="632.89" y1="696.50" x2="632.89" y2="788.50" stroke="#231f20" stroke-width="1.4" stroke-linecap="butt"/>
<line x1="630.49" y1="696.50" x2="635.29" y2="696.50" stroke="#231f20" stroke-width="1.4" stroke-linecap="butt"/>
<line x1="630.49" y1="788.50" x2="635.29" y2="788.50" stroke="#231f20" stroke-width="1.4" stroke-linecap="butt"/>
<line x1="640.54" y1="862.40" x2="640.54" y2="911.00" stroke="#231f20" stroke-width="1.4" stroke-linecap="butt"/>
<line x1="638.14" y1="862.40" x2="642.94" y2="862.40" stroke="#231f20" stroke-width="1.4" stroke-linecap="butt"/>
<line x1="638.14" y1="911.00" x2="642.94" y2="911.00" stroke="#231f20" stroke-width="1.4" stroke-linecap="butt"/>
<line x1="662.98" y1="1098.60" x2="662.98" y2="1090.00" stroke="#231f20" stroke-width="3.0" stroke-linecap="butt"/>
<rect x="656.18" y="1097.20" width="6.20" height="1.40" fill="#1a6cb3" stroke="#231f20" stroke-width="1.35"/>
<line x1="689.32" y1="1098.60" x2="689.32" y2="1090.00" stroke="#231f20" stroke-width="3.0" stroke-linecap="butt"/>
<rect x="682.52" y="1060.00" width="6.20" height="38.60" fill="#1a6cb3" stroke="#231f20" stroke-width="1.35"/>
<rect x="690.22" y="1086.20" width="6.10" height="12.40" fill="#d9602d" stroke="#231f20" stroke-width="1.35"/>
<line x1="685.57" y1="1048.60" x2="685.57" y2="1072.00" stroke="#231f20" stroke-width="1.4" stroke-linecap="butt"/>
<line x1="683.17" y1="1048.60" x2="687.97" y2="1048.60" stroke="#231f20" stroke-width="1.4" stroke-linecap="butt"/>
<line x1="683.17" y1="1072.00" x2="687.97" y2="1072.00" stroke="#231f20" stroke-width="1.4" stroke-linecap="butt"/>
<line x1="693.22" y1="1081.50" x2="693.22" y2="1091.70" stroke="#231f20" stroke-width="1.4" stroke-linecap="butt"/>
<line x1="690.82" y1="1081.50" x2="695.62" y2="1081.50" stroke="#231f20" stroke-width="1.4" stroke-linecap="butt"/>
<line x1="690.82" y1="1091.70" x2="695.62" y2="1091.70" stroke="#231f20" stroke-width="1.4" stroke-linecap="butt"/>
<line x1="715.66" y1="1098.60" x2="715.66" y2="1090.00" stroke="#231f20" stroke-width="3.0" stroke-linecap="butt"/>
<rect x="708.86" y="1086.90" width="6.20" height="11.70" fill="#1a6cb3" stroke="#231f20" stroke-width="1.35"/>
<rect x="716.56" y="1094.00" width="6.10" height="4.60" fill="#d9602d" stroke="#231f20" stroke-width="1.35"/>
<line x1="711.91" y1="1080.50" x2="711.91" y2="1093.20" stroke="#231f20" stroke-width="1.4" stroke-linecap="butt"/>
<line x1="709.51" y1="1080.50" x2="714.31" y2="1080.50" stroke="#231f20" stroke-width="1.4" stroke-linecap="butt"/>
<line x1="709.51" y1="1093.20" x2="714.31" y2="1093.20" stroke="#231f20" stroke-width="1.4" stroke-linecap="butt"/>
<line x1="719.56" y1="1091.50" x2="719.56" y2="1096.50" stroke="#231f20" stroke-width="1.4" stroke-linecap="butt"/>
<line x1="717.16" y1="1091.50" x2="721.96" y2="1091.50" stroke="#231f20" stroke-width="1.4" stroke-linecap="butt"/>
<line x1="717.16" y1="1096.50" x2="721.96" y2="1096.50" stroke="#231f20" stroke-width="1.4" stroke-linecap="butt"/>
<line x1="742.00" y1="1098.60" x2="742.00" y2="1090.00" stroke="#231f20" stroke-width="3.0" stroke-linecap="butt"/>
<rect x="735.20" y="1094.70" width="6.20" height="3.90" fill="#1a6cb3" stroke="#231f20" stroke-width="1.35"/>
<rect x="742.90" y="1091.30" width="6.10" height="7.30" fill="#d9602d" stroke="#231f20" stroke-width="1.35"/>
<line x1="738.25" y1="1091.50" x2="738.25" y2="1097.50" stroke="#231f20" stroke-width="1.4" stroke-linecap="butt"/>
<line x1="735.85" y1="1091.50" x2="740.65" y2="1091.50" stroke="#231f20" stroke-width="1.4" stroke-linecap="butt"/>
<line x1="735.85" y1="1097.50" x2="740.65" y2="1097.50" stroke="#231f20" stroke-width="1.4" stroke-linecap="butt"/>
<line x1="745.90" y1="1087.70" x2="745.90" y2="1095.50" stroke="#231f20" stroke-width="1.4" stroke-linecap="butt"/>
<line x1="743.50" y1="1087.70" x2="748.30" y2="1087.70" stroke="#231f20" stroke-width="1.4" stroke-linecap="butt"/>
<line x1="743.50" y1="1095.50" x2="748.30" y2="1095.50" stroke="#231f20" stroke-width="1.4" stroke-linecap="butt"/>
<line x1="768.34" y1="1098.60" x2="768.34" y2="1090.00" stroke="#231f20" stroke-width="3.0" stroke-linecap="butt"/>
<rect x="761.54" y="1065.50" width="6.20" height="33.10" fill="#1a6cb3" stroke="#231f20" stroke-width="1.35"/>
<rect x="769.24" y="1033.60" width="6.10" height="65.00" fill="#d9602d" stroke="#231f20" stroke-width="1.35"/>
<line x1="764.59" y1="1057.30" x2="764.59" y2="1074.50" stroke="#231f20" stroke-width="1.4" stroke-linecap="butt"/>
<line x1="762.19" y1="1057.30" x2="766.99" y2="1057.30" stroke="#231f20" stroke-width="1.4" stroke-linecap="butt"/>
<line x1="762.19" y1="1074.50" x2="766.99" y2="1074.50" stroke="#231f20" stroke-width="1.4" stroke-linecap="butt"/>
<line x1="772.24" y1="1019.60" x2="772.24" y2="1049.00" stroke="#231f20" stroke-width="1.4" stroke-linecap="butt"/>
<line x1="769.84" y1="1019.60" x2="774.64" y2="1019.60" stroke="#231f20" stroke-width="1.4" stroke-linecap="butt"/>
<line x1="769.84" y1="1049.00" x2="774.64" y2="1049.00" stroke="#231f20" stroke-width="1.4" stroke-linecap="butt"/>
<path d="M79.8,1082.8h0M79.8,1090.3h0M132.4,1046.1h0M132.4,1052.7h0M132.4,1061.5h0M132.4,1069.1h0M132.4,1075.2h0M132.4,1082.7h0M132.4,1094.0h0M185.1,993.8h0M185.1,1001.8h0M185.1,1011.2h0M185.1,1016.8h0M185.1,1023.6h0M185.1,1033.3h0M185.1,1039.8h0M185.1,1048.7h0M185.1,1053.9h0M185.1,1061.8h0M185.1,1071.2h0M185.1,1077.5h0M185.1,1085.0h0M185.1,1091.4h0M211.4,941.6h0M211.4,948.8h0M211.4,955.3h0M211.4,964.5h0M211.4,969.6h0M211.4,977.9h0M211.4,987.0h0M211.4,992.8h0M211.4,1001.7h0M211.4,1008.8h0M211.4,1017.6h0M211.4,1025.3h0M211.4,1031.7h0M211.4,1039.5h0M211.4,1044.4h0M211.4,1054.2h0M211.4,1062.2h0M211.4,1067.9h0M211.4,1076.0h0M211.4,1083.2h0M211.4,1092.6h0M264.1,1028.8h0M264.1,1036.2h0M264.1,1041.0h0M264.1,1050.0h0M264.1,1056.4h0M264.1,1064.9h0M264.1,1072.6h0M264.1,1078.3h0M264.1,1088.9h0M264.1,1094.0h0M316.8,1032.8h0M316.8,1040.9h0M316.8,1050.7h0M316.8,1058.1h0M316.8,1063.9h0M316.8,1071.3h0M316.8,1079.7h0M316.8,1087.9h0M316.8,1093.3h0M343.1,854.4h0M343.1,862.7h0M343.1,870.2h0M343.1,874.9h0M343.1,882.6h0M343.1,890.5h0M343.1,898.3h0M343.1,905.7h0M343.1,912.6h0M343.1,920.8h0M343.1,929.8h0M343.1,938.4h0M343.1,943.8h0M343.1,951.4h0M343.1,959.1h0M343.1,967.6h0M343.1,975.5h0M343.1,983.7h0M343.1,988.9h0M343.1,997.7h0M343.1,1003.8h0M343.1,1013.2h0M343.1,1018.3h0M343.1,1028.4h0M343.1,1034.4h0M343.1,1042.8h0M343.1,1049.5h0M343.1,1056.2h0M343.1,1064.4h0M343.1,1070.1h0M343.1,1077.6h0M343.1,1087.0h0M343.1,1094.3h0M448.5,1086.4h0M448.5,1095.2h0M474.9,1027.8h0M474.9,1034.9h0M474.9,1040.7h0M474.9,1048.7h0M474.9,1059.3h0M474.9,1063.6h0M474.9,1072.1h0M474.9,1081.9h0M474.9,1086.1h0M474.9,1094.7h0M527.5,1059.3h0M527.5,1067.3h0M527.5,1072.9h0M527.5,1080.9h0M527.5,1086.9h0M527.5,1095.6h0M553.9,1079.6h0M553.9,1088.0h0M553.9,1093.3h0M580.2,1087.1h0M580.2,1093.4h0M632.9,744.5h0M632.9,752.2h0M632.9,760.0h0M632.9,767.6h0M632.9,777.8h0M632.9,782.9h0M632.9,792.7h0M632.9,796.9h0M632.9,804.6h0M632.9,812.1h0M632.9,823.1h0M632.9,830.2h0M632.9,834.5h0M632.9,845.6h0M632.9,850.3h0M632.9,858.0h0M632.9,866.7h0M632.9,872.7h0M632.9,883.3h0M632.9,888.4h0M632.9,896.7h0M632.9,904.2h0M632.9,910.5h0M632.9,919.8h0M632.9,928.4h0M632.9,934.3h0M632.9,939.7h0M632.9,950.1h0M632.9,957.1h0M632.9,963.9h0M632.9,972.0h0M632.9,977.9h0M632.9,985.6h0M632.9,994.0h0M632.9,999.7h0M632.9,1009.3h0M632.9,1015.1h0M632.9,1022.9h0M632.9,1033.0h0M632.9,1039.3h0M632.9,1045.4h0M632.9,1054.7h0M632.9,1063.4h0M632.9,1070.5h0M632.9,1077.6h0M632.9,1083.2h0M632.9,1091.7h0M685.6,1065.1h0M685.6,1071.7h0M685.6,1079.1h0M685.6,1085.5h0M685.6,1094.6h0M711.9,1089.7h0M764.6,1068.0h0M764.6,1076.4h0M764.6,1083.8h0M764.6,1091.8h0" stroke="#4a6fd0" stroke-width="1.1" stroke-linecap="square" fill="none" opacity="0.9"/>
<path d="M87.4,1092.3h0M140.1,980.2h0M140.1,983.9h0M140.1,989.5h0M140.1,996.1h0M140.1,1000.9h0M140.1,1005.7h0M140.1,1009.4h0M140.1,1014.7h0M140.1,1020.2h0M140.1,1023.4h0M140.1,1029.9h0M140.1,1034.0h0M140.1,1040.8h0M140.1,1043.4h0M140.1,1050.2h0M140.1,1055.8h0M140.1,1058.9h0M140.1,1065.9h0M140.1,1070.8h0M140.1,1073.3h0M140.1,1080.3h0M140.1,1083.2h0M140.1,1089.7h0M140.1,1094.5h0M192.8,1014.1h0M192.8,1021.9h0M192.8,1024.4h0M192.8,1031.6h0M192.8,1035.2h0M192.8,1042.0h0M192.8,1045.3h0M192.8,1051.9h0M192.8,1055.8h0M192.8,1059.8h0M192.8,1066.3h0M192.8,1071.1h0M192.8,1076.2h0M192.8,1080.5h0M192.8,1084.8h0M192.8,1091.0h0M192.8,1094.4h0M219.1,1027.2h0M219.1,1032.4h0M219.1,1036.2h0M219.1,1042.5h0M219.1,1048.1h0M219.1,1054.0h0M219.1,1059.0h0M219.1,1062.2h0M219.1,1069.2h0M219.1,1071.8h0M219.1,1078.7h0M219.1,1081.7h0M219.1,1087.4h0M219.1,1091.4h0M271.8,1084.8h0M271.8,1088.7h0M271.8,1093.5h0M324.5,1079.6h0M324.5,1083.4h0M324.5,1089.0h0M324.5,1094.4h0M350.8,855.8h0M350.8,858.4h0M350.8,865.0h0M350.8,869.8h0M350.8,875.1h0M350.8,880.5h0M350.8,884.9h0M350.8,890.0h0M350.8,894.8h0M350.8,900.1h0M350.8,904.0h0M350.8,910.0h0M350.8,915.3h0M350.8,918.9h0M350.8,926.3h0M350.8,930.5h0M350.8,936.2h0M350.8,939.2h0M350.8,944.6h0M350.8,949.1h0M350.8,953.4h0M350.8,958.4h0M350.8,964.0h0M350.8,970.9h0M350.8,973.8h0M350.8,980.4h0M350.8,984.0h0M350.8,988.5h0M350.8,993.9h0M350.8,1000.3h0M350.8,1004.8h0M350.8,1009.9h0M350.8,1014.7h0M350.8,1019.1h0M350.8,1024.8h0M350.8,1031.1h0M350.8,1033.9h0M350.8,1040.5h0M350.8,1044.1h0M350.8,1048.9h0M350.8,1054.3h0M350.8,1058.6h0M350.8,1066.1h0M350.8,1069.4h0M350.8,1073.8h0M350.8,1078.3h0M350.8,1083.5h0M350.8,1088.9h0M350.8,1094.6h0M403.5,1078.6h0M403.5,1084.7h0M403.5,1089.5h0M403.5,1092.5h0M456.2,986.1h0M456.2,993.4h0M456.2,997.0h0M456.2,1003.1h0M456.2,1006.8h0M456.2,1012.7h0M456.2,1017.3h0M456.2,1021.1h0M456.2,1028.1h0M456.2,1033.3h0M456.2,1037.2h0M456.2,1042.0h0M456.2,1048.6h0M456.2,1051.9h0M456.2,1058.4h0M456.2,1062.1h0M456.2,1066.9h0M456.2,1071.9h0M456.2,1076.0h0M456.2,1081.6h0M456.2,1086.5h0M456.2,1091.0h0M482.5,1000.3h0M482.5,1003.0h0M482.5,1008.1h0M482.5,1015.7h0M482.5,1020.0h0M482.5,1023.7h0M482.5,1029.3h0M482.5,1033.6h0M482.5,1040.6h0M482.5,1045.7h0M482.5,1048.1h0M482.5,1054.5h0M482.5,1058.5h0M482.5,1064.1h0M482.5,1070.1h0M482.5,1075.0h0M482.5,1078.5h0M482.5,1083.9h0M482.5,1089.2h0M482.5,1094.1h0M535.2,1079.3h0M535.2,1083.0h0M535.2,1088.2h0M535.2,1093.3h0M561.5,1074.4h0M561.5,1081.2h0M561.5,1085.0h0M561.5,1091.4h0M561.5,1093.9h0M587.9,1038.2h0M587.9,1044.4h0M587.9,1047.2h0M587.9,1053.3h0M587.9,1057.5h0M587.9,1062.8h0M587.9,1069.3h0M587.9,1073.0h0M587.9,1079.2h0M587.9,1081.8h0M587.9,1089.8h0M587.9,1094.7h0M614.2,1072.8h0M614.2,1076.4h0M614.2,1082.8h0M614.2,1086.4h0M614.2,1091.9h0M640.5,889.8h0M640.5,893.3h0M640.5,900.1h0M640.5,904.6h0M640.5,909.6h0M640.5,915.2h0M640.5,918.2h0M640.5,923.6h0M640.5,931.0h0M640.5,933.9h0M640.5,938.8h0M640.5,943.2h0M640.5,948.9h0M640.5,954.7h0M640.5,958.1h0M640.5,963.9h0M640.5,968.8h0M640.5,973.5h0M640.5,980.4h0M640.5,985.9h0M640.5,990.7h0M640.5,994.3h0M640.5,998.2h0M640.5,1004.0h0M640.5,1009.6h0M640.5,1014.1h0M640.5,1020.2h0M640.5,1025.2h0M640.5,1030.7h0M640.5,1034.4h0M640.5,1038.7h0M640.5,1045.7h0M640.5,1050.7h0M640.5,1053.4h0M640.5,1058.6h0M640.5,1065.0h0M640.5,1070.5h0M640.5,1075.9h0M640.5,1078.1h0M640.5,1083.6h0M640.5,1089.3h0M640.5,1094.7h0M693.2,1089.4h0M693.2,1095.5h0M772.2,1035.6h0M772.2,1042.2h0M772.2,1047.6h0M772.2,1050.1h0M772.2,1057.8h0M772.2,1060.4h0M772.2,1066.0h0M772.2,1071.6h0M772.2,1076.4h0M772.2,1080.7h0M772.2,1087.3h0M772.2,1092.6h0" stroke="#f5353a" stroke-width="1.1" stroke-linecap="square" fill="none" opacity="1"/>
<line x1="71.00" y1="1098.80" x2="781.70" y2="1098.80" stroke="#262324" stroke-width="3.3" stroke-linecap="butt"/>
<path d="M79.8,937.3h0M79.8,1043.0h0M132.4,842.0h0M132.4,957.9h0M132.4,986.5h0M132.4,998.5h0M132.4,1005.5h0M132.4,1010.0h0M185.1,770.7h0M185.1,931.8h0M185.1,957.1h0M211.4,677.0h0M211.4,758.3h0M211.4,814.3h0M211.4,842.3h0M211.4,850.6h0M264.1,669.9h0M264.1,909.0h0M264.1,947.8h0M316.8,729.5h0M316.8,794.8h0M316.8,916.2h0M316.8,982.0h0M343.1,700.4h0M343.1,709.4h0M343.1,710.2h0M343.1,767.6h0M343.1,773.1h0M343.1,787.1h0M448.5,846.2h0M448.5,1050.0h0M448.5,1053.0h0M448.5,1060.0h0M474.9,801.1h0M474.9,982.0h0M474.9,986.0h0M527.5,920.8h0M527.5,976.5h0M527.5,1021.0h0M553.9,1025.5h0M553.9,1027.5h0M553.9,1063.0h0M632.9,677.0h0M685.6,909.9h0M685.6,924.1h0M685.6,1010.0h0M685.6,1032.0h0M711.9,1054.0h0M738.2,1069.0h0M738.2,1086.0h0M738.2,1089.5h0M764.6,976.0h0M764.6,1015.5h0M764.6,1045.5h0M79.8,1099.3h0M106.1,1099.3h0M132.4,1099.3h0M158.8,1099.3h0M185.1,1099.3h0M211.4,1099.3h0M237.8,1099.3h0M264.1,1099.3h0M290.5,1099.3h0M316.8,1099.3h0M343.1,1099.3h0M369.5,1099.3h0M395.8,1099.3h0M422.2,1099.3h0M448.5,1099.3h0M474.9,1099.3h0M501.2,1099.3h0M527.5,1099.3h0M553.9,1099.3h0M580.2,1099.3h0M606.5,1099.3h0M632.9,1099.3h0M659.2,1099.3h0M685.6,1099.3h0M711.9,1099.3h0M738.2,1099.3h0M764.6,1099.3h0" stroke="#3a53a4" stroke-width="1.9" stroke-linecap="round" fill="none"/>
<path d="M87.4,901.1h0M87.4,960.7h0M87.4,1050.5h0M87.4,1073.0h0M87.4,1076.0h0M140.1,672.4h0M140.1,725.3h0M140.1,778.1h0M140.1,785.8h0M140.1,831.6h0M140.1,852.2h0M140.1,936.8h0M140.1,944.2h0M192.8,724.5h0M192.8,758.8h0M192.8,803.6h0M192.8,886.0h0M192.8,926.3h0M192.8,944.2h0M192.8,955.2h0M192.8,959.8h0M192.8,961.0h0M192.8,971.0h0M192.8,978.5h0M219.1,852.2h0M219.1,862.4h0M219.1,877.7h0M219.1,906.3h0M219.1,916.7h0M219.1,925.0h0M219.1,929.1h0M219.1,938.7h0M219.1,971.0h0M219.1,984.0h0M219.1,997.0h0M219.1,1006.0h0M219.1,1014.0h0M271.8,1015.0h0M271.8,1023.0h0M271.8,1032.5h0M271.8,1061.0h0M271.8,1066.0h0M324.5,900.8h0M324.5,1055.0h0M350.8,689.7h0M350.8,775.3h0M350.8,809.1h0M377.1,1065.5h0M403.5,1004.0h0M456.2,675.1h0M456.2,700.6h0M456.2,759.4h0M456.2,769.3h0M456.2,872.8h0M456.2,931.0h0M482.5,680.6h0M482.5,765.7h0M482.5,780.8h0M482.5,839.8h0M482.5,843.4h0M482.5,852.2h0M482.5,886.8h0M482.5,963.4h0M482.5,963.5h0M535.2,840.4h0M535.2,948.9h0M535.2,1018.0h0M535.2,1037.0h0M535.2,1042.0h0M535.2,1046.0h0M535.2,1051.0h0M535.2,1058.0h0M535.2,1063.0h0M561.5,1012.0h0M561.5,1018.0h0M561.5,1057.0h0M587.9,686.6h0M587.9,823.6h0M587.9,877.7h0M587.9,888.4h0M587.9,978.5h0M614.2,991.0h0M614.2,1036.0h0M640.5,710.0h0M640.5,726.7h0M640.5,736.9h0M640.5,763.5h0M640.5,795.9h0M640.5,799.2h0M640.5,813.8h0M640.5,838.5h0M640.5,845.3h0M640.5,850.8h0M693.2,887.1h0M693.2,1029.0h0M693.2,1048.0h0M693.2,1070.0h0M693.2,1074.0h0M772.2,836.6h0M772.2,902.7h0M87.4,1099.3h0M113.7,1099.3h0M140.1,1099.3h0M166.4,1099.3h0M192.8,1099.3h0M219.1,1099.3h0M245.4,1099.3h0M271.8,1099.3h0M298.1,1099.3h0M324.5,1099.3h0M350.8,1099.3h0M377.1,1099.3h0M403.5,1099.3h0M429.8,1099.3h0M456.2,1099.3h0M482.5,1099.3h0M508.8,1099.3h0M535.2,1099.3h0M561.5,1099.3h0M587.9,1099.3h0M614.2,1099.3h0M640.5,1099.3h0M666.9,1099.3h0M693.2,1099.3h0M719.6,1099.3h0M745.9,1099.3h0M772.2,1099.3h0" stroke="#ed1c24" stroke-width="1.9" stroke-linecap="round" fill="none"/>
<path d="M71.00,669.00 L71.00,1100.00" fill="none" stroke="#231f20" stroke-width="2.7" stroke-linejoin="miter"/>
<line x1="69.65" y1="669.80" x2="80.80" y2="669.80" stroke="#231f20" stroke-width="3.4" stroke-linecap="butt"/>
<text x="79.50" y="1121.00" font-size="18.8" fill="#231f20" stroke="#231f20" text-anchor="middle">1</text>
<text x="109.40" y="1120.84" font-size="18.8" fill="#231f20" stroke="#231f20" text-anchor="middle">2</text>
<text x="137.10" y="1120.69" font-size="18.8" fill="#231f20" stroke="#231f20" text-anchor="middle">4</text>
<text x="163.30" y="1120.54" font-size="18.8" fill="#231f20" stroke="#231f20" text-anchor="middle">5</text>
<text x="189.90" y="1120.39" font-size="18.8" fill="#231f20" stroke="#231f20" text-anchor="middle">6</text>
<text x="215.70" y="1120.25" font-size="18.8" fill="#231f20" stroke="#231f20" text-anchor="middle">7</text>
<text x="242.30" y="1120.11" font-size="18.8" fill="#231f20" stroke="#231f20" text-anchor="middle">9</text>
<text x="268.00" y="1119.96" font-size="18.8" fill="#231f20" stroke="#231f20" text-anchor="middle">10</text>
<text x="293.50" y="1119.82" font-size="18.8" fill="#231f20" stroke="#231f20" text-anchor="middle">11</text>
<text x="321.00" y="1119.67" font-size="18.8" fill="#231f20" stroke="#231f20" text-anchor="middle">12</text>
<text x="346.70" y="1119.53" font-size="18.8" fill="#231f20" stroke="#231f20" text-anchor="middle">13</text>
<text x="373.00" y="1119.39" font-size="18.8" fill="#231f20" stroke="#231f20" text-anchor="middle">14</text>
<text x="399.10" y="1119.24" font-size="18.8" fill="#231f20" stroke="#231f20" text-anchor="middle">15</text>
<text x="425.40" y="1119.10" font-size="18.8" fill="#231f20" stroke="#231f20" text-anchor="middle">16</text>
<text x="452.70" y="1118.95" font-size="18.8" fill="#231f20" stroke="#231f20" text-anchor="middle">17</text>
<text x="478.10" y="1118.81" font-size="18.8" fill="#231f20" stroke="#231f20" text-anchor="middle">18</text>
<text x="504.30" y="1118.66" font-size="18.8" fill="#231f20" stroke="#231f20" text-anchor="middle">19</text>
<text x="532.00" y="1118.51" font-size="18.8" fill="#231f20" stroke="#231f20" text-anchor="middle">20</text>
<text x="558.30" y="1118.37" font-size="18.8" fill="#231f20" stroke="#231f20" text-anchor="middle">22</text>
<text x="584.50" y="1118.22" font-size="18.8" fill="#231f20" stroke="#231f20" text-anchor="middle">23</text>
<text x="610.30" y="1118.08" font-size="18.8" fill="#231f20" stroke="#231f20" text-anchor="middle">24</text>
<text x="637.30" y="1117.93" font-size="18.8" fill="#231f20" stroke="#231f20" text-anchor="middle">25</text>
<text x="662.70" y="1117.79" font-size="18.8" fill="#231f20" stroke="#231f20" text-anchor="middle">26</text>
<text x="689.70" y="1117.64" font-size="18.8" fill="#231f20" stroke="#231f20" text-anchor="middle">27</text>
<text x="716.60" y="1117.49" font-size="18.8" fill="#231f20" stroke="#231f20" text-anchor="middle">32</text>
<text x="742.80" y="1117.35" font-size="18.8" fill="#231f20" stroke="#231f20" text-anchor="middle">38</text>
<text x="769.00" y="1117.21" font-size="18.8" fill="#231f20" stroke="#231f20" text-anchor="middle">39</text>
<text x="34.00" y="677.00" font-size="26.5" fill="#231f20" stroke="#231f20" text-anchor="start">0.7</text>
<text x="66.80" y="1105.60" font-size="26.5" fill="#231f20" stroke="#231f20" text-anchor="end">0</text>
<text x="84.30" y="674.70" font-size="21.1" fill="#231f20" stroke="#231f20" text-anchor="start">Participant 3</text>
<text x="57.00" y="883.50" font-size="25.4" fill="#231f20" stroke="#231f20" text-anchor="middle" transform="rotate(-90 57.00 883.50)">AU Presence (5 minutes)</text>
<text x="13.40" y="718.50" font-size="56.5" fill="#231f20" text-anchor="start" stroke="none">I</text>
<text x="667.60" y="745.80" font-size="17.7" fill="#231f20" stroke="#231f20" text-anchor="start" font-style="italic">Cohen’s d &gt; 0.2</text>
<text x="809.30" y="731.80" font-size="25.5" fill="#1b75bc" stroke="#1b75bc" text-anchor="start">Low Pain</text>
<text x="814.80" y="917.20" font-size="25.4" fill="#e8283c" stroke="#e8283c" text-anchor="start">High Pain</text>
<path d="M809.72,755.32 L824.14,764.52 L799.42,805.04 L796.26,787.18 L796.67,768.64Z" fill="#c6d5e0" stroke="none" stroke-width="1.0" stroke-linejoin="round"/>
<path d="M925.76,754.50 L913.40,764.52 L935.37,804.35 L938.12,787.18 L938.12,768.64Z" fill="#c6d5e0" stroke="none" stroke-width="1.0" stroke-linejoin="round"/>
<path d="M799.42,806.68 L821.39,810.25 L821.39,820.14 L828.94,842.11 L834.44,867.52 L820.70,853.10 L811.09,840.74 L804.23,824.26Z" fill="#c6d5e0" stroke="none" stroke-width="1.0" stroke-linejoin="round"/>
<path d="M934.96,806.41 L914.09,810.25 L914.77,820.14 L908.59,842.11 L901.73,866.83 L917.38,853.10 L926.99,840.74 L933.86,824.26Z" fill="#c6d5e0" stroke="none" stroke-width="1.0" stroke-linejoin="round"/>
<path d="M820.98,820.14 L838.56,830.03 L820.98,852.41Z" fill="#93c0de" stroke="none" stroke-width="1.0" stroke-linejoin="round"/>
<path d="M824.14,821.79 L838.56,830.03 L828.94,843.49Z" fill="#6fb1da" stroke="none" stroke-width="1.0" stroke-linejoin="round"/>
<path d="M914.77,820.14 L898.29,830.03 L914.77,853.10Z" fill="#93c0de" stroke="none" stroke-width="1.0" stroke-linejoin="round"/>
<path d="M911.61,821.79 L898.29,830.03 L907.91,843.49Z" fill="#6fb1da" stroke="none" stroke-width="1.0" stroke-linejoin="round"/>
<path d="M824.82,756.29 L833.06,751.48 L842.68,751.48 L850.23,756.29 L848.44,761.78 L845.42,764.52 L830.32,764.52 L827.57,761.78Z" fill="#1f93cd" stroke="none" stroke-width="1.0" stroke-linejoin="round"/>
<path d="M827.57,767.96 L847.48,767.96 L850.64,777.57 L837.87,776.20 L830.32,778.67 L824.14,776.20Z" fill="#1f93cd" stroke="none" stroke-width="1.0" stroke-linejoin="round"/>
<path d="M887.31,756.97 L894.86,752.17 L904.47,752.17 L912.99,756.70 L910.65,761.78 L907.91,764.52 L892.80,764.52 L890.05,761.78Z" fill="#1f93cd" stroke="none" stroke-width="1.0" stroke-linejoin="round"/>
<path d="M890.05,767.96 L909.97,767.96 L912.99,776.20 L906.53,778.67 L900.35,776.20 L887.31,776.20Z" fill="#1f93cd" stroke="none" stroke-width="1.0" stroke-linejoin="round"/>
<path d="M833.06,768.64 L844.05,768.64 L848.86,822.89Z" fill="#0a86c6" stroke="none" stroke-width="1.0" stroke-linejoin="round"/>
<path d="M893.49,768.64 L904.47,768.64 L889.37,822.89Z" fill="#0a86c6" stroke="none" stroke-width="1.0" stroke-linejoin="round"/>
<path d="M855.72,748.05 L867.39,761.78 L850.92,766.58Z" fill="#e9eded" stroke="none" stroke-width="1.0" stroke-linejoin="round"/>
<path d="M882.78,748.05 L870.83,761.78 L886.62,766.58Z" fill="#e9eded" stroke="none" stroke-width="1.0" stroke-linejoin="round"/>
<path d="M869.04,811.63 L852.29,821.79 L861.90,820.83 L869.04,822.20 L875.63,820.83 L886.62,821.79Z" fill="#dde4e9" stroke="none" stroke-width="1.0" stroke-linejoin="round"/>
<path d="M839.93,831.13 L847.48,843.49 L859.84,851.73 L869.04,852.82 L879.75,851.73 L891.43,843.49 L897.61,831.13 L892.11,855.85 L879.75,865.46 L869.04,866.83 L859.16,865.46 L847.48,857.22Z" fill="#e1e7eb" stroke="none" stroke-width="1.0" stroke-linejoin="round"/>
<path d="M855.72,747.63 L845.42,743.93 L831.00,742.14 L817.96,745.71 L809.72,755.32 L796.67,768.64 L796.26,787.18 L799.42,806.41 L804.23,824.26 L811.09,840.74 L820.70,853.10 L834.44,867.52 L849.54,877.82 L869.04,881.66 L888.54,877.82 L903.65,867.52 L917.38,853.10 L926.99,840.74 L933.86,824.26 L937.71,806.41 L938.12,787.18 L938.12,768.64 L925.76,754.50 L918.89,745.71 L905.85,741.87 L893.49,743.51 L882.50,747.63" fill="none" stroke="#231f20" stroke-width="1.05" stroke-linejoin="round"/>
<path d="M869.45,763.15 L869.87,796.80" fill="none" stroke="#231f20" stroke-width="1.3" stroke-linejoin="round"/>
<path d="M852.98,806.13 L853.88,806.48 L855.13,806.97 L856.61,807.54 L858.19,808.14 L859.77,808.70 L861.22,809.16 L862.53,809.55 L863.82,809.93 L865.10,810.27 L866.39,810.55 L867.70,810.74 L869.04,810.80 L870.44,810.74 L871.88,810.55 L873.34,810.27 L874.81,809.93 L876.27,809.55 L877.69,809.16 L879.19,808.70 L880.78,808.14 L882.35,807.54 L883.81,806.97 L885.04,806.48 L885.93,806.13" fill="none" stroke="#231f20" stroke-width="1.05" stroke-linejoin="round"/>
<path d="M824.14,766.86 L824.96,766.32 L826.10,765.53 L827.45,764.64 L828.89,763.80 L830.32,763.15 L831.74,762.68 L833.24,762.28 L834.78,761.99 L836.34,761.81 L837.87,761.78 L839.42,761.90 L841.00,762.17 L842.57,762.56 L844.06,763.03 L845.42,763.56 L846.80,764.22 L848.25,765.01 L849.52,765.85 L850.39,766.64 L850.64,767.27 L850.08,767.73 L848.87,768.09 L847.27,768.37 L845.57,768.59 L844.05,768.78 L842.69,768.93 L841.32,769.02 L839.94,769.07 L838.56,769.07 L837.18,769.06 L835.80,769.02 L834.40,768.95 L833.01,768.85 L831.65,768.70 L830.32,768.51 L828.94,768.22 L827.50,767.85 L826.13,767.45 L824.97,767.10 L824.14,766.86Z" fill="#fff" stroke="#231f20" stroke-width="1.05" stroke-linejoin="round"/>
<circle cx="837.60" cy="765.21" r="3.4331227684702004" fill="#0d0a0b" stroke="none" stroke-width="0"/>
<circle cx="837.60" cy="765.21" r="0.45" fill="#c8102e" stroke="none" stroke-width="0"/>
<path d="M887.31,767.27 L888.14,766.74 L889.30,765.96 L890.67,765.09 L892.11,764.24 L893.49,763.56 L894.80,763.03 L896.15,762.56 L897.52,762.17 L898.92,761.90 L900.35,761.78 L901.85,761.81 L903.42,761.99 L905.00,762.28 L906.52,762.68 L907.91,763.15 L909.32,763.78 L910.81,764.57 L912.14,765.41 L913.08,766.21 L913.40,766.86 L912.92,767.34 L911.80,767.72 L910.30,768.03 L908.69,768.28 L907.22,768.51 L905.89,768.70 L904.52,768.85 L903.13,768.95 L901.74,769.02 L900.35,769.06 L898.97,769.07 L897.57,769.07 L896.18,769.02 L894.82,768.93 L893.49,768.78 L892.11,768.53 L890.67,768.19 L889.30,767.83 L888.14,767.50 L887.31,767.27Z" fill="#fff" stroke="#231f20" stroke-width="1.05" stroke-linejoin="round"/>
<circle cx="900.35" cy="765.21" r="3.4331227684702004" fill="#0d0a0b" stroke="none" stroke-width="0"/>
<circle cx="900.35" cy="765.21" r="0.45" fill="#c8102e" stroke="none" stroke-width="0"/>
<path d="M838.56,830.03 L850.92,822.89 L861.90,820.83 L869.04,822.20 L875.63,820.83 L887.31,822.89 L898.29,830.03 L890.74,836.62 L879.07,842.11 L869.04,843.07 L859.84,842.11 L846.80,836.62Z" fill="#fff" stroke="#231f20" stroke-width="1.05" stroke-linejoin="round"/>
<path d="M838.56,830.03 L853.66,826.73 L861.90,826.18 L869.04,827.28 L876.32,826.18 L883.87,826.73 L898.29,830.03" fill="none" stroke="#231f20" stroke-width="1.05" stroke-linejoin="round"/>
<path d="M838.56,830.03 L847.48,843.49 L859.84,851.73 L869.04,852.82 L879.75,851.73 L891.43,843.49 L898.29,830.03" fill="none" stroke="#231f20" stroke-width="1.05" stroke-linejoin="round"/>
<path d="M839.93,941.67 L852.29,943.73 L875.63,972.57Z" fill="#8fbcda" stroke="none" stroke-width="1.0" stroke-linejoin="round"/>
<path d="M899.67,943.05 L911.34,941.67 L876.73,972.57Z" fill="#8fbcda" stroke="none" stroke-width="1.0" stroke-linejoin="round"/>
<path d="M855.45,966.39 L857.37,966.39 L862.18,1028.87 L860.80,1028.87Z" fill="#d3e0e8" stroke="none" stroke-width="1.0" stroke-linejoin="round"/>
<path d="M895.27,966.39 L893.35,966.39 L890.74,1028.87 L892.11,1028.87Z" fill="#d3e0e8" stroke="none" stroke-width="1.0" stroke-linejoin="round"/>
<path d="M814.52,1038.49 L851.60,1036.43 L826.47,1054.28Z" fill="#0672b4" stroke="none" stroke-width="1.0" stroke-linejoin="round"/>
<path d="M933.31,1037.80 L899.67,1036.84 L923.01,1053.59Z" fill="#0672b4" stroke="none" stroke-width="1.0" stroke-linejoin="round"/>
<path d="M851.60,1037.11 L840.62,1065.95 L856.41,1073.50 L854.35,1046.73Z" fill="#86bad9" stroke="none" stroke-width="1.0" stroke-linejoin="round"/>
<path d="M899.67,1037.11 L909.28,1065.95 L894.86,1073.50 L896.92,1046.73Z" fill="#86bad9" stroke="none" stroke-width="1.0" stroke-linejoin="round"/>
<path d="M852.98,1039.86 L875.63,1041.92 L857.78,1073.50Z" fill="#93c1db" stroke="none" stroke-width="1.0" stroke-linejoin="round"/>
<path d="M875.63,1041.92 L898.29,1039.86 L894.86,1073.50Z" fill="#93c1db" stroke="none" stroke-width="1.0" stroke-linejoin="round"/>
<path d="M871.51,1052.22 L857.78,1073.92 L875.63,1076.66Z" fill="#c7d9e1" stroke="none" stroke-width="1.0" stroke-linejoin="round"/>
<path d="M879.75,1052.22 L894.86,1073.92 L875.63,1076.66Z" fill="#c7d9e1" stroke="none" stroke-width="1.0" stroke-linejoin="round"/>
<path d="M875.63,1042.61 L872.89,1053.59 L875.63,1072.82 L878.38,1053.59Z" fill="#ffffff" stroke="none" stroke-width="1.0" stroke-linejoin="round"/>
<path d="M799.42,961.31 L799.60,963.84 L799.83,967.29 L800.11,971.40 L800.46,975.90 L800.91,980.50 L801.48,984.93 L802.17,989.31 L802.98,993.88 L803.88,998.55 L804.86,1003.25 L805.90,1007.89 L806.97,1012.39 L808.06,1016.86 L809.18,1021.37 L810.36,1025.83 L811.63,1030.12 L813.00,1034.15 L814.52,1037.80 L816.21,1041.03 L818.03,1043.90 L819.97,1046.51 L822.00,1048.94 L824.09,1051.27 L826.20,1053.59 L828.34,1055.90 L830.52,1058.12 L832.76,1060.24 L835.07,1062.26 L837.46,1064.17 L839.93,1065.95 L842.49,1067.62 L845.12,1069.20 L847.83,1070.66 L850.61,1071.98 L853.47,1073.17 L856.41,1074.19 L859.45,1075.07 L862.61,1075.81 L865.85,1076.41 L869.12,1076.85 L872.40,1077.12 L875.63,1077.21 L878.89,1077.12 L882.22,1076.85 L885.55,1076.41 L888.81,1075.81 L891.93,1075.07 L894.86,1074.19 L897.55,1073.17 L900.05,1071.98 L902.41,1070.66 L904.70,1069.20 L906.97,1067.62 L909.28,1065.95 L911.65,1064.17 L914.03,1062.26 L916.40,1060.24 L918.71,1058.12 L920.93,1055.90 L923.01,1053.59 L924.97,1051.21 L926.83,1048.74 L928.59,1046.17 L930.26,1043.50 L931.83,1040.71 L933.31,1037.80 L934.68,1034.82 L935.93,1031.80 L937.09,1028.66 L938.17,1025.34 L939.19,1021.77 L940.18,1017.89 L941.13,1013.57 L942.04,1008.86 L942.90,1003.90 L943.68,998.84 L944.38,993.84 L944.98,989.05 L945.48,984.16 L945.87,978.98 L946.18,973.86 L946.42,969.14 L946.61,965.16 L946.77,962.27" fill="none" stroke="#231f20" stroke-width="1.05" stroke-linejoin="round"/>
<path d="M814.11,949.50 L815.32,948.69 L816.96,947.53 L818.91,946.17 L821.07,944.79 L823.30,943.56 L825.51,942.63 L827.75,942.01 L830.12,941.54 L832.57,941.21 L835.06,941.02 L837.53,940.95 L839.93,940.99 L842.28,941.17 L844.62,941.50 L846.94,941.96 L849.23,942.50 L851.48,943.10 L853.66,943.73 L855.91,944.47 L858.26,945.36 L860.56,946.31 L862.68,947.22 L864.45,947.99 L865.75,948.54" fill="none" stroke="#231f20" stroke-width="1.05" stroke-linejoin="round"/>
<path d="M887.31,947.85 L888.55,947.31 L890.26,946.53 L892.29,945.62 L894.50,944.67 L896.78,943.78 L898.98,943.05 L901.17,942.42 L903.46,941.83 L905.80,941.29 L908.16,940.83 L910.48,940.49 L912.71,940.30 L914.88,940.23 L917.03,940.26 L919.13,940.41 L921.19,940.69 L923.17,941.10 L925.07,941.67 L926.98,942.53 L928.92,943.69 L930.79,944.99 L932.49,946.27 L933.91,947.37 L934.96,948.13" fill="none" stroke="#231f20" stroke-width="1.05" stroke-linejoin="round"/>
<path d="M876.60,961.31 L876.60,996.88" fill="none" stroke="#231f20" stroke-width="1.3" stroke-linejoin="round"/>
<path d="M860.53,1008.28 L861.34,1008.56 L862.46,1008.97 L863.79,1009.45 L865.23,1009.94 L866.70,1010.39 L868.08,1010.75 L869.42,1011.02 L870.80,1011.25 L872.20,1011.44 L873.60,1011.59 L874.98,1011.68 L876.32,1011.71 L877.62,1011.68 L878.89,1011.59 L880.14,1011.44 L881.38,1011.25 L882.62,1011.02 L883.87,1010.75 L885.22,1010.39 L886.67,1009.94 L888.12,1009.45 L889.47,1008.97 L890.61,1008.56 L891.43,1008.28" fill="none" stroke="#231f20" stroke-width="1.05" stroke-linejoin="round"/>
<path d="M828.26,963.64 L829.18,963.42 L830.48,963.10 L832.00,962.74 L833.60,962.40 L835.12,962.13 L836.59,961.94 L838.10,961.77 L839.62,961.64 L841.15,961.57 L842.68,961.58 L844.21,961.69 L845.76,961.87 L847.31,962.11 L848.81,962.38 L850.23,962.68 L851.76,963.01 L853.43,963.38 L854.94,963.78 L856.03,964.19 L856.41,964.61 L855.87,965.05 L854.60,965.52 L852.92,966.00 L851.12,966.44 L849.54,966.80 L848.18,967.11 L846.83,967.37 L845.47,967.58 L844.09,967.71 L842.68,967.76 L841.20,967.73 L839.67,967.62 L838.13,967.44 L836.60,967.17 L835.12,966.80 L833.60,966.26 L832.00,965.55 L830.48,964.79 L829.18,964.11 L828.26,963.64Z" fill="#fff" stroke="#231f20" stroke-width="1.05" stroke-linejoin="round"/>
<circle cx="842.95" cy="964.33" r="2.4718483932985444" fill="#0d0a0b" stroke="none" stroke-width="0"/>
<circle cx="842.95" cy="964.33" r="0.45" fill="#c8102e" stroke="none" stroke-width="0"/>
<path d="M894.86,964.61 L895.79,964.29 L897.11,963.82 L898.65,963.29 L900.24,962.80 L901.73,962.41 L903.10,962.13 L904.47,961.90 L905.85,961.73 L907.22,961.62 L908.59,961.58 L909.97,961.64 L911.35,961.78 L912.73,961.97 L914.10,962.19 L915.46,962.41 L917.01,962.60 L918.75,962.79 L920.38,963.01 L921.58,963.29 L922.05,963.64 L921.58,964.14 L920.38,964.76 L918.75,965.41 L917.01,966.03 L915.46,966.53 L914.10,966.92 L912.73,967.25 L911.35,967.51 L909.97,967.68 L908.59,967.76 L907.22,967.73 L905.85,967.60 L904.47,967.38 L903.10,967.11 L901.73,966.80 L900.24,966.41 L898.65,965.91 L897.11,965.39 L895.79,964.92 L894.86,964.61Z" fill="#fff" stroke="#231f20" stroke-width="1.05" stroke-linejoin="round"/>
<circle cx="909.28" cy="964.61" r="2.4718483932985444" fill="#0d0a0b" stroke="none" stroke-width="0"/>
<circle cx="909.28" cy="964.61" r="0.45" fill="#c8102e" stroke="none" stroke-width="0"/>
<path d="M851.60,1036.43 L868.77,1026.81 L876.32,1028.87 L883.19,1026.81 L898.98,1036.43 L889.37,1039.86 L876.32,1041.23 L863.28,1039.86Z" fill="#fff" stroke="#231f20" stroke-width="1.05" stroke-linejoin="round"/>
<path d="M855.04,1036.43 L870.14,1030.93 L876.32,1032.31 L882.78,1030.93 L896.23,1036.43" fill="none" stroke="#231f20" stroke-width="1.05" stroke-linejoin="round"/>
<path d="M852.29,1036.43 L898.98,1036.43" fill="none" stroke="#231f20" stroke-width="1.05" stroke-linejoin="round"/>
</g>
<g>
<text x="973.80" y="719.80" font-size="56.5" fill="#231f20" stroke="#231f20" text-anchor="start">J</text>
<rect x="981.00" y="678.50" width="11.40" height="7.10" fill="#fff" stroke="none" stroke-width="1.0"/>
<path d="M1234.67,800.95 L1263.19,824.51 L1221.04,897.66 L1213.60,864.18 L1212.36,826.99Z" fill="#0c5ba7" stroke="none" stroke-width="1.0" stroke-linejoin="round"/>
<path d="M1461.55,798.47 L1435.52,824.51 L1476.43,896.42 L1481.39,864.18 L1482.63,826.99Z" fill="#0c5ba7" stroke="none" stroke-width="1.0" stroke-linejoin="round"/>
<path d="M1221.04,898.90 L1258.97,913.77 L1261.45,928.65 L1274.35,975.76 L1284.26,1015.43 L1256.99,990.64 L1242.11,965.84 L1229.71,936.09Z" fill="#0c5ba7" stroke="none" stroke-width="1.0" stroke-linejoin="round"/>
<path d="M1476.43,897.66 L1439.24,913.77 L1434.28,928.65 L1421.88,975.76 L1413.20,1014.19 L1440.47,991.88 L1457.83,965.84 L1468.99,936.09Z" fill="#0c5ba7" stroke="none" stroke-width="1.0" stroke-linejoin="round"/>
<path d="M1263.19,804.67 L1274.35,799.22 L1301.62,799.22 L1311.54,804.67 L1309.55,810.87 L1313.52,815.83 L1309.06,822.03 L1299.14,818.31 L1276.82,818.31 L1264.43,824.01 L1263.19,817.57 L1265.67,812.11Z" fill="#a6c63b" stroke="none" stroke-width="1.0" stroke-linejoin="round"/>
<path d="M1263.19,826.99 L1276.82,831.45 L1301.62,831.45 L1313.52,827.48 L1311.54,834.43 L1313.52,840.63 L1309.55,845.59 L1304.10,850.54 L1274.35,850.54 L1263.19,843.85 L1266.91,838.89 L1263.19,833.93Z" fill="#a6c63b" stroke="none" stroke-width="1.0" stroke-linejoin="round"/>
<path d="M1436.76,804.67 L1425.60,799.22 L1398.32,799.22 L1388.40,804.67 L1390.39,810.87 L1386.42,815.83 L1390.88,822.03 L1400.80,818.31 L1423.12,818.31 L1435.52,824.01 L1436.76,817.57 L1434.28,812.11Z" fill="#a6c63b" stroke="none" stroke-width="1.0" stroke-linejoin="round"/>
<path d="M1436.76,826.99 L1423.12,831.45 L1398.32,831.45 L1386.42,827.48 L1388.40,834.43 L1386.42,840.63 L1390.39,845.59 L1395.84,850.54 L1425.60,850.54 L1436.76,843.85 L1433.04,838.89 L1436.76,833.93Z" fill="#a6c63b" stroke="none" stroke-width="1.0" stroke-linejoin="round"/>
<path d="M1281.78,851.78 L1304.10,851.78 L1294.18,886.50 L1276.82,885.26 L1263.19,879.06Z" fill="#efe52e" stroke="none" stroke-width="1.0" stroke-linejoin="round"/>
<path d="M1398.32,851.78 L1418.16,851.78 L1436.76,879.06 L1423.12,884.02 L1405.76,885.26Z" fill="#efe52e" stroke="none" stroke-width="1.0" stroke-linejoin="round"/>
<path d="M1327.66,791.04 L1350.72,818.31 L1314.02,828.23Z" fill="#72b07a" stroke="none" stroke-width="1.0" stroke-linejoin="round"/>
<path d="M1373.53,789.80 L1350.72,818.31 L1384.69,826.99Z" fill="#72b07a" stroke="none" stroke-width="1.0" stroke-linejoin="round"/>
<path d="M1278.06,779.88 L1304.10,782.85 L1350.72,841.87Z" fill="#a6c63b" stroke="none" stroke-width="1.0" stroke-linejoin="round"/>
<path d="M1397.08,781.86 L1420.64,778.64 L1351.21,841.87Z" fill="#a6c63b" stroke="none" stroke-width="1.0" stroke-linejoin="round"/>
<path d="M1285.50,850.54 L1304.10,850.54 L1316.50,938.57Z" fill="#7ab26e" stroke="none" stroke-width="1.0" stroke-linejoin="round"/>
<path d="M1397.08,850.54 L1415.68,850.54 L1384.69,938.57Z" fill="#7ab26e" stroke="none" stroke-width="1.0" stroke-linejoin="round"/>
<path d="M1312.28,829.47 L1315.51,829.47 L1323.44,913.77 L1318.23,938.57Z" fill="#f8c31d" stroke="none" stroke-width="1.0" stroke-linejoin="round"/>
<path d="M1386.42,829.47 L1389.64,829.47 L1383.45,938.57 L1377.99,913.77Z" fill="#f8c31d" stroke="none" stroke-width="1.0" stroke-linejoin="round"/>
<path d="M1349.97,888.98 L1325.92,906.33 L1349.97,913.77Z" fill="#8a0a1f" stroke="none" stroke-width="1.0" stroke-linejoin="round"/>
<path d="M1351.96,888.98 L1380.97,905.84 L1351.96,913.77Z" fill="#8a0a1f" stroke="none" stroke-width="1.0" stroke-linejoin="round"/>
<path d="M1350.72,915.01 L1385.92,943.03 L1366.09,937.33 L1350.72,941.54 L1336.33,937.33 L1316.00,943.03Z" fill="#7db568" stroke="none" stroke-width="1.0" stroke-linejoin="round"/>
<path d="M1263.19,928.65 L1299.14,954.69 L1266.91,946.01Z" fill="#72b07a" stroke="none" stroke-width="1.0" stroke-linejoin="round"/>
<path d="M1266.91,946.01 L1299.14,954.69 L1269.39,958.40Z" fill="#e8283c" stroke="none" stroke-width="1.0" stroke-linejoin="round"/>
<path d="M1269.39,958.40 L1299.14,954.69 L1275.59,977.00Z" fill="#52a594" stroke="none" stroke-width="1.0" stroke-linejoin="round"/>
<path d="M1434.28,928.65 L1400.31,954.69 L1430.56,946.01Z" fill="#72b07a" stroke="none" stroke-width="1.0" stroke-linejoin="round"/>
<path d="M1430.56,946.01 L1400.31,954.69 L1428.08,958.40Z" fill="#e8283c" stroke="none" stroke-width="1.0" stroke-linejoin="round"/>
<path d="M1428.08,958.40 L1400.31,954.69 L1421.88,975.76Z" fill="#52a594" stroke="none" stroke-width="1.0" stroke-linejoin="round"/>
<path d="M1299.14,955.92 L1318.98,970.80 L1350.72,978.24 L1383.45,970.80 L1400.31,955.92 L1390.88,980.72 L1383.45,1000.56 L1363.61,1006.76 L1350.72,1008.00 L1336.33,1006.76 L1316.50,1000.56 L1307.82,980.72Z" fill="#7db568" stroke="none" stroke-width="1.0" stroke-linejoin="round"/>
<path d="M1299.14,958.40 L1284.76,1012.95 L1315.26,1031.55Z" fill="#6f0a19" stroke="none" stroke-width="1.0" stroke-linejoin="round"/>
<path d="M1400.31,958.40 L1413.20,1012.95 L1384.69,1031.55Z" fill="#6f0a19" stroke="none" stroke-width="1.0" stroke-linejoin="round"/>
<path d="M1307.82,980.72 L1316.50,1000.56 L1323.94,1006.76 L1315.26,1030.31Z" fill="#0fa4d9" stroke="none" stroke-width="1.0" stroke-linejoin="round"/>
<path d="M1390.88,980.72 L1383.45,1000.56 L1377.25,1006.76 L1384.69,1030.31Z" fill="#0fa4d9" stroke="none" stroke-width="1.0" stroke-linejoin="round"/>
<path d="M1323.94,1006.76 L1345.01,1009.24 L1350.72,1036.51 L1315.26,1031.55Z" fill="#e82a36" stroke="none" stroke-width="1.0" stroke-linejoin="round"/>
<path d="M1377.25,1006.76 L1356.17,1009.24 L1350.72,1036.51 L1384.69,1031.55Z" fill="#e82a36" stroke="none" stroke-width="1.0" stroke-linejoin="round"/>
<path d="M1327.66,791.04 L1304.10,782.36 L1278.06,779.38 L1253.27,784.34 L1234.67,800.95 L1212.36,826.99 L1213.60,864.18 L1221.04,898.90 L1229.71,936.09 L1242.11,965.84 L1256.99,990.64 L1284.26,1015.43 L1314.02,1031.55 L1350.72,1037.75 L1385.92,1031.55 L1413.20,1014.19 L1440.47,991.88 L1457.83,965.84 L1468.99,936.09 L1476.43,898.90 L1481.39,864.18 L1482.63,826.99 L1461.55,798.47 L1444.19,784.34 L1420.64,778.64 L1397.08,781.86 L1373.53,789.80" fill="none" stroke="#231f20" stroke-width="1.4" stroke-linejoin="round"/>
<path d="M1350.72,818.31 L1351.21,913.77" fill="none" stroke="#231f20" stroke-width="1.5" stroke-linejoin="round"/>
<path d="M1327.66,791.04 L1350.72,818.31 L1373.53,789.80" fill="none" stroke="#231f20" stroke-width="0.6" stroke-linejoin="round"/>
<path d="M1263.19,825.75 L1279.30,818.31 L1299.14,818.31 L1314.02,828.23 L1299.14,831.95 L1279.30,831.95Z" fill="#fff" stroke="#231f20" stroke-width="1.4" stroke-linejoin="round"/>
<path d="M1436.76,825.75 L1421.88,818.31 L1402.04,818.31 L1387.16,828.23 L1402.04,831.95 L1421.88,831.95Z" fill="#fff" stroke="#231f20" stroke-width="1.4" stroke-linejoin="round"/>
<circle cx="1288.73" cy="825.25" r="6.2" fill="#0d0a0b" stroke="none" stroke-width="0"/>
<circle cx="1288.73" cy="825.25" r="0.5" fill="#c8102e" stroke="none" stroke-width="0"/>
<circle cx="1411.96" cy="825.25" r="6.2" fill="#0d0a0b" stroke="none" stroke-width="0"/>
<circle cx="1411.96" cy="825.25" r="0.5" fill="#c8102e" stroke="none" stroke-width="0"/>
<path d="M1299.14,954.69 L1318.98,942.29 L1337.57,937.33 L1350.72,941.05 L1366.09,937.33 L1384.69,942.29 L1400.31,954.69 L1383.45,970.80 L1368.57,977.00 L1350.72,978.24 L1336.33,977.00 L1318.98,970.80Z" fill="#fff" stroke="#231f20" stroke-width="1.4" stroke-linejoin="round"/>
<path d="M1299.14,954.69 L1337.57,951.71 L1350.72,954.19 L1366.09,951.71 L1400.31,954.69" fill="none" stroke="#231f20" stroke-width="1.2" stroke-linejoin="round"/>
<path d="M1299.14,955.18 L1350.72,957.16 L1400.31,955.18" fill="none" stroke="#231f20" stroke-width="1.2" stroke-linejoin="round"/>
<text x="1062.20" y="858.40" font-size="30.9" fill="#231f20" stroke="#231f20" text-anchor="start">AU26</text>
<line x1="1141.00" y1="848.40" x2="1221.00" y2="848.40" stroke="#231f20" stroke-width="2.5" stroke-linecap="butt"/>
<path d="M1217.10,844.00 L1221.50,848.40 L1217.10,852.80" fill="none" stroke="#231f20" stroke-width="2.5" stroke-linejoin="miter"/>
<text x="1062.20" y="911.80" font-size="30.9" fill="#231f20" stroke="#231f20" text-anchor="start">AU39</text>
<line x1="1141.00" y1="902.20" x2="1327.90" y2="902.20" stroke="#231f20" stroke-width="2.5" stroke-linecap="butt"/>
<path d="M1324.00,897.80 L1328.40,902.20 L1324.00,906.60" fill="none" stroke="#231f20" stroke-width="2.5" stroke-linejoin="miter"/>
<text x="1062.20" y="963.80" font-size="30.9" fill="#231f20" stroke="#231f20" text-anchor="start">AU14</text>
<line x1="1141.00" y1="954.60" x2="1274.70" y2="954.60" stroke="#231f20" stroke-width="2.5" stroke-linecap="butt"/>
<path d="M1270.80,950.20 L1275.20,954.60 L1270.80,959.00" fill="none" stroke="#231f20" stroke-width="2.5" stroke-linejoin="miter"/>
<text x="1062.20" y="1015.80" font-size="30.9" fill="#231f20" stroke="#231f20" text-anchor="start">AU15</text>
<line x1="1141.00" y1="1005.60" x2="1282.90" y2="1005.60" stroke="#231f20" stroke-width="2.5" stroke-linecap="butt"/>
<path d="M1279.00,1001.20 L1283.40,1005.60 L1279.00,1010.00" fill="none" stroke="#231f20" stroke-width="2.5" stroke-linejoin="miter"/>
<text x="1356.50" y="1083.40" font-size="30.4" fill="#231f20" stroke="#231f20" text-anchor="middle">N = 12</text>
<defs><linearGradient id="jet" x1="0" y1="0" x2="0" y2="1"><stop offset="0" stop-color="#7a1528"/><stop offset="0.06" stop-color="#a01830"/><stop offset="0.13" stop-color="#e01c3c"/><stop offset="0.17" stop-color="#e82030"/><stop offset="0.24" stop-color="#e8602c"/><stop offset="0.3" stop-color="#f0a020"/><stop offset="0.345" stop-color="#f8e020"/><stop offset="0.4" stop-color="#c8d030"/><stop offset="0.46" stop-color="#8fb840"/><stop offset="0.54" stop-color="#60a878"/><stop offset="0.6" stop-color="#48a8a0"/><stop offset="0.66" stop-color="#10b0d8"/><stop offset="0.7" stop-color="#1898d0"/><stop offset="0.76" stop-color="#2870b8"/><stop offset="0.85" stop-color="#3060a8"/><stop offset="1.0" stop-color="#2c4a98"/></linearGradient></defs>
<rect x="1554.20" y="775.90" width="28.20" height="253.20" fill="url(#jet)" stroke="#3f3c3d" stroke-width="1.6"/>
<text x="1591.80" y="789.00" font-size="30.4" fill="#231f20" stroke="#231f20" text-anchor="start">0.3</text>
<text x="1585.80" y="1039.20" font-size="30.4" fill="#231f20" stroke="#231f20" text-anchor="start">-0.3</text>
<text x="1528.50" y="874.40" font-size="23.5" fill="#231f20" stroke="#231f20" text-anchor="start" transform="rotate(-90 1528.50 874.40)">High Pain</text>
<text x="1528.50" y="1031.80" font-size="23.5" fill="#231f20" stroke="#231f20" text-anchor="start" transform="rotate(-90 1528.50 1031.80)">Low Pain</text>
<line x1="1539.30" y1="868.30" x2="1539.30" y2="778.30" stroke="#231f20" stroke-width="2.1" stroke-linecap="butt"/>
<path d="M1535.30,783.10 L1539.30,778.30 L1543.30,783.10" fill="none" stroke="#231f20" stroke-width="2.1" stroke-linejoin="miter"/>
<line x1="1539.30" y1="938.90" x2="1539.30" y2="1028.50" stroke="#231f20" stroke-width="2.1" stroke-linecap="butt"/>
<path d="M1535.30,1023.70 L1539.30,1028.50 L1543.30,1023.70" fill="none" stroke="#231f20" stroke-width="2.1" stroke-linejoin="miter"/>
<text x="1635.80" y="829.30" font-size="30.8" fill="#231f20" stroke="#231f20" text-anchor="start" transform="rotate(90 1635.80 829.30)">Expression</text>
<text x="1597.30" y="833.20" font-size="31.1" fill="#231f20" stroke="#231f20" text-anchor="start" transform="rotate(90 1597.30 833.20)" font-style="italic">Cohen’s d</text>
</g>
</svg>
</body></html>
